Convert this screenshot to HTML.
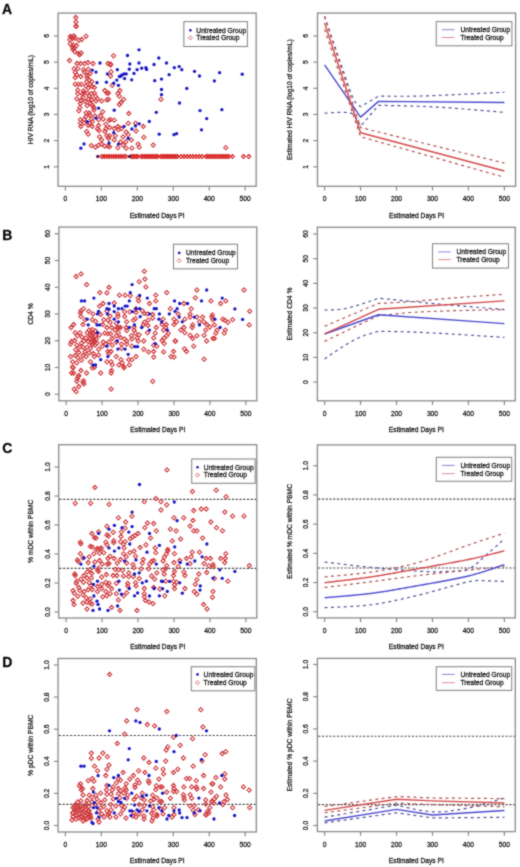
<!DOCTYPE html>
<html><head><meta charset="utf-8"><style>
html,body{margin:0;padding:0;background:#fff;width:520px;height:867px;overflow:hidden;}
svg{display:block;}
svg text{font-family:"Liberation Sans", sans-serif;font-size:6.7px;fill:#1a1a1a;stroke:#1a1a1a;stroke-width:0.26px;}
svg{will-change:transform;}
</style></head><body>
<svg width="520" height="867" viewBox="0 0 520 867">
<defs><filter id="soft" x="0" y="0" width="520" height="867" filterUnits="userSpaceOnUse" color-interpolation-filters="sRGB"><feConvolveMatrix order="3" kernelMatrix="1 2 1 2 12 2 1 2 1" divisor="24" edgeMode="duplicate"/></filter></defs>
<g filter="url(#soft)"><rect x="0" y="0" width="520" height="867" fill="#fff"/>
<rect x="58.10" y="13.10" width="198.10" height="173.20" fill="none" stroke="#8a8a8a" stroke-width="1.3"/>
<line x1="65.40" y1="186.30" x2="65.40" y2="190.50" stroke="#8a8a8a" stroke-width="1.2"/>
<text x="65.40" y="200.90" text-anchor="middle">0</text>
<line x1="101.36" y1="186.30" x2="101.36" y2="190.50" stroke="#8a8a8a" stroke-width="1.2"/>
<text x="101.36" y="200.90" text-anchor="middle">100</text>
<line x1="137.32" y1="186.30" x2="137.32" y2="190.50" stroke="#8a8a8a" stroke-width="1.2"/>
<text x="137.32" y="200.90" text-anchor="middle">200</text>
<line x1="173.28" y1="186.30" x2="173.28" y2="190.50" stroke="#8a8a8a" stroke-width="1.2"/>
<text x="173.28" y="200.90" text-anchor="middle">300</text>
<line x1="209.24" y1="186.30" x2="209.24" y2="190.50" stroke="#8a8a8a" stroke-width="1.2"/>
<text x="209.24" y="200.90" text-anchor="middle">400</text>
<line x1="245.20" y1="186.30" x2="245.20" y2="190.50" stroke="#8a8a8a" stroke-width="1.2"/>
<text x="245.20" y="200.90" text-anchor="middle">500</text>
<text x="157.15" y="217.50" text-anchor="middle">Estimated Days PI</text>
<line x1="58.10" y1="166.80" x2="53.90" y2="166.80" stroke="#8a8a8a" stroke-width="1.2"/>
<text transform="translate(48.90,166.80) rotate(-90)" text-anchor="middle">1</text>
<line x1="58.10" y1="140.64" x2="53.90" y2="140.64" stroke="#8a8a8a" stroke-width="1.2"/>
<text transform="translate(48.90,140.64) rotate(-90)" text-anchor="middle">2</text>
<line x1="58.10" y1="114.48" x2="53.90" y2="114.48" stroke="#8a8a8a" stroke-width="1.2"/>
<text transform="translate(48.90,114.48) rotate(-90)" text-anchor="middle">3</text>
<line x1="58.10" y1="88.32" x2="53.90" y2="88.32" stroke="#8a8a8a" stroke-width="1.2"/>
<text transform="translate(48.90,88.32) rotate(-90)" text-anchor="middle">4</text>
<line x1="58.10" y1="62.16" x2="53.90" y2="62.16" stroke="#8a8a8a" stroke-width="1.2"/>
<text transform="translate(48.90,62.16) rotate(-90)" text-anchor="middle">5</text>
<line x1="58.10" y1="36.00" x2="53.90" y2="36.00" stroke="#8a8a8a" stroke-width="1.2"/>
<text transform="translate(48.90,36.00) rotate(-90)" text-anchor="middle">6</text>
<text transform="translate(32.60,99.70) rotate(-90)" text-anchor="middle">HIV RNA (log10 of copies/mL)</text>
<rect x="317.50" y="13.10" width="198.10" height="173.20" fill="none" stroke="#8a8a8a" stroke-width="1.3"/>
<line x1="324.60" y1="186.30" x2="324.60" y2="190.50" stroke="#8a8a8a" stroke-width="1.2"/>
<text x="324.60" y="200.90" text-anchor="middle">0</text>
<line x1="360.56" y1="186.30" x2="360.56" y2="190.50" stroke="#8a8a8a" stroke-width="1.2"/>
<text x="360.56" y="200.90" text-anchor="middle">100</text>
<line x1="396.52" y1="186.30" x2="396.52" y2="190.50" stroke="#8a8a8a" stroke-width="1.2"/>
<text x="396.52" y="200.90" text-anchor="middle">200</text>
<line x1="432.48" y1="186.30" x2="432.48" y2="190.50" stroke="#8a8a8a" stroke-width="1.2"/>
<text x="432.48" y="200.90" text-anchor="middle">300</text>
<line x1="468.44" y1="186.30" x2="468.44" y2="190.50" stroke="#8a8a8a" stroke-width="1.2"/>
<text x="468.44" y="200.90" text-anchor="middle">400</text>
<line x1="504.40" y1="186.30" x2="504.40" y2="190.50" stroke="#8a8a8a" stroke-width="1.2"/>
<text x="504.40" y="200.90" text-anchor="middle">500</text>
<text x="416.55" y="217.50" text-anchor="middle">Estimated Days PI</text>
<line x1="317.50" y1="166.80" x2="313.30" y2="166.80" stroke="#8a8a8a" stroke-width="1.2"/>
<text transform="translate(308.30,166.80) rotate(-90)" text-anchor="middle">1</text>
<line x1="317.50" y1="140.64" x2="313.30" y2="140.64" stroke="#8a8a8a" stroke-width="1.2"/>
<text transform="translate(308.30,140.64) rotate(-90)" text-anchor="middle">2</text>
<line x1="317.50" y1="114.48" x2="313.30" y2="114.48" stroke="#8a8a8a" stroke-width="1.2"/>
<text transform="translate(308.30,114.48) rotate(-90)" text-anchor="middle">3</text>
<line x1="317.50" y1="88.32" x2="313.30" y2="88.32" stroke="#8a8a8a" stroke-width="1.2"/>
<text transform="translate(308.30,88.32) rotate(-90)" text-anchor="middle">4</text>
<line x1="317.50" y1="62.16" x2="313.30" y2="62.16" stroke="#8a8a8a" stroke-width="1.2"/>
<text transform="translate(308.30,62.16) rotate(-90)" text-anchor="middle">5</text>
<line x1="317.50" y1="36.00" x2="313.30" y2="36.00" stroke="#8a8a8a" stroke-width="1.2"/>
<text transform="translate(308.30,36.00) rotate(-90)" text-anchor="middle">6</text>
<text transform="translate(292.00,99.70) rotate(-90)" text-anchor="middle">Estimated HIV RNA (log10 of copies/mL)</text>
<rect x="58.90" y="227.10" width="197.90" height="173.70" fill="none" stroke="#8a8a8a" stroke-width="1.3"/>
<line x1="66.10" y1="400.80" x2="66.10" y2="405.00" stroke="#8a8a8a" stroke-width="1.2"/>
<text x="66.10" y="416.20" text-anchor="middle">0</text>
<line x1="102.06" y1="400.80" x2="102.06" y2="405.00" stroke="#8a8a8a" stroke-width="1.2"/>
<text x="102.06" y="416.20" text-anchor="middle">100</text>
<line x1="138.02" y1="400.80" x2="138.02" y2="405.00" stroke="#8a8a8a" stroke-width="1.2"/>
<text x="138.02" y="416.20" text-anchor="middle">200</text>
<line x1="173.98" y1="400.80" x2="173.98" y2="405.00" stroke="#8a8a8a" stroke-width="1.2"/>
<text x="173.98" y="416.20" text-anchor="middle">300</text>
<line x1="209.94" y1="400.80" x2="209.94" y2="405.00" stroke="#8a8a8a" stroke-width="1.2"/>
<text x="209.94" y="416.20" text-anchor="middle">400</text>
<line x1="245.90" y1="400.80" x2="245.90" y2="405.00" stroke="#8a8a8a" stroke-width="1.2"/>
<text x="245.90" y="416.20" text-anchor="middle">500</text>
<text x="157.85" y="432.00" text-anchor="middle">Estimated Days PI</text>
<line x1="58.90" y1="394.25" x2="54.70" y2="394.25" stroke="#8a8a8a" stroke-width="1.2"/>
<text transform="translate(49.70,394.25) rotate(-90)" text-anchor="middle">0</text>
<line x1="58.90" y1="367.50" x2="54.70" y2="367.50" stroke="#8a8a8a" stroke-width="1.2"/>
<text transform="translate(49.70,367.50) rotate(-90)" text-anchor="middle">10</text>
<line x1="58.90" y1="340.75" x2="54.70" y2="340.75" stroke="#8a8a8a" stroke-width="1.2"/>
<text transform="translate(49.70,340.75) rotate(-90)" text-anchor="middle">20</text>
<line x1="58.90" y1="314.00" x2="54.70" y2="314.00" stroke="#8a8a8a" stroke-width="1.2"/>
<text transform="translate(49.70,314.00) rotate(-90)" text-anchor="middle">30</text>
<line x1="58.90" y1="287.25" x2="54.70" y2="287.25" stroke="#8a8a8a" stroke-width="1.2"/>
<text transform="translate(49.70,287.25) rotate(-90)" text-anchor="middle">40</text>
<line x1="58.90" y1="260.50" x2="54.70" y2="260.50" stroke="#8a8a8a" stroke-width="1.2"/>
<text transform="translate(49.70,260.50) rotate(-90)" text-anchor="middle">50</text>
<line x1="58.90" y1="233.75" x2="54.70" y2="233.75" stroke="#8a8a8a" stroke-width="1.2"/>
<text transform="translate(49.70,233.75) rotate(-90)" text-anchor="middle">60</text>
<text transform="translate(33.40,313.95) rotate(-90)" text-anchor="middle">CD4 %</text>
<rect x="317.40" y="227.30" width="197.90" height="173.50" fill="none" stroke="#8a8a8a" stroke-width="1.3"/>
<line x1="324.60" y1="400.80" x2="324.60" y2="405.00" stroke="#8a8a8a" stroke-width="1.2"/>
<text x="324.60" y="416.20" text-anchor="middle">0</text>
<line x1="360.56" y1="400.80" x2="360.56" y2="405.00" stroke="#8a8a8a" stroke-width="1.2"/>
<text x="360.56" y="416.20" text-anchor="middle">100</text>
<line x1="396.52" y1="400.80" x2="396.52" y2="405.00" stroke="#8a8a8a" stroke-width="1.2"/>
<text x="396.52" y="416.20" text-anchor="middle">200</text>
<line x1="432.48" y1="400.80" x2="432.48" y2="405.00" stroke="#8a8a8a" stroke-width="1.2"/>
<text x="432.48" y="416.20" text-anchor="middle">300</text>
<line x1="468.44" y1="400.80" x2="468.44" y2="405.00" stroke="#8a8a8a" stroke-width="1.2"/>
<text x="468.44" y="416.20" text-anchor="middle">400</text>
<line x1="504.40" y1="400.80" x2="504.40" y2="405.00" stroke="#8a8a8a" stroke-width="1.2"/>
<text x="504.40" y="416.20" text-anchor="middle">500</text>
<text x="416.35" y="432.00" text-anchor="middle">Estimated Days PI</text>
<line x1="317.40" y1="382.10" x2="313.20" y2="382.10" stroke="#8a8a8a" stroke-width="1.2"/>
<text transform="translate(308.20,382.10) rotate(-90)" text-anchor="middle">0</text>
<line x1="317.40" y1="357.42" x2="313.20" y2="357.42" stroke="#8a8a8a" stroke-width="1.2"/>
<text transform="translate(308.20,357.42) rotate(-90)" text-anchor="middle">10</text>
<line x1="317.40" y1="332.74" x2="313.20" y2="332.74" stroke="#8a8a8a" stroke-width="1.2"/>
<text transform="translate(308.20,332.74) rotate(-90)" text-anchor="middle">20</text>
<line x1="317.40" y1="308.06" x2="313.20" y2="308.06" stroke="#8a8a8a" stroke-width="1.2"/>
<text transform="translate(308.20,308.06) rotate(-90)" text-anchor="middle">30</text>
<line x1="317.40" y1="283.38" x2="313.20" y2="283.38" stroke="#8a8a8a" stroke-width="1.2"/>
<text transform="translate(308.20,283.38) rotate(-90)" text-anchor="middle">40</text>
<line x1="317.40" y1="258.70" x2="313.20" y2="258.70" stroke="#8a8a8a" stroke-width="1.2"/>
<text transform="translate(308.20,258.70) rotate(-90)" text-anchor="middle">50</text>
<line x1="317.40" y1="234.02" x2="313.20" y2="234.02" stroke="#8a8a8a" stroke-width="1.2"/>
<text transform="translate(308.20,234.02) rotate(-90)" text-anchor="middle">60</text>
<text transform="translate(291.90,314.05) rotate(-90)" text-anchor="middle">Estimated CD4 %</text>
<rect x="58.70" y="444.70" width="198.10" height="173.30" fill="none" stroke="#8a8a8a" stroke-width="1.3"/>
<line x1="66.10" y1="618.00" x2="66.10" y2="622.20" stroke="#8a8a8a" stroke-width="1.2"/>
<text x="66.10" y="633.40" text-anchor="middle">0</text>
<line x1="102.06" y1="618.00" x2="102.06" y2="622.20" stroke="#8a8a8a" stroke-width="1.2"/>
<text x="102.06" y="633.40" text-anchor="middle">100</text>
<line x1="138.02" y1="618.00" x2="138.02" y2="622.20" stroke="#8a8a8a" stroke-width="1.2"/>
<text x="138.02" y="633.40" text-anchor="middle">200</text>
<line x1="173.98" y1="618.00" x2="173.98" y2="622.20" stroke="#8a8a8a" stroke-width="1.2"/>
<text x="173.98" y="633.40" text-anchor="middle">300</text>
<line x1="209.94" y1="618.00" x2="209.94" y2="622.20" stroke="#8a8a8a" stroke-width="1.2"/>
<text x="209.94" y="633.40" text-anchor="middle">400</text>
<line x1="245.90" y1="618.00" x2="245.90" y2="622.20" stroke="#8a8a8a" stroke-width="1.2"/>
<text x="245.90" y="633.40" text-anchor="middle">500</text>
<text x="157.75" y="649.20" text-anchor="middle">Estimated Days PI</text>
<line x1="58.70" y1="612.00" x2="54.50" y2="612.00" stroke="#8a8a8a" stroke-width="1.2"/>
<text transform="translate(49.50,612.00) rotate(-90)" text-anchor="middle">0.0</text>
<line x1="58.70" y1="583.00" x2="54.50" y2="583.00" stroke="#8a8a8a" stroke-width="1.2"/>
<text transform="translate(49.50,583.00) rotate(-90)" text-anchor="middle">0.2</text>
<line x1="58.70" y1="554.00" x2="54.50" y2="554.00" stroke="#8a8a8a" stroke-width="1.2"/>
<text transform="translate(49.50,554.00) rotate(-90)" text-anchor="middle">0.4</text>
<line x1="58.70" y1="525.00" x2="54.50" y2="525.00" stroke="#8a8a8a" stroke-width="1.2"/>
<text transform="translate(49.50,525.00) rotate(-90)" text-anchor="middle">0.6</text>
<line x1="58.70" y1="496.00" x2="54.50" y2="496.00" stroke="#8a8a8a" stroke-width="1.2"/>
<text transform="translate(49.50,496.00) rotate(-90)" text-anchor="middle">0.8</text>
<line x1="58.70" y1="467.00" x2="54.50" y2="467.00" stroke="#8a8a8a" stroke-width="1.2"/>
<text transform="translate(49.50,467.00) rotate(-90)" text-anchor="middle">1.0</text>
<text transform="translate(33.20,531.35) rotate(-90)" text-anchor="middle">% mDC within PBMC</text>
<rect x="317.40" y="444.90" width="197.90" height="173.00" fill="none" stroke="#8a8a8a" stroke-width="1.3"/>
<line x1="324.60" y1="617.90" x2="324.60" y2="622.10" stroke="#8a8a8a" stroke-width="1.2"/>
<text x="324.60" y="633.30" text-anchor="middle">0</text>
<line x1="360.56" y1="617.90" x2="360.56" y2="622.10" stroke="#8a8a8a" stroke-width="1.2"/>
<text x="360.56" y="633.30" text-anchor="middle">100</text>
<line x1="396.52" y1="617.90" x2="396.52" y2="622.10" stroke="#8a8a8a" stroke-width="1.2"/>
<text x="396.52" y="633.30" text-anchor="middle">200</text>
<line x1="432.48" y1="617.90" x2="432.48" y2="622.10" stroke="#8a8a8a" stroke-width="1.2"/>
<text x="432.48" y="633.30" text-anchor="middle">300</text>
<line x1="468.44" y1="617.90" x2="468.44" y2="622.10" stroke="#8a8a8a" stroke-width="1.2"/>
<text x="468.44" y="633.30" text-anchor="middle">400</text>
<line x1="504.40" y1="617.90" x2="504.40" y2="622.10" stroke="#8a8a8a" stroke-width="1.2"/>
<text x="504.40" y="633.30" text-anchor="middle">500</text>
<text x="416.35" y="649.10" text-anchor="middle">Estimated Days PI</text>
<line x1="317.40" y1="611.75" x2="313.20" y2="611.75" stroke="#8a8a8a" stroke-width="1.2"/>
<text transform="translate(308.20,611.75) rotate(-90)" text-anchor="middle">0.0</text>
<line x1="317.40" y1="582.55" x2="313.20" y2="582.55" stroke="#8a8a8a" stroke-width="1.2"/>
<text transform="translate(308.20,582.55) rotate(-90)" text-anchor="middle">0.2</text>
<line x1="317.40" y1="553.35" x2="313.20" y2="553.35" stroke="#8a8a8a" stroke-width="1.2"/>
<text transform="translate(308.20,553.35) rotate(-90)" text-anchor="middle">0.4</text>
<line x1="317.40" y1="524.15" x2="313.20" y2="524.15" stroke="#8a8a8a" stroke-width="1.2"/>
<text transform="translate(308.20,524.15) rotate(-90)" text-anchor="middle">0.6</text>
<line x1="317.40" y1="494.95" x2="313.20" y2="494.95" stroke="#8a8a8a" stroke-width="1.2"/>
<text transform="translate(308.20,494.95) rotate(-90)" text-anchor="middle">0.8</text>
<line x1="317.40" y1="465.75" x2="313.20" y2="465.75" stroke="#8a8a8a" stroke-width="1.2"/>
<text transform="translate(308.20,465.75) rotate(-90)" text-anchor="middle">1.0</text>
<text transform="translate(291.90,531.40) rotate(-90)" text-anchor="middle">Estimated % mDC within PBMC</text>
<rect x="58.10" y="658.50" width="198.20" height="173.50" fill="none" stroke="#8a8a8a" stroke-width="1.3"/>
<line x1="65.40" y1="832.00" x2="65.40" y2="836.20" stroke="#8a8a8a" stroke-width="1.2"/>
<text x="65.40" y="847.40" text-anchor="middle">0</text>
<line x1="101.36" y1="832.00" x2="101.36" y2="836.20" stroke="#8a8a8a" stroke-width="1.2"/>
<text x="101.36" y="847.40" text-anchor="middle">100</text>
<line x1="137.32" y1="832.00" x2="137.32" y2="836.20" stroke="#8a8a8a" stroke-width="1.2"/>
<text x="137.32" y="847.40" text-anchor="middle">200</text>
<line x1="173.28" y1="832.00" x2="173.28" y2="836.20" stroke="#8a8a8a" stroke-width="1.2"/>
<text x="173.28" y="847.40" text-anchor="middle">300</text>
<line x1="209.24" y1="832.00" x2="209.24" y2="836.20" stroke="#8a8a8a" stroke-width="1.2"/>
<text x="209.24" y="847.40" text-anchor="middle">400</text>
<line x1="245.20" y1="832.00" x2="245.20" y2="836.20" stroke="#8a8a8a" stroke-width="1.2"/>
<text x="245.20" y="847.40" text-anchor="middle">500</text>
<text x="157.20" y="863.20" text-anchor="middle">Estimated Days PI</text>
<line x1="58.10" y1="825.50" x2="53.90" y2="825.50" stroke="#8a8a8a" stroke-width="1.2"/>
<text transform="translate(48.90,825.50) rotate(-90)" text-anchor="middle">0.0</text>
<line x1="58.10" y1="793.40" x2="53.90" y2="793.40" stroke="#8a8a8a" stroke-width="1.2"/>
<text transform="translate(48.90,793.40) rotate(-90)" text-anchor="middle">0.2</text>
<line x1="58.10" y1="761.30" x2="53.90" y2="761.30" stroke="#8a8a8a" stroke-width="1.2"/>
<text transform="translate(48.90,761.30) rotate(-90)" text-anchor="middle">0.4</text>
<line x1="58.10" y1="729.20" x2="53.90" y2="729.20" stroke="#8a8a8a" stroke-width="1.2"/>
<text transform="translate(48.90,729.20) rotate(-90)" text-anchor="middle">0.6</text>
<line x1="58.10" y1="697.10" x2="53.90" y2="697.10" stroke="#8a8a8a" stroke-width="1.2"/>
<text transform="translate(48.90,697.10) rotate(-90)" text-anchor="middle">0.8</text>
<line x1="58.10" y1="665.00" x2="53.90" y2="665.00" stroke="#8a8a8a" stroke-width="1.2"/>
<text transform="translate(48.90,665.00) rotate(-90)" text-anchor="middle">1.0</text>
<text transform="translate(32.60,745.25) rotate(-90)" text-anchor="middle">% pDC within PBMC</text>
<rect x="317.40" y="658.40" width="197.90" height="173.20" fill="none" stroke="#8a8a8a" stroke-width="1.3"/>
<line x1="324.60" y1="831.60" x2="324.60" y2="835.80" stroke="#8a8a8a" stroke-width="1.2"/>
<text x="324.60" y="847.00" text-anchor="middle">0</text>
<line x1="360.56" y1="831.60" x2="360.56" y2="835.80" stroke="#8a8a8a" stroke-width="1.2"/>
<text x="360.56" y="847.00" text-anchor="middle">100</text>
<line x1="396.52" y1="831.60" x2="396.52" y2="835.80" stroke="#8a8a8a" stroke-width="1.2"/>
<text x="396.52" y="847.00" text-anchor="middle">200</text>
<line x1="432.48" y1="831.60" x2="432.48" y2="835.80" stroke="#8a8a8a" stroke-width="1.2"/>
<text x="432.48" y="847.00" text-anchor="middle">300</text>
<line x1="468.44" y1="831.60" x2="468.44" y2="835.80" stroke="#8a8a8a" stroke-width="1.2"/>
<text x="468.44" y="847.00" text-anchor="middle">400</text>
<line x1="504.40" y1="831.60" x2="504.40" y2="835.80" stroke="#8a8a8a" stroke-width="1.2"/>
<text x="504.40" y="847.00" text-anchor="middle">500</text>
<text x="416.35" y="862.80" text-anchor="middle">Estimated Days PI</text>
<line x1="317.40" y1="825.50" x2="313.20" y2="825.50" stroke="#8a8a8a" stroke-width="1.2"/>
<text transform="translate(308.20,825.50) rotate(-90)" text-anchor="middle">0.0</text>
<line x1="317.40" y1="793.30" x2="313.20" y2="793.30" stroke="#8a8a8a" stroke-width="1.2"/>
<text transform="translate(308.20,793.30) rotate(-90)" text-anchor="middle">0.2</text>
<line x1="317.40" y1="761.10" x2="313.20" y2="761.10" stroke="#8a8a8a" stroke-width="1.2"/>
<text transform="translate(308.20,761.10) rotate(-90)" text-anchor="middle">0.4</text>
<line x1="317.40" y1="728.90" x2="313.20" y2="728.90" stroke="#8a8a8a" stroke-width="1.2"/>
<text transform="translate(308.20,728.90) rotate(-90)" text-anchor="middle">0.6</text>
<line x1="317.40" y1="696.70" x2="313.20" y2="696.70" stroke="#8a8a8a" stroke-width="1.2"/>
<text transform="translate(308.20,696.70) rotate(-90)" text-anchor="middle">0.8</text>
<line x1="317.40" y1="664.50" x2="313.20" y2="664.50" stroke="#8a8a8a" stroke-width="1.2"/>
<text transform="translate(308.20,664.50) rotate(-90)" text-anchor="middle">1.0</text>
<text transform="translate(291.90,745.00) rotate(-90)" text-anchor="middle">Estimated % pDC within PBMC</text>
<line x1="59.40" y1="499.30" x2="256.10" y2="499.30" stroke="#4a4a4a" stroke-width="1.15" stroke-dasharray="2.2 1.55"/>
<line x1="59.40" y1="568.30" x2="256.10" y2="568.30" stroke="#4a4a4a" stroke-width="1.15" stroke-dasharray="2.2 1.55"/>
<line x1="318.10" y1="499.10" x2="514.60" y2="499.10" stroke="#4a4a4a" stroke-width="1.15" stroke-dasharray="2.2 1.55"/>
<line x1="318.10" y1="568.00" x2="514.60" y2="568.00" stroke="#4a4a4a" stroke-width="1.15" stroke-dasharray="2.2 1.55"/>
<line x1="58.80" y1="735.50" x2="255.60" y2="735.50" stroke="#4a4a4a" stroke-width="1.15" stroke-dasharray="2.2 1.55"/>
<line x1="58.80" y1="804.30" x2="255.60" y2="804.30" stroke="#4a4a4a" stroke-width="1.15" stroke-dasharray="2.2 1.55"/>
<line x1="318.10" y1="736.20" x2="514.60" y2="736.20" stroke="#4a4a4a" stroke-width="1.15" stroke-dasharray="2.2 1.55"/>
<line x1="318.10" y1="804.60" x2="514.60" y2="804.60" stroke="#4a4a4a" stroke-width="1.15" stroke-dasharray="2.2 1.55"/>
<path d="M324.60 16.38 L325.70 19.59 L327.16 23.85 L328.90 28.93 L330.84 34.61 L332.92 40.66 L335.04 46.86 L337.15 52.99 L339.16 58.82 L340.99 64.13 L342.58 68.70 L343.97 72.71 L345.26 76.50 L346.46 80.06 L347.59 83.40 L348.65 86.52 L349.66 89.42 L350.62 92.09 L351.56 94.55 L352.47 96.78 L353.37 98.78 L354.27 100.50 L355.15 101.90 L356.02 103.02 L356.85 103.90 L357.64 104.59 L358.37 105.13 L359.04 105.55 L359.64 105.92 L360.15 106.27 L360.56 106.63 L378.54 96.17 L380.68 96.17 L383.43 96.19 L386.68 96.21 L390.33 96.23 L394.27 96.25 L398.39 96.26 L402.58 96.26 L406.73 96.25 L410.74 96.22 L414.50 96.17 L418.02 96.10 L421.40 96.01 L424.72 95.91 L428.02 95.80 L431.36 95.68 L434.78 95.54 L438.35 95.39 L442.12 95.23 L446.14 95.05 L450.46 94.86 L455.37 94.64 L460.96 94.38 L467.02 94.09 L473.33 93.78 L479.68 93.47 L485.84 93.16 L491.62 92.88 L496.78 92.62 L501.11 92.41 L504.40 92.24" fill="none" stroke="#50509a" stroke-width="1.2" stroke-dasharray="3 3.4" stroke-linejoin="round"/>
<path d="M324.60 113.17 L325.70 113.11 L327.16 113.02 L328.90 112.90 L330.84 112.78 L332.92 112.65 L335.04 112.53 L337.15 112.44 L339.16 112.37 L340.99 112.35 L342.58 112.39 L343.97 112.44 L345.26 112.47 L346.46 112.50 L347.59 112.55 L348.65 112.65 L349.66 112.81 L350.62 113.05 L351.56 113.40 L352.47 113.87 L353.37 114.48 L354.27 115.32 L355.15 116.40 L356.02 117.67 L356.85 119.06 L357.64 120.50 L358.37 121.93 L359.04 123.28 L359.64 124.50 L360.15 125.51 L360.56 126.25 L378.54 105.32 L380.68 105.37 L383.43 105.41 L386.68 105.47 L390.33 105.53 L394.27 105.60 L398.39 105.68 L402.58 105.77 L406.73 105.87 L410.74 105.98 L414.50 106.11 L418.02 106.24 L421.40 106.37 L424.72 106.50 L428.02 106.64 L431.36 106.80 L434.78 106.97 L438.35 107.17 L442.12 107.39 L446.14 107.65 L450.46 107.94 L455.37 108.30 L460.96 108.73 L467.02 109.22 L473.33 109.74 L479.68 110.28 L485.84 110.80 L491.62 111.30 L496.78 111.74 L501.11 112.11 L504.40 112.39" fill="none" stroke="#50509a" stroke-width="1.2" stroke-dasharray="3 3.4" stroke-linejoin="round"/>
<path d="M324.60 16.38 L360.56 127.56 L504.40 163.14" fill="none" stroke="#b05050" stroke-width="1.2" stroke-dasharray="3 3.4" stroke-linejoin="round"/>
<path d="M324.60 29.46 L360.56 136.72 L504.40 177.26" fill="none" stroke="#b05050" stroke-width="1.2" stroke-dasharray="3 3.4" stroke-linejoin="round"/>
<path d="M324.60 64.78 L360.56 117.10 L378.54 101.40 L504.40 102.45" fill="none" stroke="#4a4ad0" stroke-width="1.4" stroke-linejoin="round"/>
<path d="M324.60 22.92 L360.56 132.79 L504.40 170.99" fill="none" stroke="#d44848" stroke-width="1.4" stroke-linejoin="round"/>
<path d="M324.60 310.03 L325.67 309.99 L327.05 309.96 L328.67 309.93 L330.50 309.89 L332.47 309.83 L334.52 309.76 L336.62 309.65 L338.70 309.50 L340.70 309.30 L342.58 309.05 L344.38 308.73 L346.18 308.37 L347.97 307.96 L349.77 307.51 L351.57 307.03 L353.37 306.52 L355.17 305.99 L356.96 305.45 L358.76 304.90 L360.56 304.36 L362.44 303.77 L364.44 303.12 L366.52 302.42 L368.62 301.70 L370.67 300.98 L372.64 300.28 L374.47 299.63 L376.09 299.05 L377.47 298.56 L378.54 298.19 L380.43 298.38 L382.83 298.62 L385.64 298.90 L388.81 299.22 L392.25 299.56 L395.89 299.92 L399.65 300.30 L403.45 300.67 L407.23 301.04 L410.90 301.40 L414.50 301.74 L418.12 302.09 L421.79 302.45 L425.52 302.81 L429.33 303.17 L433.26 303.54 L437.31 303.92 L441.51 304.30 L445.89 304.70 L450.46 305.10 L455.51 305.53 L461.19 306.01 L467.28 306.52 L473.59 307.04 L479.90 307.55 L486.02 308.05 L491.73 308.51 L496.83 308.92 L501.13 309.27 L504.40 309.54" fill="none" stroke="#50509a" stroke-width="1.2" stroke-dasharray="3 3.4" stroke-linejoin="round"/>
<path d="M324.60 358.90 L325.67 358.17 L327.05 357.22 L328.67 356.09 L330.50 354.83 L332.47 353.47 L334.52 352.07 L336.62 350.65 L338.70 349.28 L340.70 347.98 L342.58 346.81 L344.38 345.71 L346.18 344.62 L347.97 343.55 L349.77 342.50 L351.57 341.47 L353.37 340.48 L355.17 339.52 L356.96 338.61 L358.76 337.74 L360.56 336.94 L362.44 336.17 L364.44 335.44 L366.52 334.75 L368.62 334.09 L370.67 333.48 L372.64 332.92 L374.47 332.41 L376.09 331.96 L377.47 331.58 L378.54 331.26 L380.43 331.30 L382.83 331.34 L385.64 331.39 L388.81 331.44 L392.25 331.51 L395.89 331.58 L399.65 331.66 L403.45 331.76 L407.23 331.87 L410.90 332.00 L414.50 332.14 L418.12 332.29 L421.79 332.45 L425.52 332.63 L429.33 332.82 L433.26 333.02 L437.31 333.23 L441.51 333.46 L445.89 333.71 L450.46 333.97 L455.51 334.28 L461.19 334.63 L467.28 335.01 L473.59 335.42 L479.90 335.83 L486.02 336.22 L491.73 336.60 L496.83 336.94 L501.13 337.22 L504.40 337.43" fill="none" stroke="#50509a" stroke-width="1.2" stroke-dasharray="3 3.4" stroke-linejoin="round"/>
<path d="M324.60 326.32 L327.53 325.06 L331.59 323.31 L336.40 321.23 L341.58 319.00 L346.76 316.78 L351.57 314.72 L356.38 312.69 L361.56 310.50 L366.74 308.32 L371.55 306.30 L375.61 304.60 L378.54 303.37 L380.43 303.28 L382.83 303.16 L385.64 303.03 L388.81 302.89 L392.25 302.72 L395.89 302.54 L399.65 302.34 L403.45 302.13 L407.23 301.89 L410.90 301.64 L414.50 301.37 L418.12 301.07 L421.79 300.75 L425.52 300.41 L429.33 300.05 L433.26 299.69 L437.31 299.32 L441.51 298.94 L445.89 298.56 L450.46 298.19 L455.51 297.80 L461.19 297.37 L467.28 296.92 L473.59 296.45 L479.90 296.00 L486.02 295.56 L491.73 295.15 L496.83 294.78 L501.13 294.48 L504.40 294.24" fill="none" stroke="#b05050" stroke-width="1.2" stroke-dasharray="3 3.4" stroke-linejoin="round"/>
<path d="M324.60 341.38 L327.53 339.95 L331.59 337.97 L336.40 335.62 L341.58 333.11 L346.76 330.60 L351.57 328.30 L356.38 326.03 L361.56 323.60 L366.74 321.19 L371.55 318.96 L375.61 317.07 L378.54 315.71 L380.43 315.51 L382.83 315.25 L385.64 314.94 L388.81 314.59 L392.25 314.21 L395.89 313.83 L399.65 313.46 L403.45 313.10 L407.23 312.78 L410.90 312.50 L414.50 312.27 L418.12 312.05 L421.79 311.86 L425.52 311.68 L429.33 311.52 L433.26 311.36 L437.31 311.21 L441.51 311.07 L445.89 310.92 L450.46 310.77 L455.51 310.63 L461.19 310.48 L467.28 310.33 L473.59 310.19 L479.90 310.05 L486.02 309.92 L491.73 309.80 L496.83 309.70 L501.13 309.61 L504.40 309.54" fill="none" stroke="#b05050" stroke-width="1.2" stroke-dasharray="3 3.4" stroke-linejoin="round"/>
<path d="M324.60 333.97 L378.54 314.72 L504.40 323.61" fill="none" stroke="#4a4ad0" stroke-width="1.4" stroke-linejoin="round"/>
<path d="M324.60 333.97 L378.54 309.29 L504.40 300.90" fill="none" stroke="#d44848" stroke-width="1.4" stroke-linejoin="round"/>
<path d="M324.60 562.11 L325.21 562.18 L325.88 562.26 L326.61 562.34 L327.38 562.43 L328.21 562.53 L329.08 562.63 L330.00 562.74 L330.96 562.85 L331.96 562.97 L333.00 563.09 L334.08 563.22 L335.19 563.35 L336.33 563.48 L337.51 563.62 L338.71 563.76 L339.93 563.90 L341.18 564.05 L342.45 564.20 L343.75 564.35 L345.05 564.50 L346.37 564.65 L347.71 564.81 L349.05 564.96 L350.40 565.12 L351.76 565.27 L353.13 565.43 L354.49 565.58 L355.85 565.73 L357.21 565.88 L358.57 566.03 L359.91 566.18 L361.25 566.32 L362.58 566.47 L363.89 566.61 L365.18 566.74 L366.46 566.88 L367.72 567.00 L368.96 567.13 L370.17 567.25 L371.35 567.37 L372.52 567.48 L373.71 567.59 L374.91 567.71 L376.12 567.82 L377.34 567.93 L378.57 568.05 L379.80 568.16 L381.04 568.27 L382.29 568.38 L383.54 568.50 L384.80 568.61 L386.05 568.72 L387.31 568.83 L388.57 568.94 L389.83 569.04 L391.08 569.15 L392.34 569.26 L393.59 569.36 L394.83 569.46 L396.07 569.57 L397.30 569.67 L398.53 569.76 L399.74 569.86 L400.95 569.96 L402.15 570.05 L403.33 570.14 L404.50 570.23 L405.66 570.32 L406.80 570.40 L407.93 570.48 L409.04 570.56 L410.13 570.64 L411.20 570.72 L412.25 570.79 L413.28 570.86 L414.30 570.92 L415.28 570.99 L416.25 571.05 L417.18 571.11 L418.10 571.16 L418.98 571.21 L419.84 571.26 L420.68 571.31 L421.49 571.36 L422.27 571.40 L423.04 571.44 L423.79 571.48 L424.51 571.52 L425.22 571.55 L425.91 571.59 L426.58 571.62 L427.23 571.65 L427.87 571.67 L428.50 571.70 L429.12 571.72 L429.72 571.74 L430.31 571.76 L430.89 571.77 L431.47 571.79 L432.03 571.80 L432.59 571.81 L433.14 571.82 L433.69 571.82 L434.23 571.83 L434.78 571.83 L435.32 571.83 L435.86 571.83 L436.40 571.82 L436.94 571.81 L437.48 571.81 L438.03 571.79 L438.58 571.78 L439.14 571.77 L439.70 571.75 L440.27 571.73 L440.85 571.71 L441.44 571.68 L442.04 571.66 L442.65 571.63 L443.27 571.60 L443.90 571.57 L444.54 571.54 L445.17 571.52 L445.82 571.49 L446.46 571.47 L447.11 571.45 L447.76 571.43 L448.42 571.41 L449.07 571.38 L449.73 571.36 L450.39 571.34 L451.05 571.32 L451.71 571.29 L452.36 571.26 L453.02 571.23 L453.68 571.20 L454.34 571.16 L455.00 571.12 L455.65 571.08 L456.30 571.03 L456.95 570.98 L457.60 570.93 L458.25 570.86 L458.89 570.80 L459.53 570.72 L460.16 570.65 L460.79 570.56 L461.42 570.47 L462.04 570.37 L462.65 570.26 L463.26 570.14 L463.87 570.02 L464.46 569.89 L465.05 569.74 L465.64 569.59 L466.21 569.43 L466.78 569.26 L467.34 569.08 L467.90 568.88 L468.44 568.68 L468.97 568.46 L469.50 568.24 L470.02 568.00 L470.53 567.75 L471.03 567.49 L471.53 567.21 L472.01 566.93 L472.50 566.64 L472.97 566.34 L473.44 566.03 L473.90 565.72 L474.36 565.39 L474.82 565.06 L475.26 564.72 L475.71 564.38 L476.15 564.03 L476.59 563.67 L477.02 563.31 L477.45 562.94 L477.88 562.57 L478.31 562.19 L478.73 561.81 L479.15 561.43 L479.57 561.04 L479.99 560.65 L480.41 560.26 L480.83 559.87 L481.25 559.48 L481.67 559.08 L482.09 558.69 L482.52 558.29 L482.94 557.90 L483.36 557.51 L483.79 557.11 L484.22 556.72 L484.65 556.33 L485.09 555.95 L485.53 555.57 L485.97 555.19 L486.42 554.81 L486.87 554.43 L487.34 554.04 L487.82 553.63 L488.30 553.22 L488.79 552.80 L489.29 552.37 L489.79 551.93 L490.30 551.48 L490.82 551.03 L491.34 550.57 L491.86 550.11 L492.38 549.65 L492.90 549.18 L493.43 548.71 L493.95 548.24 L494.48 547.77 L495.00 547.30 L495.51 546.84 L496.03 546.37 L496.53 545.91 L497.04 545.46 L497.53 545.01 L498.02 544.56 L498.50 544.12 L498.97 543.69 L499.44 543.27 L499.89 542.86 L500.33 542.46 L500.75 542.07 L501.17 541.69 L501.57 541.32 L501.95 540.97 L502.32 540.63 L502.68 540.31 L503.01 540.00 L503.33 539.72 L503.63 539.44 L503.91 539.19 L504.16 538.96 L504.40 538.75" fill="none" stroke="#50509a" stroke-width="1.2" stroke-dasharray="3 3.4" stroke-linejoin="round"/>
<path d="M324.60 607.66 L325.21 607.63 L325.88 607.59 L326.61 607.55 L327.38 607.52 L328.21 607.48 L329.08 607.45 L330.00 607.41 L330.96 607.37 L331.96 607.33 L333.00 607.29 L334.08 607.25 L335.19 607.21 L336.33 607.16 L337.51 607.12 L338.71 607.07 L339.93 607.02 L341.18 606.97 L342.45 606.91 L343.75 606.86 L345.05 606.80 L346.37 606.73 L347.71 606.67 L349.05 606.60 L350.40 606.52 L351.76 606.45 L353.13 606.37 L354.49 606.28 L355.85 606.19 L357.21 606.10 L358.57 606.00 L359.91 605.90 L361.25 605.79 L362.58 605.68 L363.89 605.56 L365.18 605.44 L366.46 605.31 L367.72 605.18 L368.96 605.04 L370.17 604.89 L371.35 604.74 L372.52 604.58 L373.68 604.42 L374.84 604.25 L376.01 604.08 L377.17 603.90 L378.33 603.71 L379.48 603.52 L380.64 603.33 L381.80 603.13 L382.95 602.92 L384.11 602.72 L385.26 602.50 L386.41 602.28 L387.57 602.06 L388.72 601.84 L389.87 601.61 L391.03 601.38 L392.18 601.14 L393.34 600.90 L394.50 600.65 L395.66 600.41 L396.81 600.16 L397.98 599.90 L399.14 599.65 L400.30 599.39 L401.47 599.13 L402.64 598.86 L403.81 598.60 L404.98 598.33 L406.16 598.06 L407.33 597.78 L408.52 597.51 L409.70 597.23 L410.89 596.95 L412.08 596.67 L413.28 596.39 L414.47 596.11 L415.68 595.82 L416.88 595.54 L418.10 595.25 L419.32 594.96 L420.57 594.65 L421.84 594.34 L423.13 594.01 L424.44 593.68 L425.76 593.33 L427.10 592.98 L428.45 592.62 L429.82 592.25 L431.19 591.88 L432.57 591.50 L433.95 591.12 L435.35 590.74 L436.74 590.35 L438.13 589.96 L439.53 589.57 L440.92 589.18 L442.31 588.78 L443.69 588.39 L445.07 588.01 L446.43 587.62 L447.79 587.24 L449.13 586.86 L450.46 586.49 L451.77 586.12 L453.07 585.76 L454.35 585.41 L455.60 585.06 L456.84 584.72 L458.05 584.40 L459.23 584.08 L460.38 583.78 L461.51 583.48 L462.61 583.20 L463.67 582.93 L464.70 582.68 L465.69 582.44 L466.65 582.22 L467.56 582.01 L468.44 581.82 L469.27 581.65 L470.07 581.49 L470.83 581.34 L471.55 581.21 L472.24 581.09 L472.89 580.98 L473.51 580.88 L474.11 580.79 L474.67 580.72 L475.21 580.65 L475.72 580.59 L476.21 580.55 L476.68 580.51 L477.13 580.47 L477.55 580.45 L477.96 580.43 L478.36 580.42 L478.73 580.42 L479.10 580.42 L479.45 580.42 L479.80 580.43 L480.13 580.45 L480.46 580.46 L480.78 580.48 L481.10 580.51 L481.42 580.53 L481.73 580.56 L482.05 580.58 L482.36 580.61 L482.68 580.64 L483.01 580.67 L483.34 580.69 L483.68 580.72 L484.03 580.74 L484.39 580.76 L484.77 580.77 L485.16 580.79 L485.56 580.79 L485.98 580.80 L486.42 580.80 L486.87 580.80 L487.34 580.80 L487.82 580.80 L488.30 580.80 L488.79 580.81 L489.29 580.82 L489.79 580.83 L490.30 580.84 L490.82 580.86 L491.34 580.87 L491.86 580.89 L492.38 580.91 L492.90 580.93 L493.43 580.95 L493.95 580.98 L494.48 581.00 L495.00 581.02 L495.51 581.05 L496.03 581.07 L496.53 581.10 L497.04 581.13 L497.53 581.15 L498.02 581.18 L498.50 581.20 L498.97 581.23 L499.44 581.26 L499.89 581.28 L500.33 581.31 L500.75 581.33 L501.17 581.36 L501.57 581.38 L501.95 581.40 L502.32 581.42 L502.68 581.44 L503.01 581.46 L503.33 581.48 L503.63 581.49 L503.91 581.51 L504.16 581.52 L504.40 581.53" fill="none" stroke="#50509a" stroke-width="1.2" stroke-dasharray="3 3.4" stroke-linejoin="round"/>
<path d="M324.60 576.86 L325.21 576.79 L325.88 576.73 L326.61 576.66 L327.38 576.59 L328.21 576.52 L329.08 576.44 L330.00 576.36 L330.96 576.28 L331.96 576.19 L333.00 576.10 L334.08 576.01 L335.19 575.91 L336.33 575.81 L337.51 575.71 L338.71 575.61 L339.93 575.50 L341.18 575.39 L342.45 575.28 L343.75 575.16 L345.05 575.04 L346.37 574.92 L347.71 574.79 L349.05 574.66 L350.40 574.53 L351.76 574.40 L353.13 574.26 L354.49 574.12 L355.85 573.98 L357.21 573.83 L358.57 573.68 L359.91 573.53 L361.25 573.38 L362.58 573.22 L363.89 573.06 L365.18 572.90 L366.46 572.73 L367.72 572.56 L368.96 572.39 L370.17 572.22 L371.35 572.04 L372.52 571.86 L373.68 571.68 L374.84 571.50 L376.01 571.31 L377.17 571.13 L378.33 570.94 L379.48 570.76 L380.64 570.57 L381.80 570.38 L382.95 570.18 L384.11 569.99 L385.26 569.79 L386.41 569.59 L387.57 569.38 L388.72 569.17 L389.87 568.96 L391.03 568.75 L392.18 568.53 L393.34 568.31 L394.50 568.09 L395.66 567.86 L396.81 567.63 L397.98 567.39 L399.14 567.15 L400.30 566.90 L401.47 566.65 L402.64 566.39 L403.81 566.13 L404.98 565.87 L406.16 565.59 L407.33 565.32 L408.52 565.03 L409.70 564.75 L410.89 564.45 L412.08 564.15 L413.28 563.84 L414.47 563.53 L415.68 563.21 L416.88 562.88 L418.10 562.55 L419.32 562.20 L420.55 561.85 L421.79 561.48 L423.05 561.10 L424.32 560.70 L425.59 560.30 L426.87 559.89 L428.16 559.47 L429.46 559.04 L430.77 558.60 L432.08 558.16 L433.39 557.71 L434.70 557.25 L436.02 556.79 L437.34 556.32 L438.67 555.85 L439.99 555.38 L441.31 554.90 L442.63 554.42 L443.94 553.94 L445.26 553.46 L446.56 552.98 L447.87 552.50 L449.17 552.02 L450.46 551.54 L451.74 551.07 L453.01 550.60 L454.28 550.13 L455.54 549.67 L456.78 549.21 L458.01 548.75 L459.23 548.31 L460.44 547.87 L461.63 547.43 L462.81 547.01 L463.97 546.59 L465.12 546.18 L466.24 545.79 L467.35 545.40 L468.44 545.03 L469.52 544.66 L470.61 544.29 L471.69 543.92 L472.78 543.55 L473.87 543.18 L474.96 542.82 L476.04 542.45 L477.13 542.09 L478.21 541.72 L479.28 541.36 L480.35 541.01 L481.42 540.65 L482.47 540.30 L483.52 539.95 L484.56 539.61 L485.59 539.27 L486.60 538.93 L487.60 538.60 L488.59 538.27 L489.57 537.95 L490.52 537.63 L491.47 537.32 L492.39 537.01 L493.30 536.72 L494.18 536.42 L495.05 536.14 L495.89 535.86 L496.71 535.59 L497.50 535.33 L498.28 535.08 L499.02 534.83 L499.74 534.60 L500.43 534.37 L501.09 534.15 L501.72 533.94 L502.33 533.74 L502.89 533.56 L503.43 533.38 L503.93 533.21 L504.40 533.06" fill="none" stroke="#b05050" stroke-width="1.2" stroke-dasharray="3 3.4" stroke-linejoin="round"/>
<path d="M324.60 587.51 L325.21 587.44 L325.88 587.35 L326.61 587.26 L327.38 587.17 L328.21 587.07 L329.08 586.96 L330.00 586.84 L330.96 586.72 L331.96 586.60 L333.00 586.47 L334.08 586.34 L335.19 586.20 L336.33 586.06 L337.51 585.91 L338.71 585.76 L339.93 585.61 L341.18 585.46 L342.45 585.30 L343.75 585.14 L345.05 584.98 L346.37 584.81 L347.71 584.65 L349.05 584.48 L350.40 584.31 L351.76 584.14 L353.13 583.97 L354.49 583.80 L355.85 583.63 L357.21 583.46 L358.57 583.29 L359.91 583.12 L361.25 582.95 L362.58 582.79 L363.89 582.62 L365.18 582.46 L366.46 582.30 L367.72 582.14 L368.96 581.98 L370.17 581.83 L371.35 581.67 L372.52 581.52 L373.68 581.37 L374.84 581.22 L376.01 581.07 L377.17 580.92 L378.33 580.76 L379.48 580.61 L380.64 580.45 L381.80 580.30 L382.95 580.14 L384.11 579.99 L385.26 579.83 L386.41 579.68 L387.57 579.52 L388.72 579.36 L389.87 579.21 L391.03 579.05 L392.18 578.89 L393.34 578.74 L394.50 578.58 L395.66 578.42 L396.81 578.27 L397.98 578.11 L399.14 577.96 L400.30 577.80 L401.47 577.65 L402.64 577.49 L403.81 577.34 L404.98 577.18 L406.16 577.03 L407.33 576.88 L408.52 576.73 L409.70 576.58 L410.89 576.43 L412.08 576.28 L413.28 576.13 L414.47 575.98 L415.68 575.83 L416.88 575.69 L418.10 575.54 L419.32 575.40 L420.55 575.25 L421.79 575.11 L423.05 574.96 L424.32 574.82 L425.59 574.68 L426.87 574.53 L428.16 574.39 L429.46 574.24 L430.77 574.10 L432.08 573.96 L433.39 573.81 L434.70 573.67 L436.02 573.53 L437.34 573.39 L438.67 573.24 L439.99 573.10 L441.31 572.96 L442.63 572.82 L443.94 572.69 L445.26 572.55 L446.56 572.41 L447.87 572.27 L449.17 572.14 L450.46 572.01 L451.74 571.87 L453.01 571.74 L454.28 571.61 L455.54 571.48 L456.78 571.35 L458.01 571.22 L459.23 571.10 L460.44 570.97 L461.63 570.85 L462.81 570.73 L463.97 570.61 L465.12 570.49 L466.24 570.37 L467.35 570.25 L468.44 570.14 L469.52 570.03 L470.61 569.91 L471.69 569.80 L472.78 569.69 L473.87 569.57 L474.96 569.46 L476.04 569.35 L477.13 569.24 L478.21 569.13 L479.28 569.02 L480.35 568.91 L481.42 568.80 L482.47 568.69 L483.52 568.59 L484.56 568.48 L485.59 568.38 L486.60 568.28 L487.60 568.17 L488.59 568.08 L489.57 567.98 L490.52 567.88 L491.47 567.79 L492.39 567.69 L493.30 567.60 L494.18 567.51 L495.05 567.43 L495.89 567.34 L496.71 567.26 L497.50 567.18 L498.28 567.10 L499.02 567.03 L499.74 566.96 L500.43 566.89 L501.09 566.82 L501.72 566.76 L502.33 566.70 L502.89 566.64 L503.43 566.59 L503.93 566.54 L504.40 566.49" fill="none" stroke="#b05050" stroke-width="1.2" stroke-dasharray="3 3.4" stroke-linejoin="round"/>
<path d="M324.60 597.73 L325.21 597.68 L325.88 597.62 L326.61 597.55 L327.38 597.49 L328.21 597.42 L329.08 597.35 L330.00 597.27 L330.96 597.19 L331.96 597.11 L333.00 597.03 L334.08 596.94 L335.19 596.85 L336.33 596.75 L337.51 596.66 L338.71 596.56 L339.93 596.46 L341.18 596.35 L342.45 596.25 L343.75 596.14 L345.05 596.03 L346.37 595.91 L347.71 595.80 L349.05 595.68 L350.40 595.56 L351.76 595.43 L353.13 595.31 L354.49 595.18 L355.85 595.05 L357.21 594.92 L358.57 594.79 L359.91 594.65 L361.25 594.51 L362.58 594.38 L363.89 594.23 L365.18 594.09 L366.46 593.95 L367.72 593.80 L368.96 593.65 L370.17 593.50 L371.35 593.35 L372.52 593.20 L373.68 593.05 L374.84 592.89 L376.01 592.72 L377.17 592.56 L378.33 592.39 L379.48 592.22 L380.64 592.05 L381.80 591.88 L382.95 591.70 L384.11 591.52 L385.26 591.34 L386.41 591.16 L387.57 590.97 L388.72 590.78 L389.87 590.59 L391.03 590.40 L392.18 590.21 L393.34 590.01 L394.50 589.81 L395.66 589.61 L396.81 589.41 L397.98 589.21 L399.14 589.01 L400.30 588.80 L401.47 588.60 L402.64 588.39 L403.81 588.18 L404.98 587.97 L406.16 587.76 L407.33 587.55 L408.52 587.34 L409.70 587.13 L410.89 586.91 L412.08 586.70 L413.28 586.48 L414.47 586.27 L415.68 586.05 L416.88 585.83 L418.10 585.62 L419.32 585.40 L420.55 585.18 L421.79 584.96 L423.05 584.74 L424.32 584.51 L425.59 584.29 L426.87 584.06 L428.16 583.84 L429.46 583.61 L430.77 583.38 L432.08 583.15 L433.39 582.92 L434.70 582.69 L436.02 582.45 L437.34 582.22 L438.67 581.98 L439.99 581.75 L441.31 581.51 L442.63 581.27 L443.94 581.03 L445.26 580.78 L446.56 580.54 L447.87 580.30 L449.17 580.05 L450.46 579.81 L451.74 579.56 L453.01 579.31 L454.28 579.06 L455.54 578.81 L456.78 578.56 L458.01 578.30 L459.23 578.05 L460.44 577.79 L461.63 577.54 L462.81 577.28 L463.97 577.02 L465.12 576.76 L466.24 576.50 L467.35 576.24 L468.44 575.98 L469.52 575.71 L470.61 575.44 L471.69 575.15 L472.78 574.86 L473.87 574.56 L474.96 574.26 L476.04 573.95 L477.13 573.63 L478.21 573.31 L479.28 572.99 L480.35 572.66 L481.42 572.33 L482.47 572.00 L483.52 571.67 L484.56 571.34 L485.59 571.00 L486.60 570.67 L487.60 570.34 L488.59 570.01 L489.57 569.68 L490.52 569.36 L491.47 569.04 L492.39 568.72 L493.30 568.41 L494.18 568.11 L495.05 567.81 L495.89 567.51 L496.71 567.23 L497.50 566.95 L498.28 566.68 L499.02 566.42 L499.74 566.17 L500.43 565.93 L501.09 565.70 L501.72 565.48 L502.33 565.28 L502.89 565.09 L503.43 564.91 L503.93 564.74 L504.40 564.59" fill="none" stroke="#4a4ad0" stroke-width="1.4" stroke-linejoin="round"/>
<path d="M324.60 582.70 L325.21 582.62 L325.88 582.54 L326.61 582.45 L327.38 582.36 L328.21 582.26 L329.08 582.16 L330.00 582.05 L330.96 581.94 L331.96 581.82 L333.00 581.70 L334.08 581.58 L335.19 581.45 L336.33 581.31 L337.51 581.18 L338.71 581.04 L339.93 580.89 L341.18 580.75 L342.45 580.60 L343.75 580.44 L345.05 580.29 L346.37 580.13 L347.71 579.97 L349.05 579.81 L350.40 579.64 L351.76 579.47 L353.13 579.31 L354.49 579.14 L355.85 578.96 L357.21 578.79 L358.57 578.62 L359.91 578.44 L361.25 578.27 L362.58 578.09 L363.89 577.91 L365.18 577.74 L366.46 577.56 L367.72 577.38 L368.96 577.21 L370.17 577.03 L371.35 576.86 L372.52 576.68 L373.68 576.50 L374.84 576.32 L376.01 576.14 L377.17 575.95 L378.33 575.77 L379.48 575.58 L380.64 575.39 L381.80 575.19 L382.95 575.00 L384.11 574.80 L385.26 574.61 L386.41 574.41 L387.57 574.21 L388.72 574.01 L389.87 573.80 L391.03 573.60 L392.18 573.39 L393.34 573.19 L394.50 572.98 L395.66 572.77 L396.81 572.56 L397.98 572.35 L399.14 572.14 L400.30 571.92 L401.47 571.71 L402.64 571.50 L403.81 571.28 L404.98 571.07 L406.16 570.85 L407.33 570.63 L408.52 570.42 L409.70 570.20 L410.89 569.98 L412.08 569.77 L413.28 569.55 L414.47 569.33 L415.68 569.11 L416.88 568.90 L418.10 568.68 L419.32 568.46 L420.55 568.24 L421.79 568.02 L423.05 567.80 L424.32 567.58 L425.59 567.35 L426.87 567.12 L428.16 566.90 L429.46 566.67 L430.77 566.44 L432.08 566.21 L433.39 565.98 L434.70 565.75 L436.02 565.51 L437.34 565.28 L438.67 565.05 L439.99 564.81 L441.31 564.58 L442.63 564.34 L443.94 564.11 L445.26 563.87 L446.56 563.64 L447.87 563.40 L449.17 563.17 L450.46 562.93 L451.74 562.70 L453.01 562.46 L454.28 562.23 L455.54 562.00 L456.78 561.76 L458.01 561.53 L459.23 561.30 L460.44 561.07 L461.63 560.84 L462.81 560.61 L463.97 560.38 L465.12 560.16 L466.24 559.93 L467.35 559.71 L468.44 559.48 L469.52 559.26 L470.61 559.03 L471.69 558.79 L472.78 558.56 L473.87 558.32 L474.96 558.08 L476.04 557.83 L477.13 557.58 L478.21 557.34 L479.28 557.09 L480.35 556.83 L481.42 556.58 L482.47 556.33 L483.52 556.08 L484.56 555.83 L485.59 555.58 L486.60 555.33 L487.60 555.09 L488.59 554.84 L489.57 554.60 L490.52 554.36 L491.47 554.13 L492.39 553.89 L493.30 553.67 L494.18 553.44 L495.05 553.22 L495.89 553.01 L496.71 552.80 L497.50 552.60 L498.28 552.40 L499.02 552.21 L499.74 552.03 L500.43 551.86 L501.09 551.69 L501.72 551.53 L502.33 551.38 L502.89 551.24 L503.43 551.10 L503.93 550.98 L504.40 550.87" fill="none" stroke="#d44848" stroke-width="1.4" stroke-linejoin="round"/>
<path d="M324.60 817.13 L396.52 805.21 L398.66 805.65 L401.41 806.28 L404.66 807.04 L408.31 807.88 L412.25 808.76 L416.37 809.61 L420.56 810.40 L424.71 811.06 L428.72 811.55 L432.48 811.82 L436.08 811.88 L439.67 811.81 L443.27 811.62 L446.86 811.32 L450.46 810.92 L454.06 810.44 L457.65 809.89 L461.25 809.28 L464.84 808.63 L468.44 807.95 L472.20 807.16 L476.21 806.19 L480.36 805.09 L484.55 803.92 L488.67 802.72 L492.61 801.54 L496.26 800.42 L499.51 799.42 L502.26 798.59 L504.40 797.97" fill="none" stroke="#50509a" stroke-width="1.2" stroke-dasharray="3 3.4" stroke-linejoin="round"/>
<path d="M324.60 822.92 L396.52 812.78 L432.48 817.93 L504.40 817.29" fill="none" stroke="#50509a" stroke-width="1.2" stroke-dasharray="3 3.4" stroke-linejoin="round"/>
<path d="M324.60 806.50 L396.52 796.52 L432.48 797.97 L504.40 798.61" fill="none" stroke="#b05050" stroke-width="1.2" stroke-dasharray="3 3.4" stroke-linejoin="round"/>
<path d="M324.60 812.78 L396.52 803.12 L432.48 804.57 L504.40 806.82" fill="none" stroke="#b05050" stroke-width="1.2" stroke-dasharray="3 3.4" stroke-linejoin="round"/>
<path d="M324.60 820.99 L396.52 809.40 L432.48 815.03 L504.40 810.53" fill="none" stroke="#4a4ad0" stroke-width="1.4" stroke-linejoin="round"/>
<path d="M324.60 810.37 L396.52 799.26 L432.48 800.87 L504.40 802.96" fill="none" stroke="#d44848" stroke-width="1.4" stroke-linejoin="round"/>
<path d="M75.8 15.4L77.9 17.5L75.8 19.6L73.7 17.5Z" fill="none" stroke="#d03c40" stroke-width="1.1"/>
<path d="M76.0 19.9L78.1 22.0L76.0 24.1L73.9 22.0Z" fill="none" stroke="#d03c40" stroke-width="1.1"/>
<path d="M76.0 23.9L78.1 26.0L76.0 28.1L73.9 26.0Z" fill="none" stroke="#d03c40" stroke-width="1.1"/>
<path d="M76.2 24.3L78.3 26.4L76.2 28.5L74.1 26.4Z" fill="none" stroke="#d03c40" stroke-width="1.1"/>
<path d="M86.0 34.1L88.1 36.2L86.0 38.4L83.9 36.2Z" fill="none" stroke="#d03c40" stroke-width="1.1"/>
<path d="M81.8 37.4L83.8 39.5L81.8 41.6L79.7 39.5Z" fill="none" stroke="#d03c40" stroke-width="1.1"/>
<path d="M78.8 38.1L80.8 40.2L78.8 42.4L76.7 40.2Z" fill="none" stroke="#d03c40" stroke-width="1.1"/>
<path d="M70.2 34.4L72.3 36.5L70.2 38.6L68.2 36.5Z" fill="none" stroke="#d03c40" stroke-width="1.1"/>
<path d="M74.0 33.9L76.1 36.0L74.0 38.1L71.9 36.0Z" fill="none" stroke="#d03c40" stroke-width="1.1"/>
<path d="M72.5 36.4L74.6 38.5L72.5 40.6L70.4 38.5Z" fill="none" stroke="#d03c40" stroke-width="1.1"/>
<path d="M75.0 35.9L77.1 38.0L75.0 40.1L72.9 38.0Z" fill="none" stroke="#d03c40" stroke-width="1.1"/>
<path d="M69.8 37.6L71.8 39.8L69.8 41.9L67.7 39.8Z" fill="none" stroke="#d03c40" stroke-width="1.1"/>
<path d="M72.0 34.9L74.1 37.0L72.0 39.1L69.9 37.0Z" fill="none" stroke="#d03c40" stroke-width="1.1"/>
<path d="M70.2 41.6L72.3 43.8L70.2 45.9L68.2 43.8Z" fill="none" stroke="#d03c40" stroke-width="1.1"/>
<path d="M73.2 42.9L75.3 45.0L73.2 47.1L71.2 45.0Z" fill="none" stroke="#d03c40" stroke-width="1.1"/>
<path d="M76.5 43.4L78.6 45.5L76.5 47.6L74.4 45.5Z" fill="none" stroke="#d03c40" stroke-width="1.1"/>
<path d="M72.5 44.9L74.6 47.0L72.5 49.1L70.4 47.0Z" fill="none" stroke="#d03c40" stroke-width="1.1"/>
<path d="M74.5 45.9L76.6 48.0L74.5 50.1L72.4 48.0Z" fill="none" stroke="#d03c40" stroke-width="1.1"/>
<path d="M73.0 47.4L75.1 49.5L73.0 51.6L70.9 49.5Z" fill="none" stroke="#d03c40" stroke-width="1.1"/>
<path d="M74.8 49.6L76.8 51.8L74.8 53.9L72.7 51.8Z" fill="none" stroke="#d03c40" stroke-width="1.1"/>
<path d="M78.5 51.4L80.6 53.5L78.5 55.6L76.4 53.5Z" fill="none" stroke="#d03c40" stroke-width="1.1"/>
<path d="M81.2 50.9L83.3 53.0L81.2 55.1L79.2 53.0Z" fill="none" stroke="#d03c40" stroke-width="1.1"/>
<path d="M79.5 52.6L81.6 54.8L79.5 56.9L77.4 54.8Z" fill="none" stroke="#d03c40" stroke-width="1.1"/>
<path d="M69.5 58.4L71.6 60.5L69.5 62.6L67.4 60.5Z" fill="none" stroke="#d03c40" stroke-width="1.1"/>
<path d="M77.0 61.4L79.1 63.5L77.0 65.6L74.9 63.5Z" fill="none" stroke="#d03c40" stroke-width="1.1"/>
<path d="M80.5 61.4L82.6 63.5L80.5 65.6L78.4 63.5Z" fill="none" stroke="#d03c40" stroke-width="1.1"/>
<path d="M84.5 61.4L86.6 63.5L84.5 65.6L82.4 63.5Z" fill="none" stroke="#d03c40" stroke-width="1.1"/>
<path d="M88.0 60.4L90.1 62.5L88.0 64.6L85.9 62.5Z" fill="none" stroke="#d03c40" stroke-width="1.1"/>
<path d="M93.0 61.4L95.1 63.5L93.0 65.6L90.9 63.5Z" fill="none" stroke="#d03c40" stroke-width="1.1"/>
<path d="M108.0 61.4L110.1 63.5L108.0 65.6L105.9 63.5Z" fill="none" stroke="#d03c40" stroke-width="1.1"/>
<path d="M113.5 53.7L115.6 55.8L113.5 57.9L111.4 55.8Z" fill="none" stroke="#d03c40" stroke-width="1.1"/>
<path d="M110.5 61.9L112.6 64.0L110.5 66.1L108.4 64.0Z" fill="none" stroke="#d03c40" stroke-width="1.1"/>
<path d="M74.2 66.6L76.3 68.7L74.2 70.8L72.1 68.7Z" fill="none" stroke="#d03c40" stroke-width="1.1"/>
<path d="M77.8 66.6L79.9 68.7L77.8 70.8L75.7 68.7Z" fill="none" stroke="#d03c40" stroke-width="1.1"/>
<path d="M83.5 67.6L85.6 69.7L83.5 71.8L81.4 69.7Z" fill="none" stroke="#d03c40" stroke-width="1.1"/>
<path d="M88.2 67.1L90.3 69.2L88.2 71.3L86.1 69.2Z" fill="none" stroke="#d03c40" stroke-width="1.1"/>
<path d="M75.2 70.2L77.3 72.3L75.2 74.4L73.1 72.3Z" fill="none" stroke="#d03c40" stroke-width="1.1"/>
<path d="M76.8 72.9L78.9 75.0L76.8 77.1L74.7 75.0Z" fill="none" stroke="#d03c40" stroke-width="1.1"/>
<path d="M80.9 74.4L83.0 76.5L80.9 78.6L78.8 76.5Z" fill="none" stroke="#d03c40" stroke-width="1.1"/>
<path d="M87.2 73.4L89.3 75.5L87.2 77.6L85.1 75.5Z" fill="none" stroke="#d03c40" stroke-width="1.1"/>
<path d="M90.3 71.3L92.4 73.4L90.3 75.5L88.2 73.4Z" fill="none" stroke="#d03c40" stroke-width="1.1"/>
<path d="M75.2 75.4L77.3 77.5L75.2 79.6L73.1 77.5Z" fill="none" stroke="#d03c40" stroke-width="1.1"/>
<path d="M87.2 75.9L89.3 78.0L87.2 80.1L85.1 78.0Z" fill="none" stroke="#d03c40" stroke-width="1.1"/>
<path d="M89.2 78.0L91.3 80.1L89.2 82.2L87.1 80.1Z" fill="none" stroke="#d03c40" stroke-width="1.1"/>
<path d="M91.8 79.6L93.9 81.7L91.8 83.8L89.7 81.7Z" fill="none" stroke="#d03c40" stroke-width="1.1"/>
<path d="M86.6 79.6L88.7 81.7L86.6 83.8L84.5 81.7Z" fill="none" stroke="#d03c40" stroke-width="1.1"/>
<path d="M75.2 82.2L77.3 84.3L75.2 86.4L73.1 84.3Z" fill="none" stroke="#d03c40" stroke-width="1.1"/>
<path d="M78.3 82.2L80.4 84.3L78.3 86.4L76.2 84.3Z" fill="none" stroke="#d03c40" stroke-width="1.1"/>
<path d="M81.4 82.2L83.5 84.3L81.4 86.4L79.3 84.3Z" fill="none" stroke="#d03c40" stroke-width="1.1"/>
<path d="M90.3 82.2L92.4 84.3L90.3 86.4L88.2 84.3Z" fill="none" stroke="#d03c40" stroke-width="1.1"/>
<path d="M91.8 84.3L93.9 86.4L91.8 88.5L89.7 86.4Z" fill="none" stroke="#d03c40" stroke-width="1.1"/>
<path d="M94.4 85.3L96.5 87.4L94.4 89.5L92.3 87.4Z" fill="none" stroke="#d03c40" stroke-width="1.1"/>
<path d="M88.2 85.8L90.3 87.9L88.2 90.0L86.1 87.9Z" fill="none" stroke="#d03c40" stroke-width="1.1"/>
<path d="M77.8 87.9L79.9 90.0L77.8 92.1L75.7 90.0Z" fill="none" stroke="#d03c40" stroke-width="1.1"/>
<path d="M83.5 88.9L85.6 91.0L83.5 93.1L81.4 91.0Z" fill="none" stroke="#d03c40" stroke-width="1.1"/>
<path d="M84.0 91.0L86.1 93.1L84.0 95.2L81.9 93.1Z" fill="none" stroke="#d03c40" stroke-width="1.1"/>
<path d="M82.5 92.1L84.6 94.2L82.5 96.3L80.4 94.2Z" fill="none" stroke="#d03c40" stroke-width="1.1"/>
<path d="M87.2 91.0L89.3 93.1L87.2 95.2L85.1 93.1Z" fill="none" stroke="#d03c40" stroke-width="1.1"/>
<path d="M91.3 91.5L93.4 93.6L91.3 95.7L89.2 93.6Z" fill="none" stroke="#d03c40" stroke-width="1.1"/>
<path d="M94.4 91.0L96.5 93.1L94.4 95.2L92.3 93.1Z" fill="none" stroke="#d03c40" stroke-width="1.1"/>
<path d="M104.8 88.4L106.9 90.5L104.8 92.6L102.7 90.5Z" fill="none" stroke="#d03c40" stroke-width="1.1"/>
<path d="M106.9 91.0L109.0 93.1L106.9 95.2L104.8 93.1Z" fill="none" stroke="#d03c40" stroke-width="1.1"/>
<path d="M77.8 91.5L79.9 93.6L77.8 95.7L75.7 93.6Z" fill="none" stroke="#d03c40" stroke-width="1.1"/>
<path d="M76.8 96.7L78.9 98.8L76.8 100.9L74.7 98.8Z" fill="none" stroke="#d03c40" stroke-width="1.1"/>
<path d="M80.9 98.3L83.0 100.4L80.9 102.5L78.8 100.4Z" fill="none" stroke="#d03c40" stroke-width="1.1"/>
<path d="M85.1 99.3L87.2 101.4L85.1 103.5L83.0 101.4Z" fill="none" stroke="#d03c40" stroke-width="1.1"/>
<path d="M89.2 94.1L91.3 96.2L89.2 98.3L87.1 96.2Z" fill="none" stroke="#d03c40" stroke-width="1.1"/>
<path d="M95.5 94.1L97.6 96.2L95.5 98.3L93.4 96.2Z" fill="none" stroke="#d03c40" stroke-width="1.1"/>
<path d="M97.5 96.7L99.6 98.8L97.5 100.9L95.4 98.8Z" fill="none" stroke="#d03c40" stroke-width="1.1"/>
<path d="M91.8 97.3L93.9 99.4L91.8 101.5L89.7 99.4Z" fill="none" stroke="#d03c40" stroke-width="1.1"/>
<path d="M96.0 98.8L98.1 100.9L96.0 103.0L93.9 100.9Z" fill="none" stroke="#d03c40" stroke-width="1.1"/>
<path d="M101.7 98.8L103.8 100.9L101.7 103.0L99.6 100.9Z" fill="none" stroke="#d03c40" stroke-width="1.1"/>
<path d="M106.9 97.8L109.0 99.9L106.9 102.0L104.8 99.9Z" fill="none" stroke="#d03c40" stroke-width="1.1"/>
<path d="M90.3 101.4L92.4 103.5L90.3 105.6L88.2 103.5Z" fill="none" stroke="#d03c40" stroke-width="1.1"/>
<path d="M92.3 103.0L94.4 105.1L92.3 107.2L90.2 105.1Z" fill="none" stroke="#d03c40" stroke-width="1.1"/>
<path d="M93.4 105.0L95.5 107.1L93.4 109.2L91.3 107.1Z" fill="none" stroke="#d03c40" stroke-width="1.1"/>
<path d="M93.8 105.4L95.9 107.5L93.8 109.6L91.7 107.5Z" fill="none" stroke="#d03c40" stroke-width="1.1"/>
<path d="M80.4 101.4L82.5 103.5L80.4 105.6L78.3 103.5Z" fill="none" stroke="#d03c40" stroke-width="1.1"/>
<path d="M79.9 105.6L82.0 107.7L79.9 109.8L77.8 107.7Z" fill="none" stroke="#d03c40" stroke-width="1.1"/>
<path d="M87.2 103.5L89.3 105.6L87.2 107.7L85.1 105.6Z" fill="none" stroke="#d03c40" stroke-width="1.1"/>
<path d="M78.8 108.7L80.9 110.8L78.8 112.9L76.7 110.8Z" fill="none" stroke="#d03c40" stroke-width="1.1"/>
<path d="M86.1 110.7L88.2 112.8L86.1 114.9L84.0 112.8Z" fill="none" stroke="#d03c40" stroke-width="1.1"/>
<path d="M89.2 110.7L91.3 112.8L89.2 114.9L87.1 112.8Z" fill="none" stroke="#d03c40" stroke-width="1.1"/>
<path d="M102.7 109.7L104.8 111.8L102.7 113.9L100.6 111.8Z" fill="none" stroke="#d03c40" stroke-width="1.1"/>
<path d="M84.5 69.9L86.6 72.0L84.5 74.1L82.4 72.0Z" fill="none" stroke="#d03c40" stroke-width="1.1"/>
<path d="M86.0 83.9L88.1 86.0L86.0 88.1L83.9 86.0Z" fill="none" stroke="#d03c40" stroke-width="1.1"/>
<path d="M83.0 94.9L85.1 97.0L83.0 99.1L80.9 97.0Z" fill="none" stroke="#d03c40" stroke-width="1.1"/>
<path d="M88.5 96.9L90.6 99.0L88.5 101.1L86.4 99.0Z" fill="none" stroke="#d03c40" stroke-width="1.1"/>
<path d="M94.0 107.9L96.1 110.0L94.0 112.1L91.9 110.0Z" fill="none" stroke="#d03c40" stroke-width="1.1"/>
<path d="M90.0 112.9L92.1 115.0L90.0 117.1L87.9 115.0Z" fill="none" stroke="#d03c40" stroke-width="1.1"/>
<path d="M110.6 63.0L112.7 65.1L110.6 67.2L108.5 65.1Z" fill="none" stroke="#d03c40" stroke-width="1.1"/>
<path d="M111.1 69.7L113.2 71.8L111.1 73.9L109.0 71.8Z" fill="none" stroke="#d03c40" stroke-width="1.1"/>
<path d="M110.6 73.9L112.7 76.0L110.6 78.1L108.5 76.0Z" fill="none" stroke="#d03c40" stroke-width="1.1"/>
<path d="M112.2 83.2L114.3 85.3L112.2 87.4L110.1 85.3Z" fill="none" stroke="#d03c40" stroke-width="1.1"/>
<path d="M119.9 88.4L122.0 90.5L119.9 92.6L117.8 90.5Z" fill="none" stroke="#d03c40" stroke-width="1.1"/>
<path d="M117.9 91.5L120.0 93.6L117.9 95.7L115.8 93.6Z" fill="none" stroke="#d03c40" stroke-width="1.1"/>
<path d="M119.4 94.1L121.5 96.2L119.4 98.3L117.3 96.2Z" fill="none" stroke="#d03c40" stroke-width="1.1"/>
<path d="M123.6 97.2L125.7 99.3L123.6 101.4L121.5 99.3Z" fill="none" stroke="#d03c40" stroke-width="1.1"/>
<path d="M121.0 100.4L123.1 102.5L121.0 104.6L118.9 102.5Z" fill="none" stroke="#d03c40" stroke-width="1.1"/>
<path d="M119.4 102.4L121.5 104.5L119.4 106.6L117.3 104.5Z" fill="none" stroke="#d03c40" stroke-width="1.1"/>
<path d="M128.8 111.3L130.9 113.4L128.8 115.5L126.7 113.4Z" fill="none" stroke="#d03c40" stroke-width="1.1"/>
<path d="M161.0 97.2L163.1 99.3L161.0 101.4L158.9 99.3Z" fill="none" stroke="#d03c40" stroke-width="1.1"/>
<path d="M108.5 91.0L110.6 93.1L108.5 95.2L106.4 93.1Z" fill="none" stroke="#d03c40" stroke-width="1.1"/>
<path d="M108.5 97.2L110.6 99.3L108.5 101.4L106.4 99.3Z" fill="none" stroke="#d03c40" stroke-width="1.1"/>
<path d="M80.4 117.6L82.5 119.7L80.4 121.8L78.3 119.7Z" fill="none" stroke="#d03c40" stroke-width="1.1"/>
<path d="M84.0 117.6L86.1 119.7L84.0 121.8L81.9 119.7Z" fill="none" stroke="#d03c40" stroke-width="1.1"/>
<path d="M80.4 121.2L82.5 123.3L80.4 125.4L78.3 123.3Z" fill="none" stroke="#d03c40" stroke-width="1.1"/>
<path d="M80.9 124.3L83.0 126.4L80.9 128.5L78.8 126.4Z" fill="none" stroke="#d03c40" stroke-width="1.1"/>
<path d="M84.0 120.7L86.1 122.8L84.0 124.9L81.9 122.8Z" fill="none" stroke="#d03c40" stroke-width="1.1"/>
<path d="M88.2 123.3L90.3 125.4L88.2 127.5L86.1 125.4Z" fill="none" stroke="#d03c40" stroke-width="1.1"/>
<path d="M91.3 117.1L93.4 119.2L91.3 121.3L89.2 119.2Z" fill="none" stroke="#d03c40" stroke-width="1.1"/>
<path d="M92.3 119.6L94.4 121.7L92.3 123.8L90.2 121.7Z" fill="none" stroke="#d03c40" stroke-width="1.1"/>
<path d="M92.3 124.3L94.4 126.4L92.3 128.5L90.2 126.4Z" fill="none" stroke="#d03c40" stroke-width="1.1"/>
<path d="M89.2 121.2L91.3 123.3L89.2 125.4L87.1 123.3Z" fill="none" stroke="#d03c40" stroke-width="1.1"/>
<path d="M98.6 117.6L100.7 119.7L98.6 121.8L96.5 119.7Z" fill="none" stroke="#d03c40" stroke-width="1.1"/>
<path d="M98.6 123.3L100.7 125.4L98.6 127.5L96.5 125.4Z" fill="none" stroke="#d03c40" stroke-width="1.1"/>
<path d="M97.5 126.9L99.6 129.0L97.5 131.1L95.4 129.0Z" fill="none" stroke="#d03c40" stroke-width="1.1"/>
<path d="M99.1 128.5L101.2 130.6L99.1 132.7L97.0 130.6Z" fill="none" stroke="#d03c40" stroke-width="1.1"/>
<path d="M103.2 117.1L105.3 119.2L103.2 121.3L101.1 119.2Z" fill="none" stroke="#d03c40" stroke-width="1.1"/>
<path d="M105.8 122.2L107.9 124.3L105.8 126.4L103.7 124.3Z" fill="none" stroke="#d03c40" stroke-width="1.1"/>
<path d="M105.8 126.9L107.9 129.0L105.8 131.1L103.7 129.0Z" fill="none" stroke="#d03c40" stroke-width="1.1"/>
<path d="M104.8 129.5L106.9 131.6L104.8 133.7L102.7 131.6Z" fill="none" stroke="#d03c40" stroke-width="1.1"/>
<path d="M109.0 118.1L111.1 120.2L109.0 122.3L106.9 120.2Z" fill="none" stroke="#d03c40" stroke-width="1.1"/>
<path d="M86.6 129.5L88.7 131.6L86.6 133.7L84.5 131.6Z" fill="none" stroke="#d03c40" stroke-width="1.1"/>
<path d="M88.2 132.1L90.3 134.2L88.2 136.3L86.1 134.2Z" fill="none" stroke="#d03c40" stroke-width="1.1"/>
<path d="M99.6 134.7L101.7 136.8L99.6 138.9L97.5 136.8Z" fill="none" stroke="#d03c40" stroke-width="1.1"/>
<path d="M101.7 137.8L103.8 139.9L101.7 142.0L99.6 139.9Z" fill="none" stroke="#d03c40" stroke-width="1.1"/>
<path d="M106.9 133.7L109.0 135.8L106.9 137.9L104.8 135.8Z" fill="none" stroke="#d03c40" stroke-width="1.1"/>
<path d="M108.4 135.7L110.5 137.8L108.4 139.9L106.3 137.8Z" fill="none" stroke="#d03c40" stroke-width="1.1"/>
<path d="M108.6 136.1L110.7 138.2L108.6 140.3L106.5 138.2Z" fill="none" stroke="#d03c40" stroke-width="1.1"/>
<path d="M91.3 143.5L93.4 145.6L91.3 147.7L89.2 145.6Z" fill="none" stroke="#d03c40" stroke-width="1.1"/>
<path d="M95.5 145.1L97.6 147.2L95.5 149.3L93.4 147.2Z" fill="none" stroke="#d03c40" stroke-width="1.1"/>
<path d="M98.6 143.0L100.7 145.1L98.6 147.2L96.5 145.1Z" fill="none" stroke="#d03c40" stroke-width="1.1"/>
<path d="M101.7 142.0L103.8 144.1L101.7 146.2L99.6 144.1Z" fill="none" stroke="#d03c40" stroke-width="1.1"/>
<path d="M104.8 144.1L106.9 146.2L104.8 148.3L102.7 146.2Z" fill="none" stroke="#d03c40" stroke-width="1.1"/>
<path d="M107.9 144.1L110.0 146.2L107.9 148.3L105.8 146.2Z" fill="none" stroke="#d03c40" stroke-width="1.1"/>
<path d="M86.0 114.4L88.1 116.5L86.0 118.6L83.9 116.5Z" fill="none" stroke="#d03c40" stroke-width="1.1"/>
<path d="M95.0 113.9L97.1 116.0L95.0 118.1L92.9 116.0Z" fill="none" stroke="#d03c40" stroke-width="1.1"/>
<path d="M100.5 113.4L102.6 115.5L100.5 117.6L98.4 115.5Z" fill="none" stroke="#d03c40" stroke-width="1.1"/>
<path d="M110.6 117.6L112.7 119.7L110.6 121.8L108.5 119.7Z" fill="none" stroke="#d03c40" stroke-width="1.1"/>
<path d="M114.2 118.1L116.3 120.2L114.2 122.3L112.1 120.2Z" fill="none" stroke="#d03c40" stroke-width="1.1"/>
<path d="M109.6 125.4L111.7 127.5L109.6 129.6L107.5 127.5Z" fill="none" stroke="#d03c40" stroke-width="1.1"/>
<path d="M114.2 126.4L116.3 128.5L114.2 130.6L112.1 128.5Z" fill="none" stroke="#d03c40" stroke-width="1.1"/>
<path d="M117.9 124.3L120.0 126.4L117.9 128.5L115.8 126.4Z" fill="none" stroke="#d03c40" stroke-width="1.1"/>
<path d="M118.4 127.4L120.5 129.5L118.4 131.6L116.3 129.5Z" fill="none" stroke="#d03c40" stroke-width="1.1"/>
<path d="M121.5 126.4L123.6 128.5L121.5 130.6L119.4 128.5Z" fill="none" stroke="#d03c40" stroke-width="1.1"/>
<path d="M128.2 121.2L130.3 123.3L128.2 125.4L126.1 123.3Z" fill="none" stroke="#d03c40" stroke-width="1.1"/>
<path d="M135.5 121.2L137.6 123.3L135.5 125.4L133.4 123.3Z" fill="none" stroke="#d03c40" stroke-width="1.1"/>
<path d="M143.3 124.3L145.4 126.4L143.3 128.5L141.2 126.4Z" fill="none" stroke="#d03c40" stroke-width="1.1"/>
<path d="M126.2 130.0L128.3 132.1L126.2 134.2L124.1 132.1Z" fill="none" stroke="#d03c40" stroke-width="1.1"/>
<path d="M128.2 132.6L130.3 134.7L128.2 136.8L126.1 134.7Z" fill="none" stroke="#d03c40" stroke-width="1.1"/>
<path d="M136.0 129.0L138.1 131.1L136.0 133.2L133.9 131.1Z" fill="none" stroke="#d03c40" stroke-width="1.1"/>
<path d="M109.6 133.7L111.7 135.8L109.6 137.9L107.5 135.8Z" fill="none" stroke="#d03c40" stroke-width="1.1"/>
<path d="M115.3 133.7L117.4 135.8L115.3 137.9L113.2 135.8Z" fill="none" stroke="#d03c40" stroke-width="1.1"/>
<path d="M114.2 137.8L116.3 139.9L114.2 142.0L112.1 139.9Z" fill="none" stroke="#d03c40" stroke-width="1.1"/>
<path d="M123.1 134.7L125.2 136.8L123.1 138.9L121.0 136.8Z" fill="none" stroke="#d03c40" stroke-width="1.1"/>
<path d="M120.5 139.9L122.6 142.0L120.5 144.1L118.4 142.0Z" fill="none" stroke="#d03c40" stroke-width="1.1"/>
<path d="M125.7 139.9L127.8 142.0L125.7 144.1L123.6 142.0Z" fill="none" stroke="#d03c40" stroke-width="1.1"/>
<path d="M131.4 137.8L133.5 139.9L131.4 142.0L129.3 139.9Z" fill="none" stroke="#d03c40" stroke-width="1.1"/>
<path d="M143.8 135.2L145.9 137.3L143.8 139.4L141.7 137.3Z" fill="none" stroke="#d03c40" stroke-width="1.1"/>
<path d="M138.1 142.0L140.2 144.1L138.1 146.2L136.0 144.1Z" fill="none" stroke="#d03c40" stroke-width="1.1"/>
<path d="M139.2 145.1L141.3 147.2L139.2 149.3L137.1 147.2Z" fill="none" stroke="#d03c40" stroke-width="1.1"/>
<path d="M123.1 143.0L125.2 145.1L123.1 147.2L121.0 145.1Z" fill="none" stroke="#d03c40" stroke-width="1.1"/>
<path d="M126.2 146.1L128.3 148.2L126.2 150.3L124.1 148.2Z" fill="none" stroke="#d03c40" stroke-width="1.1"/>
<path d="M131.9 146.1L134.0 148.2L131.9 150.3L129.8 148.2Z" fill="none" stroke="#d03c40" stroke-width="1.1"/>
<path d="M117.9 145.6L120.0 147.7L117.9 149.8L115.8 147.7Z" fill="none" stroke="#d03c40" stroke-width="1.1"/>
<path d="M109.6 144.6L111.7 146.7L109.6 148.8L107.5 146.7Z" fill="none" stroke="#d03c40" stroke-width="1.1"/>
<path d="M153.2 143.0L155.3 145.1L153.2 147.2L151.1 145.1Z" fill="none" stroke="#d03c40" stroke-width="1.1"/>
<path d="M225.8 145.6L227.9 147.7L225.8 149.8L223.7 147.7Z" fill="none" stroke="#d03c40" stroke-width="1.1"/>
<path d="M101.8 154.4L103.8 156.4L101.8 158.4L99.8 156.4Z" fill="none" stroke="#d82828" stroke-width="1.05"/>
<path d="M104.2 154.4L106.2 156.4L104.2 158.4L102.2 156.4Z" fill="none" stroke="#d82828" stroke-width="1.05"/>
<path d="M106.6 154.4L108.6 156.4L106.6 158.4L104.6 156.4Z" fill="none" stroke="#d82828" stroke-width="1.05"/>
<path d="M109.0 154.4L111.0 156.4L109.0 158.4L107.0 156.4Z" fill="none" stroke="#d82828" stroke-width="1.05"/>
<path d="M111.4 154.4L113.4 156.4L111.4 158.4L109.4 156.4Z" fill="none" stroke="#d82828" stroke-width="1.05"/>
<path d="M113.8 154.4L115.8 156.4L113.8 158.4L111.8 156.4Z" fill="none" stroke="#d82828" stroke-width="1.05"/>
<path d="M116.2 154.4L118.2 156.4L116.2 158.4L114.2 156.4Z" fill="none" stroke="#d82828" stroke-width="1.05"/>
<path d="M118.6 154.4L120.6 156.4L118.6 158.4L116.6 156.4Z" fill="none" stroke="#d82828" stroke-width="1.05"/>
<path d="M121.0 154.4L123.0 156.4L121.0 158.4L119.0 156.4Z" fill="none" stroke="#d82828" stroke-width="1.05"/>
<path d="M123.4 154.4L125.4 156.4L123.4 158.4L121.4 156.4Z" fill="none" stroke="#d82828" stroke-width="1.05"/>
<path d="M125.8 154.4L127.8 156.4L125.8 158.4L123.8 156.4Z" fill="none" stroke="#d82828" stroke-width="1.05"/>
<path d="M131.2 154.4L133.2 156.4L131.2 158.4L129.2 156.4Z" fill="none" stroke="#d82828" stroke-width="1.05"/>
<path d="M132.8 154.4L134.8 156.4L132.8 158.4L130.8 156.4Z" fill="none" stroke="#d82828" stroke-width="1.05"/>
<path d="M134.5 154.4L136.5 156.4L134.5 158.4L132.5 156.4Z" fill="none" stroke="#d82828" stroke-width="1.05"/>
<path d="M136.2 154.4L138.2 156.4L136.2 158.4L134.2 156.4Z" fill="none" stroke="#d82828" stroke-width="1.05"/>
<path d="M137.8 154.4L139.8 156.4L137.8 158.4L135.8 156.4Z" fill="none" stroke="#d82828" stroke-width="1.05"/>
<path d="M141.2 154.4L143.2 156.4L141.2 158.4L139.2 156.4Z" fill="none" stroke="#d82828" stroke-width="1.05"/>
<path d="M142.8 154.4L144.8 156.4L142.8 158.4L140.8 156.4Z" fill="none" stroke="#d82828" stroke-width="1.05"/>
<path d="M144.5 154.4L146.5 156.4L144.5 158.4L142.5 156.4Z" fill="none" stroke="#d82828" stroke-width="1.05"/>
<path d="M146.2 154.4L148.2 156.4L146.2 158.4L144.2 156.4Z" fill="none" stroke="#d82828" stroke-width="1.05"/>
<path d="M147.8 154.4L149.8 156.4L147.8 158.4L145.8 156.4Z" fill="none" stroke="#d82828" stroke-width="1.05"/>
<path d="M149.5 154.4L151.5 156.4L149.5 158.4L147.5 156.4Z" fill="none" stroke="#d82828" stroke-width="1.05"/>
<path d="M151.1 154.4L153.1 156.4L151.1 158.4L149.1 156.4Z" fill="none" stroke="#d82828" stroke-width="1.05"/>
<path d="M152.8 154.4L154.8 156.4L152.8 158.4L150.8 156.4Z" fill="none" stroke="#d82828" stroke-width="1.05"/>
<path d="M154.4 154.4L156.4 156.4L154.4 158.4L152.4 156.4Z" fill="none" stroke="#d82828" stroke-width="1.05"/>
<path d="M156.1 154.4L158.1 156.4L156.1 158.4L154.1 156.4Z" fill="none" stroke="#d82828" stroke-width="1.05"/>
<path d="M157.7 154.4L159.7 156.4L157.7 158.4L155.7 156.4Z" fill="none" stroke="#d82828" stroke-width="1.05"/>
<path d="M160.8 154.4L162.8 156.4L160.8 158.4L158.8 156.4Z" fill="none" stroke="#d82828" stroke-width="1.05"/>
<path d="M162.5 154.4L164.5 156.4L162.5 158.4L160.5 156.4Z" fill="none" stroke="#d82828" stroke-width="1.05"/>
<path d="M164.1 154.4L166.1 156.4L164.1 158.4L162.1 156.4Z" fill="none" stroke="#d82828" stroke-width="1.05"/>
<path d="M165.8 154.4L167.8 156.4L165.8 158.4L163.8 156.4Z" fill="none" stroke="#d82828" stroke-width="1.05"/>
<path d="M167.4 154.4L169.4 156.4L167.4 158.4L165.4 156.4Z" fill="none" stroke="#d82828" stroke-width="1.05"/>
<path d="M169.1 154.4L171.1 156.4L169.1 158.4L167.1 156.4Z" fill="none" stroke="#d82828" stroke-width="1.05"/>
<path d="M170.7 154.4L172.7 156.4L170.7 158.4L168.7 156.4Z" fill="none" stroke="#d82828" stroke-width="1.05"/>
<path d="M172.4 154.4L174.4 156.4L172.4 158.4L170.4 156.4Z" fill="none" stroke="#d82828" stroke-width="1.05"/>
<path d="M174.0 154.4L176.0 156.4L174.0 158.4L172.0 156.4Z" fill="none" stroke="#d82828" stroke-width="1.05"/>
<path d="M175.7 154.4L177.7 156.4L175.7 158.4L173.7 156.4Z" fill="none" stroke="#d82828" stroke-width="1.05"/>
<path d="M177.3 154.4L179.3 156.4L177.3 158.4L175.3 156.4Z" fill="none" stroke="#d82828" stroke-width="1.05"/>
<path d="M181.0 154.4L183.0 156.4L181.0 158.4L179.0 156.4Z" fill="none" stroke="#d82828" stroke-width="1.05"/>
<path d="M184.0 154.4L186.0 156.4L184.0 158.4L182.0 156.4Z" fill="none" stroke="#d82828" stroke-width="1.05"/>
<path d="M187.0 154.4L189.0 156.4L187.0 158.4L185.0 156.4Z" fill="none" stroke="#d82828" stroke-width="1.05"/>
<path d="M190.0 154.4L192.0 156.4L190.0 158.4L188.0 156.4Z" fill="none" stroke="#d82828" stroke-width="1.05"/>
<path d="M193.0 154.4L195.0 156.4L193.0 158.4L191.0 156.4Z" fill="none" stroke="#d82828" stroke-width="1.05"/>
<path d="M196.0 154.4L198.0 156.4L196.0 158.4L194.0 156.4Z" fill="none" stroke="#d82828" stroke-width="1.05"/>
<path d="M199.0 154.4L201.0 156.4L199.0 158.4L197.0 156.4Z" fill="none" stroke="#d82828" stroke-width="1.05"/>
<path d="M202.0 154.4L204.0 156.4L202.0 158.4L200.0 156.4Z" fill="none" stroke="#d82828" stroke-width="1.05"/>
<path d="M206.0 154.4L208.0 156.4L206.0 158.4L204.0 156.4Z" fill="none" stroke="#d82828" stroke-width="1.05"/>
<path d="M207.9 154.4L209.9 156.4L207.9 158.4L205.9 156.4Z" fill="none" stroke="#d82828" stroke-width="1.05"/>
<path d="M209.8 154.4L211.8 156.4L209.8 158.4L207.8 156.4Z" fill="none" stroke="#d82828" stroke-width="1.05"/>
<path d="M211.7 154.4L213.7 156.4L211.7 158.4L209.7 156.4Z" fill="none" stroke="#d82828" stroke-width="1.05"/>
<path d="M213.6 154.4L215.6 156.4L213.6 158.4L211.6 156.4Z" fill="none" stroke="#d82828" stroke-width="1.05"/>
<path d="M215.5 154.4L217.5 156.4L215.5 158.4L213.5 156.4Z" fill="none" stroke="#d82828" stroke-width="1.05"/>
<path d="M217.4 154.4L219.4 156.4L217.4 158.4L215.4 156.4Z" fill="none" stroke="#d82828" stroke-width="1.05"/>
<path d="M219.3 154.4L221.3 156.4L219.3 158.4L217.3 156.4Z" fill="none" stroke="#d82828" stroke-width="1.05"/>
<path d="M221.2 154.4L223.2 156.4L221.2 158.4L219.2 156.4Z" fill="none" stroke="#d82828" stroke-width="1.05"/>
<path d="M223.1 154.4L225.1 156.4L223.1 158.4L221.1 156.4Z" fill="none" stroke="#d82828" stroke-width="1.05"/>
<path d="M225.0 154.4L227.0 156.4L225.0 158.4L223.0 156.4Z" fill="none" stroke="#d82828" stroke-width="1.05"/>
<path d="M226.9 154.4L228.9 156.4L226.9 158.4L224.9 156.4Z" fill="none" stroke="#d82828" stroke-width="1.05"/>
<path d="M228.8 154.4L230.8 156.4L228.8 158.4L226.8 156.4Z" fill="none" stroke="#d82828" stroke-width="1.05"/>
<path d="M232.4 154.4L234.4 156.4L232.4 158.4L230.4 156.4Z" fill="none" stroke="#d82828" stroke-width="1.05"/>
<path d="M243.5 154.4L245.5 156.4L243.5 158.4L241.5 156.4Z" fill="none" stroke="#d82828" stroke-width="1.05"/>
<path d="M248.8 154.4L250.8 156.4L248.8 158.4L246.8 156.4Z" fill="none" stroke="#d82828" stroke-width="1.05"/>
<circle cx="100.0" cy="63.0" r="1.65" fill="#1515c4"/>
<circle cx="139.0" cy="49.8" r="1.65" fill="#1515c4"/>
<circle cx="127.5" cy="55.5" r="1.65" fill="#1515c4"/>
<circle cx="158.8" cy="58.0" r="1.65" fill="#1515c4"/>
<circle cx="129.8" cy="64.0" r="1.65" fill="#1515c4"/>
<circle cx="139.0" cy="63.0" r="1.65" fill="#1515c4"/>
<circle cx="154.0" cy="64.5" r="1.65" fill="#1515c4"/>
<circle cx="166.5" cy="63.0" r="1.65" fill="#1515c4"/>
<circle cx="92.3" cy="70.1" r="1.65" fill="#1515c4"/>
<circle cx="96.0" cy="72.1" r="1.65" fill="#1515c4"/>
<circle cx="107.4" cy="73.9" r="1.65" fill="#1515c4"/>
<circle cx="97.0" cy="82.7" r="1.65" fill="#1515c4"/>
<circle cx="106.4" cy="82.2" r="1.65" fill="#1515c4"/>
<circle cx="98.6" cy="108.2" r="1.65" fill="#1515c4"/>
<circle cx="117.3" cy="69.7" r="1.65" fill="#1515c4"/>
<circle cx="129.3" cy="69.2" r="1.65" fill="#1515c4"/>
<circle cx="137.1" cy="69.7" r="1.65" fill="#1515c4"/>
<circle cx="141.7" cy="68.2" r="1.65" fill="#1515c4"/>
<circle cx="145.9" cy="67.7" r="1.65" fill="#1515c4"/>
<circle cx="146.6" cy="69.4" r="1.65" fill="#1515c4"/>
<circle cx="126.2" cy="73.9" r="1.65" fill="#1515c4"/>
<circle cx="124.1" cy="73.9" r="1.65" fill="#1515c4"/>
<circle cx="122.0" cy="74.9" r="1.65" fill="#1515c4"/>
<circle cx="119.4" cy="76.5" r="1.65" fill="#1515c4"/>
<circle cx="121.0" cy="76.0" r="1.65" fill="#1515c4"/>
<circle cx="134.0" cy="73.4" r="1.65" fill="#1515c4"/>
<circle cx="124.6" cy="78.6" r="1.65" fill="#1515c4"/>
<circle cx="131.7" cy="79.8" r="1.65" fill="#1515c4"/>
<circle cx="116.8" cy="80.1" r="1.65" fill="#1515c4"/>
<circle cx="113.7" cy="83.2" r="1.65" fill="#1515c4"/>
<circle cx="118.4" cy="85.3" r="1.65" fill="#1515c4"/>
<circle cx="154.7" cy="80.7" r="1.65" fill="#1515c4"/>
<circle cx="161.5" cy="79.1" r="1.65" fill="#1515c4"/>
<circle cx="161.5" cy="89.5" r="1.65" fill="#1515c4"/>
<circle cx="161.5" cy="94.7" r="1.65" fill="#1515c4"/>
<circle cx="114.2" cy="110.2" r="1.65" fill="#1515c4"/>
<circle cx="156.3" cy="112.3" r="1.65" fill="#1515c4"/>
<circle cx="174.3" cy="67.7" r="1.65" fill="#1515c4"/>
<circle cx="179.2" cy="66.6" r="1.65" fill="#1515c4"/>
<circle cx="181.8" cy="69.7" r="1.65" fill="#1515c4"/>
<circle cx="169.1" cy="74.7" r="1.65" fill="#1515c4"/>
<circle cx="194.5" cy="71.3" r="1.65" fill="#1515c4"/>
<circle cx="199.5" cy="76.0" r="1.65" fill="#1515c4"/>
<circle cx="186.8" cy="88.4" r="1.65" fill="#1515c4"/>
<circle cx="179.5" cy="103.0" r="1.65" fill="#1515c4"/>
<circle cx="200.0" cy="110.6" r="1.65" fill="#1515c4"/>
<circle cx="219.6" cy="72.7" r="1.65" fill="#1515c4"/>
<circle cx="214.4" cy="80.9" r="1.65" fill="#1515c4"/>
<circle cx="242.2" cy="74.2" r="1.65" fill="#1515c4"/>
<circle cx="221.9" cy="109.7" r="1.65" fill="#1515c4"/>
<circle cx="87.2" cy="121.7" r="1.65" fill="#1515c4"/>
<circle cx="96.0" cy="118.1" r="1.65" fill="#1515c4"/>
<circle cx="84.0" cy="143.9" r="1.65" fill="#1515c4"/>
<circle cx="80.9" cy="148.2" r="1.65" fill="#1515c4"/>
<circle cx="109.0" cy="143.0" r="1.65" fill="#1515c4"/>
<circle cx="124.1" cy="126.4" r="1.65" fill="#1515c4"/>
<circle cx="131.9" cy="129.0" r="1.65" fill="#1515c4"/>
<circle cx="135.5" cy="125.9" r="1.65" fill="#1515c4"/>
<circle cx="139.2" cy="123.8" r="1.65" fill="#1515c4"/>
<circle cx="149.3" cy="121.4" r="1.65" fill="#1515c4"/>
<circle cx="159.2" cy="134.2" r="1.65" fill="#1515c4"/>
<circle cx="113.7" cy="132.7" r="1.65" fill="#1515c4"/>
<circle cx="128.2" cy="138.4" r="1.65" fill="#1515c4"/>
<circle cx="118.4" cy="144.1" r="1.65" fill="#1515c4"/>
<circle cx="206.7" cy="118.6" r="1.65" fill="#1515c4"/>
<circle cx="201.5" cy="129.8" r="1.65" fill="#1515c4"/>
<circle cx="174.0" cy="134.7" r="1.65" fill="#1515c4"/>
<circle cx="176.6" cy="133.7" r="1.65" fill="#1515c4"/>
<circle cx="97.8" cy="156.4" r="1.7" fill="#5a1048"/>
<circle cx="129.5" cy="156.4" r="1.7" fill="#5a1048"/>
<path d="M76.2 274.4L78.3 276.5L76.2 278.6L74.1 276.5Z" fill="none" stroke="#d03c40" stroke-width="1.1"/>
<path d="M81.1 271.8L83.2 273.9L81.1 276.0L79.0 273.9Z" fill="none" stroke="#d03c40" stroke-width="1.1"/>
<path d="M86.6 282.5L88.7 284.6L86.6 286.7L84.5 284.6Z" fill="none" stroke="#d03c40" stroke-width="1.1"/>
<path d="M99.8 290.5L101.9 292.6L99.8 294.7L97.7 292.6Z" fill="none" stroke="#d03c40" stroke-width="1.1"/>
<path d="M106.9 290.8L109.0 292.9L106.9 295.0L104.8 292.9Z" fill="none" stroke="#d03c40" stroke-width="1.1"/>
<path d="M109.0 285.3L111.1 287.4L109.0 289.5L106.9 287.4Z" fill="none" stroke="#d03c40" stroke-width="1.1"/>
<path d="M103.2 301.4L105.3 303.5L103.2 305.6L101.1 303.5Z" fill="none" stroke="#d03c40" stroke-width="1.1"/>
<path d="M99.6 304.0L101.7 306.1L99.6 308.2L97.5 306.1Z" fill="none" stroke="#d03c40" stroke-width="1.1"/>
<path d="M83.5 306.6L85.6 308.7L83.5 310.8L81.4 308.7Z" fill="none" stroke="#d03c40" stroke-width="1.1"/>
<path d="M80.9 308.7L83.0 310.8L80.9 312.9L78.8 310.8Z" fill="none" stroke="#d03c40" stroke-width="1.1"/>
<path d="M80.4 310.8L82.5 312.9L80.4 315.0L78.3 312.9Z" fill="none" stroke="#d03c40" stroke-width="1.1"/>
<path d="M88.7 309.2L90.8 311.3L88.7 313.4L86.6 311.3Z" fill="none" stroke="#d03c40" stroke-width="1.1"/>
<path d="M92.9 311.8L95.0 313.9L92.9 316.0L90.8 313.9Z" fill="none" stroke="#d03c40" stroke-width="1.1"/>
<path d="M100.7 312.3L102.8 314.4L100.7 316.5L98.6 314.4Z" fill="none" stroke="#d03c40" stroke-width="1.1"/>
<path d="M106.9 309.2L109.0 311.3L106.9 313.4L104.8 311.3Z" fill="none" stroke="#d03c40" stroke-width="1.1"/>
<path d="M80.9 314.5L83.0 316.6L80.9 318.7L78.8 316.6Z" fill="none" stroke="#d03c40" stroke-width="1.1"/>
<path d="M85.1 317.6L87.2 319.7L85.1 321.8L83.0 319.7Z" fill="none" stroke="#d03c40" stroke-width="1.1"/>
<path d="M83.0 322.3L85.1 324.4L83.0 326.5L80.9 324.4Z" fill="none" stroke="#d03c40" stroke-width="1.1"/>
<path d="M73.7 322.3L75.8 324.4L73.7 326.5L71.6 324.4Z" fill="none" stroke="#d03c40" stroke-width="1.1"/>
<path d="M71.1 325.4L73.2 327.5L71.1 329.6L69.0 327.5Z" fill="none" stroke="#d03c40" stroke-width="1.1"/>
<path d="M92.3 317.6L94.4 319.7L92.3 321.8L90.2 319.7Z" fill="none" stroke="#d03c40" stroke-width="1.1"/>
<path d="M95.5 319.2L97.6 321.3L95.5 323.4L93.4 321.3Z" fill="none" stroke="#d03c40" stroke-width="1.1"/>
<path d="M103.8 317.6L105.9 319.7L103.8 321.8L101.7 319.7Z" fill="none" stroke="#d03c40" stroke-width="1.1"/>
<path d="M107.9 318.1L110.0 320.2L107.9 322.3L105.8 320.2Z" fill="none" stroke="#d03c40" stroke-width="1.1"/>
<path d="M106.9 325.4L109.0 327.5L106.9 329.6L104.8 327.5Z" fill="none" stroke="#d03c40" stroke-width="1.1"/>
<path d="M102.7 322.3L104.8 324.4L102.7 326.5L100.6 324.4Z" fill="none" stroke="#d03c40" stroke-width="1.1"/>
<path d="M89.2 328.0L91.3 330.1L89.2 332.2L87.1 330.1Z" fill="none" stroke="#d03c40" stroke-width="1.1"/>
<path d="M92.3 327.5L94.4 329.6L92.3 331.7L90.2 329.6Z" fill="none" stroke="#d03c40" stroke-width="1.1"/>
<path d="M87.2 330.6L89.3 332.7L87.2 334.8L85.1 332.7Z" fill="none" stroke="#d03c40" stroke-width="1.1"/>
<path d="M91.3 330.6L93.4 332.7L91.3 334.8L89.2 332.7Z" fill="none" stroke="#d03c40" stroke-width="1.1"/>
<path d="M75.2 330.6L77.3 332.7L75.2 334.8L73.1 332.7Z" fill="none" stroke="#d03c40" stroke-width="1.1"/>
<path d="M79.9 330.6L82.0 332.7L79.9 334.8L77.8 332.7Z" fill="none" stroke="#d03c40" stroke-width="1.1"/>
<path d="M77.3 333.7L79.4 335.8L77.3 337.9L75.2 335.8Z" fill="none" stroke="#d03c40" stroke-width="1.1"/>
<path d="M90.8 334.2L92.9 336.3L90.8 338.4L88.7 336.3Z" fill="none" stroke="#d03c40" stroke-width="1.1"/>
<path d="M95.5 334.2L97.6 336.3L95.5 338.4L93.4 336.3Z" fill="none" stroke="#d03c40" stroke-width="1.1"/>
<path d="M99.6 332.7L101.7 334.8L99.6 336.9L97.5 334.8Z" fill="none" stroke="#d03c40" stroke-width="1.1"/>
<path d="M104.8 331.1L106.9 333.2L104.8 335.3L102.7 333.2Z" fill="none" stroke="#d03c40" stroke-width="1.1"/>
<path d="M107.9 331.6L110.0 333.7L107.9 335.8L105.8 333.7Z" fill="none" stroke="#d03c40" stroke-width="1.1"/>
<path d="M90.3 336.8L92.4 338.9L90.3 341.0L88.2 338.9Z" fill="none" stroke="#d03c40" stroke-width="1.1"/>
<path d="M93.4 337.3L95.5 339.4L93.4 341.5L91.3 339.4Z" fill="none" stroke="#d03c40" stroke-width="1.1"/>
<path d="M94.9 339.4L97.0 341.5L94.9 343.6L92.8 341.5Z" fill="none" stroke="#d03c40" stroke-width="1.1"/>
<path d="M97.0 341.0L99.1 343.1L97.0 345.2L94.9 343.1Z" fill="none" stroke="#d03c40" stroke-width="1.1"/>
<path d="M91.3 340.5L93.4 342.6L91.3 344.7L89.2 342.6Z" fill="none" stroke="#d03c40" stroke-width="1.1"/>
<path d="M88.2 339.4L90.3 341.5L88.2 343.6L86.1 341.5Z" fill="none" stroke="#d03c40" stroke-width="1.1"/>
<path d="M71.6 339.4L73.7 341.5L71.6 343.6L69.5 341.5Z" fill="none" stroke="#d03c40" stroke-width="1.1"/>
<path d="M74.7 338.4L76.8 340.5L74.7 342.6L72.6 340.5Z" fill="none" stroke="#d03c40" stroke-width="1.1"/>
<path d="M70.5 342.0L72.6 344.1L70.5 346.2L68.4 344.1Z" fill="none" stroke="#d03c40" stroke-width="1.1"/>
<path d="M81.4 341.0L83.5 343.1L81.4 345.2L79.3 343.1Z" fill="none" stroke="#d03c40" stroke-width="1.1"/>
<path d="M84.0 338.9L86.1 341.0L84.0 343.1L81.9 341.0Z" fill="none" stroke="#d03c40" stroke-width="1.1"/>
<path d="M76.8 343.1L78.9 345.2L76.8 347.3L74.7 345.2Z" fill="none" stroke="#d03c40" stroke-width="1.1"/>
<path d="M79.9 345.1L82.0 347.2L79.9 349.3L77.8 347.2Z" fill="none" stroke="#d03c40" stroke-width="1.1"/>
<path d="M83.0 345.1L85.1 347.2L83.0 349.3L80.9 347.2Z" fill="none" stroke="#d03c40" stroke-width="1.1"/>
<path d="M87.2 345.1L89.3 347.2L87.2 349.3L85.1 347.2Z" fill="none" stroke="#d03c40" stroke-width="1.1"/>
<path d="M90.3 346.2L92.4 348.3L90.3 350.4L88.2 348.3Z" fill="none" stroke="#d03c40" stroke-width="1.1"/>
<path d="M75.7 347.7L77.8 349.8L75.7 351.9L73.6 349.8Z" fill="none" stroke="#d03c40" stroke-width="1.1"/>
<path d="M78.8 350.3L80.9 352.4L78.8 354.5L76.7 352.4Z" fill="none" stroke="#d03c40" stroke-width="1.1"/>
<path d="M85.1 349.3L87.2 351.4L85.1 353.5L83.0 351.4Z" fill="none" stroke="#d03c40" stroke-width="1.1"/>
<path d="M89.2 350.8L91.3 352.9L89.2 355.0L87.1 352.9Z" fill="none" stroke="#d03c40" stroke-width="1.1"/>
<path d="M93.4 351.4L95.5 353.5L93.4 355.6L91.3 353.5Z" fill="none" stroke="#d03c40" stroke-width="1.1"/>
<path d="M98.6 347.2L100.7 349.3L98.6 351.4L96.5 349.3Z" fill="none" stroke="#d03c40" stroke-width="1.1"/>
<path d="M102.2 344.1L104.3 346.2L102.2 348.3L100.1 346.2Z" fill="none" stroke="#d03c40" stroke-width="1.1"/>
<path d="M105.8 342.0L107.9 344.1L105.8 346.2L103.7 344.1Z" fill="none" stroke="#d03c40" stroke-width="1.1"/>
<path d="M103.2 339.9L105.3 342.0L103.2 344.1L101.1 342.0Z" fill="none" stroke="#d03c40" stroke-width="1.1"/>
<path d="M107.9 349.3L110.0 351.4L107.9 353.5L105.8 351.4Z" fill="none" stroke="#d03c40" stroke-width="1.1"/>
<path d="M70.5 354.5L72.6 356.6L70.5 358.7L68.4 356.6Z" fill="none" stroke="#d03c40" stroke-width="1.1"/>
<path d="M75.2 353.4L77.3 355.5L75.2 357.6L73.1 355.5Z" fill="none" stroke="#d03c40" stroke-width="1.1"/>
<path d="M77.8 355.5L79.9 357.6L77.8 359.7L75.7 357.6Z" fill="none" stroke="#d03c40" stroke-width="1.1"/>
<path d="M83.0 353.4L85.1 355.5L83.0 357.6L80.9 355.5Z" fill="none" stroke="#d03c40" stroke-width="1.1"/>
<path d="M86.1 354.5L88.2 356.6L86.1 358.7L84.0 356.6Z" fill="none" stroke="#d03c40" stroke-width="1.1"/>
<path d="M94.4 354.5L96.5 356.6L94.4 358.7L92.3 356.6Z" fill="none" stroke="#d03c40" stroke-width="1.1"/>
<path d="M98.6 352.9L100.7 355.0L98.6 357.1L96.5 355.0Z" fill="none" stroke="#d03c40" stroke-width="1.1"/>
<path d="M72.6 359.7L74.7 361.8L72.6 363.9L70.5 361.8Z" fill="none" stroke="#d03c40" stroke-width="1.1"/>
<path d="M76.8 360.7L78.9 362.8L76.8 364.9L74.7 362.8Z" fill="none" stroke="#d03c40" stroke-width="1.1"/>
<path d="M81.4 358.1L83.5 360.2L81.4 362.3L79.3 360.2Z" fill="none" stroke="#d03c40" stroke-width="1.1"/>
<path d="M90.3 359.7L92.4 361.8L90.3 363.9L88.2 361.8Z" fill="none" stroke="#d03c40" stroke-width="1.1"/>
<path d="M106.9 359.7L109.0 361.8L106.9 363.9L104.8 361.8Z" fill="none" stroke="#d03c40" stroke-width="1.1"/>
<path d="M72.6 364.9L74.7 367.0L72.6 369.1L70.5 367.0Z" fill="none" stroke="#d03c40" stroke-width="1.1"/>
<path d="M93.0 335.9L95.1 338.0L93.0 340.1L90.9 338.0Z" fill="none" stroke="#d03c40" stroke-width="1.1"/>
<path d="M95.0 342.9L97.1 345.0L95.0 347.1L92.9 345.0Z" fill="none" stroke="#d03c40" stroke-width="1.1"/>
<path d="M86.0 335.9L88.1 338.0L86.0 340.1L83.9 338.0Z" fill="none" stroke="#d03c40" stroke-width="1.1"/>
<path d="M82.0 334.9L84.1 337.0L82.0 339.1L79.9 337.0Z" fill="none" stroke="#d03c40" stroke-width="1.1"/>
<path d="M93.0 330.9L95.1 333.0L93.0 335.1L90.9 333.0Z" fill="none" stroke="#d03c40" stroke-width="1.1"/>
<path d="M95.5 328.9L97.6 331.0L95.5 333.1L93.4 331.0Z" fill="none" stroke="#d03c40" stroke-width="1.1"/>
<path d="M90.0 332.9L92.1 335.0L90.0 337.1L87.9 335.0Z" fill="none" stroke="#d03c40" stroke-width="1.1"/>
<path d="M94.0 340.4L96.1 342.5L94.0 344.6L91.9 342.5Z" fill="none" stroke="#d03c40" stroke-width="1.1"/>
<path d="M92.0 342.4L94.1 344.5L92.0 346.6L89.9 344.5Z" fill="none" stroke="#d03c40" stroke-width="1.1"/>
<path d="M96.5 336.4L98.6 338.5L96.5 340.6L94.4 338.5Z" fill="none" stroke="#d03c40" stroke-width="1.1"/>
<path d="M73.1 365.7L75.2 367.8L73.1 369.9L71.0 367.8Z" fill="none" stroke="#d03c40" stroke-width="1.1"/>
<path d="M80.9 368.3L83.0 370.4L80.9 372.5L78.8 370.4Z" fill="none" stroke="#d03c40" stroke-width="1.1"/>
<path d="M86.6 370.9L88.7 373.0L86.6 375.1L84.5 373.0Z" fill="none" stroke="#d03c40" stroke-width="1.1"/>
<path d="M71.6 370.9L73.7 373.0L71.6 375.1L69.5 373.0Z" fill="none" stroke="#d03c40" stroke-width="1.1"/>
<path d="M73.7 370.9L75.8 373.0L73.7 375.1L71.6 373.0Z" fill="none" stroke="#d03c40" stroke-width="1.1"/>
<path d="M78.8 373.5L80.9 375.6L78.8 377.7L76.7 375.6Z" fill="none" stroke="#d03c40" stroke-width="1.1"/>
<path d="M78.3 374.5L80.4 376.6L78.3 378.7L76.2 376.6Z" fill="none" stroke="#d03c40" stroke-width="1.1"/>
<path d="M77.3 376.6L79.4 378.7L77.3 380.8L75.2 378.7Z" fill="none" stroke="#d03c40" stroke-width="1.1"/>
<path d="M76.8 379.2L78.9 381.3L76.8 383.4L74.7 381.3Z" fill="none" stroke="#d03c40" stroke-width="1.1"/>
<path d="M83.5 378.7L85.6 380.8L83.5 382.9L81.4 380.8Z" fill="none" stroke="#d03c40" stroke-width="1.1"/>
<path d="M83.0 380.2L85.1 382.3L83.0 384.4L80.9 382.3Z" fill="none" stroke="#d03c40" stroke-width="1.1"/>
<path d="M84.0 381.8L86.1 383.9L84.0 386.0L81.9 383.9Z" fill="none" stroke="#d03c40" stroke-width="1.1"/>
<path d="M78.8 384.4L80.9 386.5L78.8 388.6L76.7 386.5Z" fill="none" stroke="#d03c40" stroke-width="1.1"/>
<path d="M74.2 387.0L76.3 389.1L74.2 391.2L72.1 389.1Z" fill="none" stroke="#d03c40" stroke-width="1.1"/>
<path d="M76.2 389.6L78.3 391.7L76.2 393.8L74.1 391.7Z" fill="none" stroke="#d03c40" stroke-width="1.1"/>
<path d="M100.7 370.9L102.8 373.0L100.7 375.1L98.6 373.0Z" fill="none" stroke="#d03c40" stroke-width="1.1"/>
<path d="M92.3 365.7L94.4 367.8L92.3 369.9L90.2 367.8Z" fill="none" stroke="#d03c40" stroke-width="1.1"/>
<path d="M94.4 365.2L96.5 367.3L94.4 369.4L92.3 367.3Z" fill="none" stroke="#d03c40" stroke-width="1.1"/>
<path d="M144.3 269.2L146.4 271.3L144.3 273.4L142.2 271.3Z" fill="none" stroke="#d03c40" stroke-width="1.1"/>
<path d="M139.2 279.6L141.3 281.7L139.2 283.8L137.1 281.7Z" fill="none" stroke="#d03c40" stroke-width="1.1"/>
<path d="M144.9 277.0L147.0 279.1L144.9 281.2L142.8 279.1Z" fill="none" stroke="#d03c40" stroke-width="1.1"/>
<path d="M145.9 284.8L148.0 286.9L145.9 289.0L143.8 286.9Z" fill="none" stroke="#d03c40" stroke-width="1.1"/>
<path d="M119.4 293.1L121.5 295.2L119.4 297.3L117.3 295.2Z" fill="none" stroke="#d03c40" stroke-width="1.1"/>
<path d="M125.1 293.1L127.2 295.2L125.1 297.3L123.0 295.2Z" fill="none" stroke="#d03c40" stroke-width="1.1"/>
<path d="M130.3 293.6L132.4 295.7L130.3 297.8L128.2 295.7Z" fill="none" stroke="#d03c40" stroke-width="1.1"/>
<path d="M138.1 295.7L140.2 297.8L138.1 299.9L136.0 297.8Z" fill="none" stroke="#d03c40" stroke-width="1.1"/>
<path d="M138.6 298.8L140.7 300.9L138.6 303.0L136.5 300.9Z" fill="none" stroke="#d03c40" stroke-width="1.1"/>
<path d="M155.8 293.1L157.9 295.2L155.8 297.3L153.7 295.2Z" fill="none" stroke="#d03c40" stroke-width="1.1"/>
<path d="M155.8 298.8L157.9 300.9L155.8 303.0L153.7 300.9Z" fill="none" stroke="#d03c40" stroke-width="1.1"/>
<path d="M149.5 301.4L151.6 303.5L149.5 305.6L147.4 303.5Z" fill="none" stroke="#d03c40" stroke-width="1.1"/>
<path d="M114.2 300.9L116.3 303.0L114.2 305.1L112.1 303.0Z" fill="none" stroke="#d03c40" stroke-width="1.1"/>
<path d="M129.8 309.7L131.9 311.8L129.8 313.9L127.7 311.8Z" fill="none" stroke="#d03c40" stroke-width="1.1"/>
<path d="M136.0 306.6L138.1 308.7L136.0 310.8L133.9 308.7Z" fill="none" stroke="#d03c40" stroke-width="1.1"/>
<path d="M136.0 310.3L138.1 312.4L136.0 314.5L133.9 312.4Z" fill="none" stroke="#d03c40" stroke-width="1.1"/>
<path d="M142.3 308.7L144.4 310.8L142.3 312.9L140.2 310.8Z" fill="none" stroke="#d03c40" stroke-width="1.1"/>
<path d="M144.3 311.3L146.4 313.4L144.3 315.5L142.2 313.4Z" fill="none" stroke="#d03c40" stroke-width="1.1"/>
<path d="M124.6 309.7L126.7 311.8L124.6 313.9L122.5 311.8Z" fill="none" stroke="#d03c40" stroke-width="1.1"/>
<path d="M117.9 311.8L120.0 313.9L117.9 316.0L115.8 313.9Z" fill="none" stroke="#d03c40" stroke-width="1.1"/>
<path d="M147.5 311.8L149.6 313.9L147.5 316.0L145.4 313.9Z" fill="none" stroke="#d03c40" stroke-width="1.1"/>
<path d="M152.7 312.3L154.8 314.4L152.7 316.5L150.6 314.4Z" fill="none" stroke="#d03c40" stroke-width="1.1"/>
<path d="M110.1 314.0L112.2 316.1L110.1 318.2L108.0 316.1Z" fill="none" stroke="#d03c40" stroke-width="1.1"/>
<path d="M117.9 314.5L120.0 316.6L117.9 318.7L115.8 316.6Z" fill="none" stroke="#d03c40" stroke-width="1.1"/>
<path d="M124.6 314.5L126.7 316.6L124.6 318.7L122.5 316.6Z" fill="none" stroke="#d03c40" stroke-width="1.1"/>
<path d="M133.4 318.1L135.5 320.2L133.4 322.3L131.3 320.2Z" fill="none" stroke="#d03c40" stroke-width="1.1"/>
<path d="M135.5 316.6L137.6 318.7L135.5 320.8L133.4 318.7Z" fill="none" stroke="#d03c40" stroke-width="1.1"/>
<path d="M144.3 320.2L146.4 322.3L144.3 324.4L142.2 322.3Z" fill="none" stroke="#d03c40" stroke-width="1.1"/>
<path d="M148.0 318.1L150.1 320.2L148.0 322.3L145.9 320.2Z" fill="none" stroke="#d03c40" stroke-width="1.1"/>
<path d="M152.7 316.1L154.8 318.2L152.7 320.3L150.6 318.2Z" fill="none" stroke="#d03c40" stroke-width="1.1"/>
<path d="M110.1 320.2L112.2 322.3L110.1 324.4L108.0 322.3Z" fill="none" stroke="#d03c40" stroke-width="1.1"/>
<path d="M116.3 321.2L118.4 323.3L116.3 325.4L114.2 323.3Z" fill="none" stroke="#d03c40" stroke-width="1.1"/>
<path d="M126.7 319.7L128.8 321.8L126.7 323.9L124.6 321.8Z" fill="none" stroke="#d03c40" stroke-width="1.1"/>
<path d="M111.6 325.4L113.7 327.5L111.6 329.6L109.5 327.5Z" fill="none" stroke="#d03c40" stroke-width="1.1"/>
<path d="M117.3 325.4L119.4 327.5L117.3 329.6L115.2 327.5Z" fill="none" stroke="#d03c40" stroke-width="1.1"/>
<path d="M120.5 325.4L122.6 327.5L120.5 329.6L118.4 327.5Z" fill="none" stroke="#d03c40" stroke-width="1.1"/>
<path d="M126.2 325.4L128.3 327.5L126.2 329.6L124.1 327.5Z" fill="none" stroke="#d03c40" stroke-width="1.1"/>
<path d="M134.0 324.9L136.1 327.0L134.0 329.1L131.9 327.0Z" fill="none" stroke="#d03c40" stroke-width="1.1"/>
<path d="M143.3 322.8L145.4 324.9L143.3 327.0L141.2 324.9Z" fill="none" stroke="#d03c40" stroke-width="1.1"/>
<path d="M148.0 323.3L150.1 325.4L148.0 327.5L145.9 325.4Z" fill="none" stroke="#d03c40" stroke-width="1.1"/>
<path d="M156.3 325.4L158.4 327.5L156.3 329.6L154.2 327.5Z" fill="none" stroke="#d03c40" stroke-width="1.1"/>
<path d="M147.5 330.6L149.6 332.7L147.5 334.8L145.4 332.7Z" fill="none" stroke="#d03c40" stroke-width="1.1"/>
<path d="M155.2 331.1L157.3 333.2L155.2 335.3L153.1 333.2Z" fill="none" stroke="#d03c40" stroke-width="1.1"/>
<path d="M118.4 330.6L120.5 332.7L118.4 334.8L116.3 332.7Z" fill="none" stroke="#d03c40" stroke-width="1.1"/>
<path d="M110.6 331.6L112.7 333.7L110.6 335.8L108.5 333.7Z" fill="none" stroke="#d03c40" stroke-width="1.1"/>
<path d="M126.7 328.5L128.8 330.6L126.7 332.7L124.6 330.6Z" fill="none" stroke="#d03c40" stroke-width="1.1"/>
<path d="M134.0 328.0L136.1 330.1L134.0 332.2L131.9 330.1Z" fill="none" stroke="#d03c40" stroke-width="1.1"/>
<path d="M135.5 331.1L137.6 333.2L135.5 335.3L133.4 333.2Z" fill="none" stroke="#d03c40" stroke-width="1.1"/>
<path d="M139.2 332.7L141.3 334.8L139.2 336.9L137.1 334.8Z" fill="none" stroke="#d03c40" stroke-width="1.1"/>
<path d="M131.4 333.7L133.5 335.8L131.4 337.9L129.3 335.8Z" fill="none" stroke="#d03c40" stroke-width="1.1"/>
<path d="M116.3 333.7L118.4 335.8L116.3 337.9L114.2 335.8Z" fill="none" stroke="#d03c40" stroke-width="1.1"/>
<path d="M112.2 336.3L114.3 338.4L112.2 340.5L110.1 338.4Z" fill="none" stroke="#d03c40" stroke-width="1.1"/>
<path d="M120.5 335.3L122.6 337.4L120.5 339.5L118.4 337.4Z" fill="none" stroke="#d03c40" stroke-width="1.1"/>
<path d="M124.6 336.8L126.7 338.9L124.6 341.0L122.5 338.9Z" fill="none" stroke="#d03c40" stroke-width="1.1"/>
<path d="M131.9 336.8L134.0 338.9L131.9 341.0L129.8 338.9Z" fill="none" stroke="#d03c40" stroke-width="1.1"/>
<path d="M137.1 335.8L139.2 337.9L137.1 340.0L135.0 337.9Z" fill="none" stroke="#d03c40" stroke-width="1.1"/>
<path d="M153.7 335.8L155.8 337.9L153.7 340.0L151.6 337.9Z" fill="none" stroke="#d03c40" stroke-width="1.1"/>
<path d="M143.8 338.9L145.9 341.0L143.8 343.1L141.7 341.0Z" fill="none" stroke="#d03c40" stroke-width="1.1"/>
<path d="M138.1 338.9L140.2 341.0L138.1 343.1L136.0 341.0Z" fill="none" stroke="#d03c40" stroke-width="1.1"/>
<path d="M126.7 338.9L128.8 341.0L126.7 343.1L124.6 341.0Z" fill="none" stroke="#d03c40" stroke-width="1.1"/>
<path d="M116.3 339.9L118.4 342.0L116.3 344.1L114.2 342.0Z" fill="none" stroke="#d03c40" stroke-width="1.1"/>
<path d="M109.0 339.9L111.1 342.0L109.0 344.1L106.9 342.0Z" fill="none" stroke="#d03c40" stroke-width="1.1"/>
<path d="M121.5 342.0L123.6 344.1L121.5 346.2L119.4 344.1Z" fill="none" stroke="#d03c40" stroke-width="1.1"/>
<path d="M112.2 343.1L114.3 345.2L112.2 347.3L110.1 345.2Z" fill="none" stroke="#d03c40" stroke-width="1.1"/>
<path d="M126.7 342.0L128.8 344.1L126.7 346.2L124.6 344.1Z" fill="none" stroke="#d03c40" stroke-width="1.1"/>
<path d="M131.9 344.1L134.0 346.2L131.9 348.3L129.8 346.2Z" fill="none" stroke="#d03c40" stroke-width="1.1"/>
<path d="M156.8 344.1L158.9 346.2L156.8 348.3L154.7 346.2Z" fill="none" stroke="#d03c40" stroke-width="1.1"/>
<path d="M153.7 343.1L155.8 345.2L153.7 347.3L151.6 345.2Z" fill="none" stroke="#d03c40" stroke-width="1.1"/>
<path d="M143.8 347.2L145.9 349.3L143.8 351.4L141.7 349.3Z" fill="none" stroke="#d03c40" stroke-width="1.1"/>
<path d="M148.5 349.8L150.6 351.9L148.5 354.0L146.4 351.9Z" fill="none" stroke="#d03c40" stroke-width="1.1"/>
<path d="M153.7 349.3L155.8 351.4L153.7 353.5L151.6 351.4Z" fill="none" stroke="#d03c40" stroke-width="1.1"/>
<path d="M121.5 346.2L123.6 348.3L121.5 350.4L119.4 348.3Z" fill="none" stroke="#d03c40" stroke-width="1.1"/>
<path d="M111.1 349.3L113.2 351.4L111.1 353.5L109.0 351.4Z" fill="none" stroke="#d03c40" stroke-width="1.1"/>
<path d="M109.0 351.4L111.1 353.5L109.0 355.6L106.9 353.5Z" fill="none" stroke="#d03c40" stroke-width="1.1"/>
<path d="M116.3 354.5L118.4 356.6L116.3 358.7L114.2 356.6Z" fill="none" stroke="#d03c40" stroke-width="1.1"/>
<path d="M128.8 357.6L130.9 359.7L128.8 361.8L126.7 359.7Z" fill="none" stroke="#d03c40" stroke-width="1.1"/>
<path d="M131.9 357.6L134.0 359.7L131.9 361.8L129.8 359.7Z" fill="none" stroke="#d03c40" stroke-width="1.1"/>
<path d="M136.0 354.5L138.1 356.6L136.0 358.7L133.9 356.6Z" fill="none" stroke="#d03c40" stroke-width="1.1"/>
<path d="M153.7 355.0L155.8 357.1L153.7 359.2L151.6 357.1Z" fill="none" stroke="#d03c40" stroke-width="1.1"/>
<path d="M121.0 357.6L123.1 359.7L121.0 361.8L118.9 359.7Z" fill="none" stroke="#d03c40" stroke-width="1.1"/>
<path d="M111.1 359.7L113.2 361.8L111.1 363.9L109.0 361.8Z" fill="none" stroke="#d03c40" stroke-width="1.1"/>
<path d="M118.9 362.8L121.0 364.9L118.9 367.0L116.8 364.9Z" fill="none" stroke="#d03c40" stroke-width="1.1"/>
<path d="M122.0 360.7L124.1 362.8L122.0 364.9L119.9 362.8Z" fill="none" stroke="#d03c40" stroke-width="1.1"/>
<path d="M129.3 362.8L131.4 364.9L129.3 367.0L127.2 364.9Z" fill="none" stroke="#d03c40" stroke-width="1.1"/>
<path d="M123.6 364.3L125.7 366.4L123.6 368.5L121.5 366.4Z" fill="none" stroke="#d03c40" stroke-width="1.1"/>
<path d="M118.8 325.7L120.9 327.8L118.8 329.9L116.7 327.8Z" fill="none" stroke="#d03c40" stroke-width="1.1"/>
<path d="M115.0 327.9L117.1 330.0L115.0 332.1L112.9 330.0Z" fill="none" stroke="#d03c40" stroke-width="1.1"/>
<path d="M112.2 362.6L114.3 364.7L112.2 366.8L110.1 364.7Z" fill="none" stroke="#d03c40" stroke-width="1.1"/>
<path d="M124.1 365.7L126.2 367.8L124.1 369.9L122.0 367.8Z" fill="none" stroke="#d03c40" stroke-width="1.1"/>
<path d="M111.6 368.3L113.7 370.4L111.6 372.5L109.5 370.4Z" fill="none" stroke="#d03c40" stroke-width="1.1"/>
<path d="M111.1 370.9L113.2 373.0L111.1 375.1L109.0 373.0Z" fill="none" stroke="#d03c40" stroke-width="1.1"/>
<path d="M152.7 379.2L154.8 381.3L152.7 383.4L150.6 381.3Z" fill="none" stroke="#d03c40" stroke-width="1.1"/>
<path d="M111.1 387.0L113.2 389.1L111.1 391.2L109.0 389.1Z" fill="none" stroke="#d03c40" stroke-width="1.1"/>
<path d="M166.7 290.5L168.8 292.6L166.7 294.7L164.6 292.6Z" fill="none" stroke="#d03c40" stroke-width="1.1"/>
<path d="M196.9 287.9L199.0 290.0L196.9 292.1L194.8 290.0Z" fill="none" stroke="#d03c40" stroke-width="1.1"/>
<path d="M195.3 295.7L197.4 297.8L195.3 299.9L193.2 297.8Z" fill="none" stroke="#d03c40" stroke-width="1.1"/>
<path d="M210.9 298.8L213.0 300.9L210.9 303.0L208.8 300.9Z" fill="none" stroke="#d03c40" stroke-width="1.1"/>
<path d="M183.9 301.4L186.0 303.5L183.9 305.6L181.8 303.5Z" fill="none" stroke="#d03c40" stroke-width="1.1"/>
<path d="M170.4 306.6L172.5 308.7L170.4 310.8L168.3 308.7Z" fill="none" stroke="#d03c40" stroke-width="1.1"/>
<path d="M191.2 306.6L193.3 308.7L191.2 310.8L189.1 308.7Z" fill="none" stroke="#d03c40" stroke-width="1.1"/>
<path d="M178.2 311.8L180.3 313.9L178.2 316.0L176.1 313.9Z" fill="none" stroke="#d03c40" stroke-width="1.1"/>
<path d="M190.1 311.8L192.2 313.9L190.1 316.0L188.0 313.9Z" fill="none" stroke="#d03c40" stroke-width="1.1"/>
<path d="M163.1 317.1L165.2 319.2L163.1 321.3L161.0 319.2Z" fill="none" stroke="#d03c40" stroke-width="1.1"/>
<path d="M174.0 317.1L176.1 319.2L174.0 321.3L171.9 319.2Z" fill="none" stroke="#d03c40" stroke-width="1.1"/>
<path d="M176.6 319.7L178.7 321.8L176.6 323.9L174.5 321.8Z" fill="none" stroke="#d03c40" stroke-width="1.1"/>
<path d="M174.0 322.3L176.1 324.4L174.0 326.5L171.9 324.4Z" fill="none" stroke="#d03c40" stroke-width="1.1"/>
<path d="M184.9 317.1L187.0 319.2L184.9 321.3L182.8 319.2Z" fill="none" stroke="#d03c40" stroke-width="1.1"/>
<path d="M162.1 322.3L164.2 324.4L162.1 326.5L160.0 324.4Z" fill="none" stroke="#d03c40" stroke-width="1.1"/>
<path d="M166.2 322.3L168.3 324.4L166.2 326.5L164.1 324.4Z" fill="none" stroke="#d03c40" stroke-width="1.1"/>
<path d="M165.7 325.4L167.8 327.5L165.7 329.6L163.6 327.5Z" fill="none" stroke="#d03c40" stroke-width="1.1"/>
<path d="M163.6 328.0L165.7 330.1L163.6 332.2L161.5 330.1Z" fill="none" stroke="#d03c40" stroke-width="1.1"/>
<path d="M168.3 331.1L170.4 333.2L168.3 335.3L166.2 333.2Z" fill="none" stroke="#d03c40" stroke-width="1.1"/>
<path d="M166.7 333.7L168.8 335.8L166.7 337.9L164.6 335.8Z" fill="none" stroke="#d03c40" stroke-width="1.1"/>
<path d="M164.2 335.8L166.3 337.9L164.2 340.0L162.1 337.9Z" fill="none" stroke="#d03c40" stroke-width="1.1"/>
<path d="M162.1 338.4L164.2 340.5L162.1 342.6L160.0 340.5Z" fill="none" stroke="#d03c40" stroke-width="1.1"/>
<path d="M164.2 341.5L166.3 343.6L164.2 345.7L162.1 343.6Z" fill="none" stroke="#d03c40" stroke-width="1.1"/>
<path d="M175.1 338.9L177.2 341.0L175.1 343.1L173.0 341.0Z" fill="none" stroke="#d03c40" stroke-width="1.1"/>
<path d="M175.6 339.1L177.7 341.2L175.6 343.3L173.5 341.2Z" fill="none" stroke="#d03c40" stroke-width="1.1"/>
<path d="M180.8 328.0L182.9 330.1L180.8 332.2L178.7 330.1Z" fill="none" stroke="#d03c40" stroke-width="1.1"/>
<path d="M183.9 325.4L186.0 327.5L183.9 329.6L181.8 327.5Z" fill="none" stroke="#d03c40" stroke-width="1.1"/>
<path d="M184.9 330.6L187.0 332.7L184.9 334.8L182.8 332.7Z" fill="none" stroke="#d03c40" stroke-width="1.1"/>
<path d="M192.7 322.8L194.8 324.9L192.7 327.0L190.6 324.9Z" fill="none" stroke="#d03c40" stroke-width="1.1"/>
<path d="M192.2 325.4L194.3 327.5L192.2 329.6L190.1 327.5Z" fill="none" stroke="#d03c40" stroke-width="1.1"/>
<path d="M190.1 333.2L192.2 335.3L190.1 337.4L188.0 335.3Z" fill="none" stroke="#d03c40" stroke-width="1.1"/>
<path d="M192.7 336.3L194.8 338.4L192.7 340.5L190.6 338.4Z" fill="none" stroke="#d03c40" stroke-width="1.1"/>
<path d="M196.9 333.7L199.0 335.8L196.9 337.9L194.8 335.8Z" fill="none" stroke="#d03c40" stroke-width="1.1"/>
<path d="M190.1 315.0L192.2 317.1L190.1 319.2L188.0 317.1Z" fill="none" stroke="#d03c40" stroke-width="1.1"/>
<path d="M196.9 315.0L199.0 317.1L196.9 319.2L194.8 317.1Z" fill="none" stroke="#d03c40" stroke-width="1.1"/>
<path d="M202.6 315.0L204.7 317.1L202.6 319.2L200.5 317.1Z" fill="none" stroke="#d03c40" stroke-width="1.1"/>
<path d="M199.5 319.7L201.6 321.8L199.5 323.9L197.4 321.8Z" fill="none" stroke="#d03c40" stroke-width="1.1"/>
<path d="M203.6 319.7L205.7 321.8L203.6 323.9L201.5 321.8Z" fill="none" stroke="#d03c40" stroke-width="1.1"/>
<path d="M206.7 322.3L208.8 324.4L206.7 326.5L204.6 324.4Z" fill="none" stroke="#d03c40" stroke-width="1.1"/>
<path d="M209.8 324.9L211.9 327.0L209.8 329.1L207.7 327.0Z" fill="none" stroke="#d03c40" stroke-width="1.1"/>
<path d="M205.7 328.0L207.8 330.1L205.7 332.2L203.6 330.1Z" fill="none" stroke="#d03c40" stroke-width="1.1"/>
<path d="M204.1 333.2L206.2 335.3L204.1 337.4L202.0 335.3Z" fill="none" stroke="#d03c40" stroke-width="1.1"/>
<path d="M206.7 338.9L208.8 341.0L206.7 343.1L204.6 341.0Z" fill="none" stroke="#d03c40" stroke-width="1.1"/>
<path d="M213.0 336.3L215.1 338.4L213.0 340.5L210.9 338.4Z" fill="none" stroke="#d03c40" stroke-width="1.1"/>
<path d="M211.9 315.0L214.0 317.1L211.9 319.2L209.8 317.1Z" fill="none" stroke="#d03c40" stroke-width="1.1"/>
<path d="M193.7 344.1L195.8 346.2L193.7 348.3L191.6 346.2Z" fill="none" stroke="#d03c40" stroke-width="1.1"/>
<path d="M184.4 346.7L186.5 348.8L184.4 350.9L182.3 348.8Z" fill="none" stroke="#d03c40" stroke-width="1.1"/>
<path d="M186.5 349.3L188.6 351.4L186.5 353.5L184.4 351.4Z" fill="none" stroke="#d03c40" stroke-width="1.1"/>
<path d="M163.6 349.8L165.7 351.9L163.6 354.0L161.5 351.9Z" fill="none" stroke="#d03c40" stroke-width="1.1"/>
<path d="M173.5 349.3L175.6 351.4L173.5 353.5L171.4 351.4Z" fill="none" stroke="#d03c40" stroke-width="1.1"/>
<path d="M170.9 354.5L173.0 356.6L170.9 358.7L168.8 356.6Z" fill="none" stroke="#d03c40" stroke-width="1.1"/>
<path d="M174.0 355.0L176.1 357.1L174.0 359.2L171.9 357.1Z" fill="none" stroke="#d03c40" stroke-width="1.1"/>
<path d="M204.1 357.1L206.2 359.2L204.1 361.3L202.0 359.2Z" fill="none" stroke="#d03c40" stroke-width="1.1"/>
<path d="M244.0 287.9L246.1 290.0L244.0 292.1L241.9 290.0Z" fill="none" stroke="#d03c40" stroke-width="1.1"/>
<path d="M220.6 301.4L222.7 303.5L220.6 305.6L218.5 303.5Z" fill="none" stroke="#d03c40" stroke-width="1.1"/>
<path d="M225.8 298.8L227.9 300.9L225.8 303.0L223.7 300.9Z" fill="none" stroke="#d03c40" stroke-width="1.1"/>
<path d="M249.7 309.2L251.8 311.3L249.7 313.4L247.6 311.3Z" fill="none" stroke="#d03c40" stroke-width="1.1"/>
<path d="M212.3 312.9L214.4 315.0L212.3 317.1L210.2 315.0Z" fill="none" stroke="#d03c40" stroke-width="1.1"/>
<path d="M212.8 317.6L214.9 319.7L212.8 321.8L210.7 319.7Z" fill="none" stroke="#d03c40" stroke-width="1.1"/>
<path d="M222.7 317.1L224.8 319.2L222.7 321.3L220.6 319.2Z" fill="none" stroke="#d03c40" stroke-width="1.1"/>
<path d="M224.8 318.1L226.9 320.2L224.8 322.3L222.7 320.2Z" fill="none" stroke="#d03c40" stroke-width="1.1"/>
<path d="M227.9 320.2L230.0 322.3L227.9 324.4L225.8 322.3Z" fill="none" stroke="#d03c40" stroke-width="1.1"/>
<path d="M232.6 317.6L234.7 319.7L232.6 321.8L230.5 319.7Z" fill="none" stroke="#d03c40" stroke-width="1.1"/>
<path d="M249.2 322.8L251.3 324.9L249.2 327.0L247.1 324.9Z" fill="none" stroke="#d03c40" stroke-width="1.1"/>
<path d="M214.4 322.8L216.5 324.9L214.4 327.0L212.3 324.9Z" fill="none" stroke="#d03c40" stroke-width="1.1"/>
<path d="M217.0 328.0L219.1 330.1L217.0 332.2L214.9 330.1Z" fill="none" stroke="#d03c40" stroke-width="1.1"/>
<path d="M215.9 331.1L218.0 333.2L215.9 335.3L213.8 333.2Z" fill="none" stroke="#d03c40" stroke-width="1.1"/>
<path d="M225.3 328.0L227.4 330.1L225.3 332.2L223.2 330.1Z" fill="none" stroke="#d03c40" stroke-width="1.1"/>
<path d="M224.2 331.1L226.3 333.2L224.2 335.3L222.1 333.2Z" fill="none" stroke="#d03c40" stroke-width="1.1"/>
<path d="M214.4 336.3L216.5 338.4L214.4 340.5L212.3 338.4Z" fill="none" stroke="#d03c40" stroke-width="1.1"/>
<circle cx="81.4" cy="300.9" r="1.65" fill="#1515c4"/>
<circle cx="84.6" cy="300.9" r="1.65" fill="#1515c4"/>
<circle cx="93.9" cy="298.1" r="1.65" fill="#1515c4"/>
<circle cx="109.0" cy="303.5" r="1.65" fill="#1515c4"/>
<circle cx="106.9" cy="308.7" r="1.65" fill="#1515c4"/>
<circle cx="109.0" cy="309.2" r="1.65" fill="#1515c4"/>
<circle cx="98.6" cy="311.3" r="1.65" fill="#1515c4"/>
<circle cx="97.5" cy="313.9" r="1.65" fill="#1515c4"/>
<circle cx="107.4" cy="313.9" r="1.65" fill="#1515c4"/>
<circle cx="87.2" cy="319.2" r="1.65" fill="#1515c4"/>
<circle cx="88.2" cy="324.9" r="1.65" fill="#1515c4"/>
<circle cx="97.0" cy="324.9" r="1.65" fill="#1515c4"/>
<circle cx="99.6" cy="324.9" r="1.65" fill="#1515c4"/>
<circle cx="97.5" cy="332.7" r="1.65" fill="#1515c4"/>
<circle cx="106.9" cy="346.2" r="1.65" fill="#1515c4"/>
<circle cx="107.9" cy="356.6" r="1.65" fill="#1515c4"/>
<circle cx="100.7" cy="359.7" r="1.65" fill="#1515c4"/>
<circle cx="92.9" cy="364.9" r="1.65" fill="#1515c4"/>
<circle cx="95.5" cy="364.9" r="1.65" fill="#1515c4"/>
<circle cx="132.1" cy="284.6" r="1.65" fill="#1515c4"/>
<circle cx="130.3" cy="292.6" r="1.65" fill="#1515c4"/>
<circle cx="139.7" cy="295.4" r="1.65" fill="#1515c4"/>
<circle cx="147.3" cy="298.1" r="1.65" fill="#1515c4"/>
<circle cx="129.3" cy="300.9" r="1.65" fill="#1515c4"/>
<circle cx="114.2" cy="306.1" r="1.65" fill="#1515c4"/>
<circle cx="118.4" cy="308.7" r="1.65" fill="#1515c4"/>
<circle cx="122.0" cy="308.7" r="1.65" fill="#1515c4"/>
<circle cx="125.1" cy="306.1" r="1.65" fill="#1515c4"/>
<circle cx="127.2" cy="306.1" r="1.65" fill="#1515c4"/>
<circle cx="136.0" cy="308.7" r="1.65" fill="#1515c4"/>
<circle cx="139.7" cy="308.7" r="1.65" fill="#1515c4"/>
<circle cx="154.2" cy="308.7" r="1.65" fill="#1515c4"/>
<circle cx="156.3" cy="308.7" r="1.65" fill="#1515c4"/>
<circle cx="114.2" cy="311.6" r="1.65" fill="#1515c4"/>
<circle cx="132.4" cy="311.6" r="1.65" fill="#1515c4"/>
<circle cx="149.5" cy="313.9" r="1.65" fill="#1515c4"/>
<circle cx="159.4" cy="313.9" r="1.65" fill="#1515c4"/>
<circle cx="114.2" cy="319.2" r="1.65" fill="#1515c4"/>
<circle cx="118.4" cy="321.8" r="1.65" fill="#1515c4"/>
<circle cx="140.2" cy="316.6" r="1.65" fill="#1515c4"/>
<circle cx="158.9" cy="319.2" r="1.65" fill="#1515c4"/>
<circle cx="134.5" cy="324.9" r="1.65" fill="#1515c4"/>
<circle cx="129.3" cy="327.5" r="1.65" fill="#1515c4"/>
<circle cx="141.7" cy="327.5" r="1.65" fill="#1515c4"/>
<circle cx="149.5" cy="330.1" r="1.65" fill="#1515c4"/>
<circle cx="117.3" cy="341.0" r="1.65" fill="#1515c4"/>
<circle cx="155.2" cy="343.6" r="1.65" fill="#1515c4"/>
<circle cx="135.0" cy="346.7" r="1.65" fill="#1515c4"/>
<circle cx="137.6" cy="346.7" r="1.65" fill="#1515c4"/>
<circle cx="117.9" cy="349.1" r="1.65" fill="#1515c4"/>
<circle cx="125.1" cy="349.1" r="1.65" fill="#1515c4"/>
<circle cx="128.2" cy="354.3" r="1.65" fill="#1515c4"/>
<circle cx="206.7" cy="290.0" r="1.65" fill="#1515c4"/>
<circle cx="174.5" cy="300.9" r="1.65" fill="#1515c4"/>
<circle cx="179.7" cy="303.5" r="1.65" fill="#1515c4"/>
<circle cx="187.5" cy="303.5" r="1.65" fill="#1515c4"/>
<circle cx="201.5" cy="300.9" r="1.65" fill="#1515c4"/>
<circle cx="177.1" cy="308.7" r="1.65" fill="#1515c4"/>
<circle cx="175.1" cy="311.3" r="1.65" fill="#1515c4"/>
<circle cx="169.3" cy="313.9" r="1.65" fill="#1515c4"/>
<circle cx="179.2" cy="317.1" r="1.65" fill="#1515c4"/>
<circle cx="182.3" cy="321.8" r="1.65" fill="#1515c4"/>
<circle cx="194.3" cy="317.1" r="1.65" fill="#1515c4"/>
<circle cx="199.5" cy="324.9" r="1.65" fill="#1515c4"/>
<circle cx="161.6" cy="321.8" r="1.65" fill="#1515c4"/>
<circle cx="167.3" cy="330.1" r="1.65" fill="#1515c4"/>
<circle cx="222.2" cy="298.1" r="1.65" fill="#1515c4"/>
<circle cx="234.9" cy="308.9" r="1.65" fill="#1515c4"/>
<circle cx="214.9" cy="319.2" r="1.65" fill="#1515c4"/>
<circle cx="220.1" cy="327.5" r="1.65" fill="#1515c4"/>
<circle cx="242.6" cy="319.4" r="1.65" fill="#1515c4"/>
<path d="M94.9 485.3L97.0 487.4L94.9 489.5L92.8 487.4Z" fill="none" stroke="#d03c40" stroke-width="1.1"/>
<path d="M167.0 467.8L169.1 469.9L167.0 472.0L164.9 469.9Z" fill="none" stroke="#d03c40" stroke-width="1.1"/>
<path d="M192.4 489.5L194.5 491.6L192.4 493.7L190.3 491.6Z" fill="none" stroke="#d03c40" stroke-width="1.1"/>
<path d="M216.2 488.1L218.3 490.2L216.2 492.3L214.1 490.2Z" fill="none" stroke="#d03c40" stroke-width="1.1"/>
<path d="M226.0 494.7L228.1 496.8L226.0 498.9L223.9 496.8Z" fill="none" stroke="#d03c40" stroke-width="1.1"/>
<path d="M75.2 501.2L77.3 503.3L75.2 505.4L73.1 503.3Z" fill="none" stroke="#d03c40" stroke-width="1.1"/>
<path d="M90.6 501.2L92.7 503.3L90.6 505.4L88.5 503.3Z" fill="none" stroke="#d03c40" stroke-width="1.1"/>
<path d="M109.0 502.2L111.1 504.3L109.0 506.4L106.9 504.3Z" fill="none" stroke="#d03c40" stroke-width="1.1"/>
<path d="M106.9 524.2L109.0 526.3L106.9 528.4L104.8 526.3Z" fill="none" stroke="#d03c40" stroke-width="1.1"/>
<path d="M91.8 531.3L93.9 533.4L91.8 535.5L89.7 533.4Z" fill="none" stroke="#d03c40" stroke-width="1.1"/>
<path d="M98.6 529.7L100.7 531.8L98.6 533.9L96.5 531.8Z" fill="none" stroke="#d03c40" stroke-width="1.1"/>
<path d="M94.4 535.4L96.5 537.5L94.4 539.6L92.3 537.5Z" fill="none" stroke="#d03c40" stroke-width="1.1"/>
<path d="M96.0 536.0L98.1 538.1L96.0 540.2L93.9 538.1Z" fill="none" stroke="#d03c40" stroke-width="1.1"/>
<path d="M106.9 532.8L109.0 534.9L106.9 537.0L104.8 534.9Z" fill="none" stroke="#d03c40" stroke-width="1.1"/>
<path d="M108.4 533.9L110.5 536.0L108.4 538.1L106.3 536.0Z" fill="none" stroke="#d03c40" stroke-width="1.1"/>
<path d="M80.4 540.1L82.5 542.2L80.4 544.3L78.3 542.2Z" fill="none" stroke="#d03c40" stroke-width="1.1"/>
<path d="M80.9 541.7L83.0 543.8L80.9 545.9L78.8 543.8Z" fill="none" stroke="#d03c40" stroke-width="1.1"/>
<path d="M90.3 544.3L92.4 546.4L90.3 548.5L88.2 546.4Z" fill="none" stroke="#d03c40" stroke-width="1.1"/>
<path d="M92.3 544.8L94.4 546.9L92.3 549.0L90.2 546.9Z" fill="none" stroke="#d03c40" stroke-width="1.1"/>
<path d="M97.5 546.3L99.6 548.4L97.5 550.5L95.4 548.4Z" fill="none" stroke="#d03c40" stroke-width="1.1"/>
<path d="M101.2 545.8L103.3 547.9L101.2 550.0L99.1 547.9Z" fill="none" stroke="#d03c40" stroke-width="1.1"/>
<path d="M105.8 540.1L107.9 542.2L105.8 544.3L103.7 542.2Z" fill="none" stroke="#d03c40" stroke-width="1.1"/>
<path d="M106.9 542.7L109.0 544.8L106.9 546.9L104.8 544.8Z" fill="none" stroke="#d03c40" stroke-width="1.1"/>
<path d="M144.3 499.6L146.4 501.7L144.3 503.8L142.2 501.7Z" fill="none" stroke="#d03c40" stroke-width="1.1"/>
<path d="M155.8 496.5L157.9 498.6L155.8 500.7L153.7 498.6Z" fill="none" stroke="#d03c40" stroke-width="1.1"/>
<path d="M161.0 499.6L163.1 501.7L161.0 503.8L158.9 501.7Z" fill="none" stroke="#d03c40" stroke-width="1.1"/>
<path d="M161.0 507.9L163.1 510.0L161.0 512.1L158.9 510.0Z" fill="none" stroke="#d03c40" stroke-width="1.1"/>
<path d="M131.9 514.1L134.0 516.2L131.9 518.3L129.8 516.2Z" fill="none" stroke="#d03c40" stroke-width="1.1"/>
<path d="M118.4 515.7L120.5 517.8L118.4 519.9L116.3 517.8Z" fill="none" stroke="#d03c40" stroke-width="1.1"/>
<path d="M125.7 519.9L127.8 522.0L125.7 524.1L123.6 522.0Z" fill="none" stroke="#d03c40" stroke-width="1.1"/>
<path d="M125.1 526.1L127.2 528.2L125.1 530.3L123.0 528.2Z" fill="none" stroke="#d03c40" stroke-width="1.1"/>
<path d="M147.5 520.9L149.6 523.0L147.5 525.1L145.4 523.0Z" fill="none" stroke="#d03c40" stroke-width="1.1"/>
<path d="M153.7 521.4L155.8 523.5L153.7 525.6L151.6 523.5Z" fill="none" stroke="#d03c40" stroke-width="1.1"/>
<path d="M144.9 525.6L147.0 527.7L144.9 529.8L142.8 527.7Z" fill="none" stroke="#d03c40" stroke-width="1.1"/>
<path d="M156.3 528.7L158.4 530.8L156.3 532.9L154.2 530.8Z" fill="none" stroke="#d03c40" stroke-width="1.1"/>
<path d="M113.2 530.2L115.3 532.3L113.2 534.4L111.1 532.3Z" fill="none" stroke="#d03c40" stroke-width="1.1"/>
<path d="M121.5 529.7L123.6 531.8L121.5 533.9L119.4 531.8Z" fill="none" stroke="#d03c40" stroke-width="1.1"/>
<path d="M121.0 534.4L123.1 536.5L121.0 538.6L118.9 536.5Z" fill="none" stroke="#d03c40" stroke-width="1.1"/>
<path d="M138.1 531.3L140.2 533.4L138.1 535.5L136.0 533.4Z" fill="none" stroke="#d03c40" stroke-width="1.1"/>
<path d="M135.0 533.4L137.1 535.5L135.0 537.6L132.9 535.5Z" fill="none" stroke="#d03c40" stroke-width="1.1"/>
<path d="M132.4 534.9L134.5 537.0L132.4 539.1L130.3 537.0Z" fill="none" stroke="#d03c40" stroke-width="1.1"/>
<path d="M130.3 536.5L132.4 538.6L130.3 540.7L128.2 538.6Z" fill="none" stroke="#d03c40" stroke-width="1.1"/>
<path d="M150.6 536.0L152.7 538.1L150.6 540.2L148.5 538.1Z" fill="none" stroke="#d03c40" stroke-width="1.1"/>
<path d="M113.7 538.6L115.8 540.7L113.7 542.8L111.6 540.7Z" fill="none" stroke="#d03c40" stroke-width="1.1"/>
<path d="M113.7 540.6L115.8 542.7L113.7 544.8L111.6 542.7Z" fill="none" stroke="#d03c40" stroke-width="1.1"/>
<path d="M120.5 539.6L122.6 541.7L120.5 543.8L118.4 541.7Z" fill="none" stroke="#d03c40" stroke-width="1.1"/>
<path d="M125.1 539.6L127.2 541.7L125.1 543.8L123.0 541.7Z" fill="none" stroke="#d03c40" stroke-width="1.1"/>
<path d="M123.6 542.2L125.7 544.3L123.6 546.4L121.5 544.3Z" fill="none" stroke="#d03c40" stroke-width="1.1"/>
<path d="M145.9 542.7L148.0 544.8L145.9 546.9L143.8 544.8Z" fill="none" stroke="#d03c40" stroke-width="1.1"/>
<path d="M140.2 545.3L142.3 547.4L140.2 549.5L138.1 547.4Z" fill="none" stroke="#d03c40" stroke-width="1.1"/>
<path d="M124.1 545.8L126.2 547.9L124.1 550.0L122.0 547.9Z" fill="none" stroke="#d03c40" stroke-width="1.1"/>
<path d="M155.2 545.8L157.3 547.9L155.2 550.0L153.1 547.9Z" fill="none" stroke="#d03c40" stroke-width="1.1"/>
<path d="M166.7 502.7L168.8 504.8L166.7 506.9L164.6 504.8Z" fill="none" stroke="#d03c40" stroke-width="1.1"/>
<path d="M193.7 508.4L195.8 510.5L193.7 512.6L191.6 510.5Z" fill="none" stroke="#d03c40" stroke-width="1.1"/>
<path d="M201.3 506.9L203.4 509.0L201.3 511.1L199.2 509.0Z" fill="none" stroke="#d03c40" stroke-width="1.1"/>
<path d="M206.2 506.9L208.3 509.0L206.2 511.1L204.1 509.0Z" fill="none" stroke="#d03c40" stroke-width="1.1"/>
<path d="M174.0 515.7L176.1 517.8L174.0 519.9L171.9 517.8Z" fill="none" stroke="#d03c40" stroke-width="1.1"/>
<path d="M183.7 515.7L185.8 517.8L183.7 519.9L181.6 517.8Z" fill="none" stroke="#d03c40" stroke-width="1.1"/>
<path d="M193.0 518.3L195.1 520.4L193.0 522.5L190.9 520.4Z" fill="none" stroke="#d03c40" stroke-width="1.1"/>
<path d="M210.9 519.9L213.0 522.0L210.9 524.1L208.8 522.0Z" fill="none" stroke="#d03c40" stroke-width="1.1"/>
<path d="M190.1 524.0L192.2 526.1L190.1 528.2L188.0 526.1Z" fill="none" stroke="#d03c40" stroke-width="1.1"/>
<path d="M170.4 527.1L172.5 529.2L170.4 531.3L168.3 529.2Z" fill="none" stroke="#d03c40" stroke-width="1.1"/>
<path d="M176.1 528.7L178.2 530.8L176.1 532.9L174.0 530.8Z" fill="none" stroke="#d03c40" stroke-width="1.1"/>
<path d="M193.7 528.7L195.8 530.8L193.7 532.9L191.6 530.8Z" fill="none" stroke="#d03c40" stroke-width="1.1"/>
<path d="M196.9 528.7L199.0 530.8L196.9 532.9L194.8 530.8Z" fill="none" stroke="#d03c40" stroke-width="1.1"/>
<path d="M202.6 536.0L204.7 538.1L202.6 540.2L200.5 538.1Z" fill="none" stroke="#d03c40" stroke-width="1.1"/>
<path d="M180.6 537.0L182.7 539.1L180.6 541.2L178.5 539.1Z" fill="none" stroke="#d03c40" stroke-width="1.1"/>
<path d="M172.3 538.8L174.4 540.9L172.3 543.0L170.2 540.9Z" fill="none" stroke="#d03c40" stroke-width="1.1"/>
<path d="M167.8 547.4L169.9 549.5L167.8 551.6L165.7 549.5Z" fill="none" stroke="#d03c40" stroke-width="1.1"/>
<path d="M224.8 510.0L226.9 512.1L224.8 514.2L222.7 512.1Z" fill="none" stroke="#d03c40" stroke-width="1.1"/>
<path d="M232.6 514.1L234.7 516.2L232.6 518.3L230.5 516.2Z" fill="none" stroke="#d03c40" stroke-width="1.1"/>
<path d="M244.0 514.1L246.1 516.2L244.0 518.3L241.9 516.2Z" fill="none" stroke="#d03c40" stroke-width="1.1"/>
<path d="M216.5 525.6L218.6 527.7L216.5 529.8L214.4 527.7Z" fill="none" stroke="#d03c40" stroke-width="1.1"/>
<path d="M222.5 528.7L224.6 530.8L222.5 532.9L220.4 530.8Z" fill="none" stroke="#d03c40" stroke-width="1.1"/>
<path d="M80.4 551.6L82.5 553.7L80.4 555.8L78.3 553.7Z" fill="none" stroke="#d03c40" stroke-width="1.1"/>
<path d="M89.2 554.7L91.3 556.8L89.2 558.9L87.1 556.8Z" fill="none" stroke="#d03c40" stroke-width="1.1"/>
<path d="M93.9 551.6L96.0 553.7L93.9 555.8L91.8 553.7Z" fill="none" stroke="#d03c40" stroke-width="1.1"/>
<path d="M99.6 551.1L101.7 553.2L99.6 555.3L97.5 553.2Z" fill="none" stroke="#d03c40" stroke-width="1.1"/>
<path d="M103.8 550.6L105.9 552.7L103.8 554.8L101.7 552.7Z" fill="none" stroke="#d03c40" stroke-width="1.1"/>
<path d="M96.5 547.5L98.6 549.6L96.5 551.7L94.4 549.6Z" fill="none" stroke="#d03c40" stroke-width="1.1"/>
<path d="M100.7 546.9L102.8 549.0L100.7 551.1L98.6 549.0Z" fill="none" stroke="#d03c40" stroke-width="1.1"/>
<path d="M77.3 557.8L79.4 559.9L77.3 562.0L75.2 559.9Z" fill="none" stroke="#d03c40" stroke-width="1.1"/>
<path d="M78.3 559.4L80.4 561.5L78.3 563.6L76.2 561.5Z" fill="none" stroke="#d03c40" stroke-width="1.1"/>
<path d="M83.0 555.8L85.1 557.9L83.0 560.0L80.9 557.9Z" fill="none" stroke="#d03c40" stroke-width="1.1"/>
<path d="M88.2 560.4L90.3 562.5L88.2 564.6L86.1 562.5Z" fill="none" stroke="#d03c40" stroke-width="1.1"/>
<path d="M94.9 559.9L97.0 562.0L94.9 564.1L92.8 562.0Z" fill="none" stroke="#d03c40" stroke-width="1.1"/>
<path d="M99.6 558.4L101.7 560.5L99.6 562.6L97.5 560.5Z" fill="none" stroke="#d03c40" stroke-width="1.1"/>
<path d="M102.2 562.0L104.3 564.1L102.2 566.2L100.1 564.1Z" fill="none" stroke="#d03c40" stroke-width="1.1"/>
<path d="M107.4 562.0L109.5 564.1L107.4 566.2L105.3 564.1Z" fill="none" stroke="#d03c40" stroke-width="1.1"/>
<path d="M107.9 556.3L110.0 558.4L107.9 560.5L105.8 558.4Z" fill="none" stroke="#d03c40" stroke-width="1.1"/>
<path d="M98.6 566.1L100.7 568.2L98.6 570.3L96.5 568.2Z" fill="none" stroke="#d03c40" stroke-width="1.1"/>
<path d="M98.6 569.3L100.7 571.4L98.6 573.5L96.5 571.4Z" fill="none" stroke="#d03c40" stroke-width="1.1"/>
<path d="M97.5 568.2L99.6 570.3L97.5 572.4L95.4 570.3Z" fill="none" stroke="#d03c40" stroke-width="1.1"/>
<path d="M90.3 567.2L92.4 569.3L90.3 571.4L88.2 569.3Z" fill="none" stroke="#d03c40" stroke-width="1.1"/>
<path d="M87.2 569.8L89.3 571.9L87.2 574.0L85.1 571.9Z" fill="none" stroke="#d03c40" stroke-width="1.1"/>
<path d="M91.8 571.3L93.9 573.4L91.8 575.5L89.7 573.4Z" fill="none" stroke="#d03c40" stroke-width="1.1"/>
<path d="M74.7 571.9L76.8 574.0L74.7 576.1L72.6 574.0Z" fill="none" stroke="#d03c40" stroke-width="1.1"/>
<path d="M75.2 573.4L77.3 575.5L75.2 577.6L73.1 575.5Z" fill="none" stroke="#d03c40" stroke-width="1.1"/>
<path d="M84.0 573.4L86.1 575.5L84.0 577.6L81.9 575.5Z" fill="none" stroke="#d03c40" stroke-width="1.1"/>
<path d="M80.9 577.1L83.0 579.2L80.9 581.3L78.8 579.2Z" fill="none" stroke="#d03c40" stroke-width="1.1"/>
<path d="M87.2 576.0L89.3 578.1L87.2 580.2L85.1 578.1Z" fill="none" stroke="#d03c40" stroke-width="1.1"/>
<path d="M91.3 576.0L93.4 578.1L91.3 580.2L89.2 578.1Z" fill="none" stroke="#d03c40" stroke-width="1.1"/>
<path d="M101.7 575.0L103.8 577.1L101.7 579.2L99.6 577.1Z" fill="none" stroke="#d03c40" stroke-width="1.1"/>
<path d="M106.4 572.4L108.5 574.5L106.4 576.6L104.3 574.5Z" fill="none" stroke="#d03c40" stroke-width="1.1"/>
<path d="M76.8 579.1L78.9 581.2L76.8 583.3L74.7 581.2Z" fill="none" stroke="#d03c40" stroke-width="1.1"/>
<path d="M76.2 581.2L78.3 583.3L76.2 585.4L74.1 583.3Z" fill="none" stroke="#d03c40" stroke-width="1.1"/>
<path d="M83.5 580.2L85.6 582.3L83.5 584.4L81.4 582.3Z" fill="none" stroke="#d03c40" stroke-width="1.1"/>
<path d="M89.2 580.7L91.3 582.8L89.2 584.9L87.1 582.8Z" fill="none" stroke="#d03c40" stroke-width="1.1"/>
<path d="M91.3 583.3L93.4 585.4L91.3 587.5L89.2 585.4Z" fill="none" stroke="#d03c40" stroke-width="1.1"/>
<path d="M97.5 584.3L99.6 586.4L97.5 588.5L95.4 586.4Z" fill="none" stroke="#d03c40" stroke-width="1.1"/>
<path d="M101.7 582.2L103.8 584.3L101.7 586.4L99.6 584.3Z" fill="none" stroke="#d03c40" stroke-width="1.1"/>
<path d="M105.8 580.2L107.9 582.3L105.8 584.4L103.7 582.3Z" fill="none" stroke="#d03c40" stroke-width="1.1"/>
<path d="M107.9 583.3L110.0 585.4L107.9 587.5L105.8 585.4Z" fill="none" stroke="#d03c40" stroke-width="1.1"/>
<path d="M73.1 588.5L75.2 590.6L73.1 592.7L71.0 590.6Z" fill="none" stroke="#d03c40" stroke-width="1.1"/>
<path d="M74.2 591.1L76.3 593.2L74.2 595.3L72.1 593.2Z" fill="none" stroke="#d03c40" stroke-width="1.1"/>
<path d="M78.8 585.4L80.9 587.5L78.8 589.6L76.7 587.5Z" fill="none" stroke="#d03c40" stroke-width="1.1"/>
<path d="M79.9 588.5L82.0 590.6L79.9 592.7L77.8 590.6Z" fill="none" stroke="#d03c40" stroke-width="1.1"/>
<path d="M84.0 589.5L86.1 591.6L84.0 593.7L81.9 591.6Z" fill="none" stroke="#d03c40" stroke-width="1.1"/>
<path d="M88.2 587.4L90.3 589.5L88.2 591.6L86.1 589.5Z" fill="none" stroke="#d03c40" stroke-width="1.1"/>
<path d="M92.3 587.4L94.4 589.5L92.3 591.6L90.2 589.5Z" fill="none" stroke="#d03c40" stroke-width="1.1"/>
<path d="M97.5 589.5L99.6 591.6L97.5 593.7L95.4 591.6Z" fill="none" stroke="#d03c40" stroke-width="1.1"/>
<path d="M101.7 586.4L103.8 588.5L101.7 590.6L99.6 588.5Z" fill="none" stroke="#d03c40" stroke-width="1.1"/>
<path d="M105.8 589.5L107.9 591.6L105.8 593.7L103.7 591.6Z" fill="none" stroke="#d03c40" stroke-width="1.1"/>
<path d="M77.8 594.2L79.9 596.3L77.8 598.4L75.7 596.3Z" fill="none" stroke="#d03c40" stroke-width="1.1"/>
<path d="M83.0 592.6L85.1 594.7L83.0 596.8L80.9 594.7Z" fill="none" stroke="#d03c40" stroke-width="1.1"/>
<path d="M86.1 595.7L88.2 597.8L86.1 599.9L84.0 597.8Z" fill="none" stroke="#d03c40" stroke-width="1.1"/>
<path d="M90.3 596.8L92.4 598.9L90.3 601.0L88.2 598.9Z" fill="none" stroke="#d03c40" stroke-width="1.1"/>
<path d="M102.7 594.7L104.8 596.8L102.7 598.9L100.6 596.8Z" fill="none" stroke="#d03c40" stroke-width="1.1"/>
<path d="M106.9 593.7L109.0 595.8L106.9 597.9L104.8 595.8Z" fill="none" stroke="#d03c40" stroke-width="1.1"/>
<path d="M73.1 598.3L75.2 600.4L73.1 602.5L71.0 600.4Z" fill="none" stroke="#d03c40" stroke-width="1.1"/>
<path d="M123.6 551.6L125.7 553.7L123.6 555.8L121.5 553.7Z" fill="none" stroke="#d03c40" stroke-width="1.1"/>
<path d="M129.8 550.6L131.9 552.7L129.8 554.8L127.7 552.7Z" fill="none" stroke="#d03c40" stroke-width="1.1"/>
<path d="M134.0 549.0L136.1 551.1L134.0 553.2L131.9 551.1Z" fill="none" stroke="#d03c40" stroke-width="1.1"/>
<path d="M155.8 550.6L157.9 552.7L155.8 554.8L153.7 552.7Z" fill="none" stroke="#d03c40" stroke-width="1.1"/>
<path d="M110.1 554.2L112.2 556.3L110.1 558.4L108.0 556.3Z" fill="none" stroke="#d03c40" stroke-width="1.1"/>
<path d="M114.2 556.3L116.3 558.4L114.2 560.5L112.1 558.4Z" fill="none" stroke="#d03c40" stroke-width="1.1"/>
<path d="M120.5 557.3L122.6 559.4L120.5 561.5L118.4 559.4Z" fill="none" stroke="#d03c40" stroke-width="1.1"/>
<path d="M126.2 554.7L128.3 556.8L126.2 558.9L124.1 556.8Z" fill="none" stroke="#d03c40" stroke-width="1.1"/>
<path d="M135.5 554.2L137.6 556.3L135.5 558.4L133.4 556.3Z" fill="none" stroke="#d03c40" stroke-width="1.1"/>
<path d="M143.3 557.3L145.4 559.4L143.3 561.5L141.2 559.4Z" fill="none" stroke="#d03c40" stroke-width="1.1"/>
<path d="M151.6 559.4L153.7 561.5L151.6 563.6L149.5 561.5Z" fill="none" stroke="#d03c40" stroke-width="1.1"/>
<path d="M153.7 558.4L155.8 560.5L153.7 562.6L151.6 560.5Z" fill="none" stroke="#d03c40" stroke-width="1.1"/>
<path d="M109.0 561.5L111.1 563.6L109.0 565.7L106.9 563.6Z" fill="none" stroke="#d03c40" stroke-width="1.1"/>
<path d="M117.3 561.0L119.4 563.1L117.3 565.2L115.2 563.1Z" fill="none" stroke="#d03c40" stroke-width="1.1"/>
<path d="M126.7 561.0L128.8 563.1L126.7 565.2L124.6 563.1Z" fill="none" stroke="#d03c40" stroke-width="1.1"/>
<path d="M132.9 562.5L135.0 564.6L132.9 566.7L130.8 564.6Z" fill="none" stroke="#d03c40" stroke-width="1.1"/>
<path d="M142.3 561.0L144.4 563.1L142.3 565.2L140.2 563.1Z" fill="none" stroke="#d03c40" stroke-width="1.1"/>
<path d="M149.5 562.0L151.6 564.1L149.5 566.2L147.4 564.1Z" fill="none" stroke="#d03c40" stroke-width="1.1"/>
<path d="M115.3 567.2L117.4 569.3L115.3 571.4L113.2 569.3Z" fill="none" stroke="#d03c40" stroke-width="1.1"/>
<path d="M118.4 567.7L120.5 569.8L118.4 571.9L116.3 569.8Z" fill="none" stroke="#d03c40" stroke-width="1.1"/>
<path d="M122.5 568.2L124.6 570.3L122.5 572.4L120.4 570.3Z" fill="none" stroke="#d03c40" stroke-width="1.1"/>
<path d="M128.8 570.8L130.9 572.9L128.8 575.0L126.7 572.9Z" fill="none" stroke="#d03c40" stroke-width="1.1"/>
<path d="M134.0 565.6L136.1 567.7L134.0 569.8L131.9 567.7Z" fill="none" stroke="#d03c40" stroke-width="1.1"/>
<path d="M141.2 566.7L143.3 568.8L141.2 570.9L139.1 568.8Z" fill="none" stroke="#d03c40" stroke-width="1.1"/>
<path d="M148.5 566.7L150.6 568.8L148.5 570.9L146.4 568.8Z" fill="none" stroke="#d03c40" stroke-width="1.1"/>
<path d="M156.8 570.8L158.9 572.9L156.8 575.0L154.7 572.9Z" fill="none" stroke="#d03c40" stroke-width="1.1"/>
<path d="M113.2 573.4L115.3 575.5L113.2 577.6L111.1 575.5Z" fill="none" stroke="#d03c40" stroke-width="1.1"/>
<path d="M116.8 573.4L118.9 575.5L116.8 577.6L114.7 575.5Z" fill="none" stroke="#d03c40" stroke-width="1.1"/>
<path d="M123.6 573.9L125.7 576.0L123.6 578.1L121.5 576.0Z" fill="none" stroke="#d03c40" stroke-width="1.1"/>
<path d="M128.8 574.5L130.9 576.6L128.8 578.7L126.7 576.6Z" fill="none" stroke="#d03c40" stroke-width="1.1"/>
<path d="M133.4 574.5L135.5 576.6L133.4 578.7L131.3 576.6Z" fill="none" stroke="#d03c40" stroke-width="1.1"/>
<path d="M139.2 576.5L141.3 578.6L139.2 580.7L137.1 578.6Z" fill="none" stroke="#d03c40" stroke-width="1.1"/>
<path d="M151.6 573.9L153.7 576.0L151.6 578.1L149.5 576.0Z" fill="none" stroke="#d03c40" stroke-width="1.1"/>
<path d="M154.7 577.1L156.8 579.2L154.7 581.3L152.6 579.2Z" fill="none" stroke="#d03c40" stroke-width="1.1"/>
<path d="M109.0 581.2L111.1 583.3L109.0 585.4L106.9 583.3Z" fill="none" stroke="#d03c40" stroke-width="1.1"/>
<path d="M116.3 581.2L118.4 583.3L116.3 585.4L114.2 583.3Z" fill="none" stroke="#d03c40" stroke-width="1.1"/>
<path d="M127.7 581.2L129.8 583.3L127.7 585.4L125.6 583.3Z" fill="none" stroke="#d03c40" stroke-width="1.1"/>
<path d="M135.5 580.7L137.6 582.8L135.5 584.9L133.4 582.8Z" fill="none" stroke="#d03c40" stroke-width="1.1"/>
<path d="M136.0 583.8L138.1 585.9L136.0 588.0L133.9 585.9Z" fill="none" stroke="#d03c40" stroke-width="1.1"/>
<path d="M127.7 583.8L129.8 585.9L127.7 588.0L125.6 585.9Z" fill="none" stroke="#d03c40" stroke-width="1.1"/>
<path d="M111.6 586.4L113.7 588.5L111.6 590.6L109.5 588.5Z" fill="none" stroke="#d03c40" stroke-width="1.1"/>
<path d="M144.3 586.4L146.4 588.5L144.3 590.6L142.2 588.5Z" fill="none" stroke="#d03c40" stroke-width="1.1"/>
<path d="M153.7 585.4L155.8 587.5L153.7 589.6L151.6 587.5Z" fill="none" stroke="#d03c40" stroke-width="1.1"/>
<path d="M159.9 586.9L162.0 589.0L159.9 591.1L157.8 589.0Z" fill="none" stroke="#d03c40" stroke-width="1.1"/>
<path d="M110.1 591.6L112.2 593.7L110.1 595.8L108.0 593.7Z" fill="none" stroke="#d03c40" stroke-width="1.1"/>
<path d="M116.3 591.6L118.4 593.7L116.3 595.8L114.2 593.7Z" fill="none" stroke="#d03c40" stroke-width="1.1"/>
<path d="M123.6 593.7L125.7 595.8L123.6 597.9L121.5 595.8Z" fill="none" stroke="#d03c40" stroke-width="1.1"/>
<path d="M126.7 590.6L128.8 592.7L126.7 594.8L124.6 592.7Z" fill="none" stroke="#d03c40" stroke-width="1.1"/>
<path d="M144.3 591.6L146.4 593.7L144.3 595.8L142.2 593.7Z" fill="none" stroke="#d03c40" stroke-width="1.1"/>
<path d="M144.3 594.7L146.4 596.8L144.3 598.9L142.2 596.8Z" fill="none" stroke="#d03c40" stroke-width="1.1"/>
<path d="M118.4 597.8L120.5 599.9L118.4 602.0L116.3 599.9Z" fill="none" stroke="#d03c40" stroke-width="1.1"/>
<path d="M145.4 598.3L147.5 600.4L145.4 602.5L143.3 600.4Z" fill="none" stroke="#d03c40" stroke-width="1.1"/>
<path d="M167.8 549.0L169.9 551.1L167.8 553.2L165.7 551.1Z" fill="none" stroke="#d03c40" stroke-width="1.1"/>
<path d="M166.2 552.1L168.3 554.2L166.2 556.3L164.1 554.2Z" fill="none" stroke="#d03c40" stroke-width="1.1"/>
<path d="M164.2 555.2L166.3 557.3L164.2 559.4L162.1 557.3Z" fill="none" stroke="#d03c40" stroke-width="1.1"/>
<path d="M163.1 558.9L165.2 561.0L163.1 563.1L161.0 561.0Z" fill="none" stroke="#d03c40" stroke-width="1.1"/>
<path d="M174.5 551.6L176.6 553.7L174.5 555.8L172.4 553.7Z" fill="none" stroke="#d03c40" stroke-width="1.1"/>
<path d="M174.0 560.4L176.1 562.5L174.0 564.6L171.9 562.5Z" fill="none" stroke="#d03c40" stroke-width="1.1"/>
<path d="M179.7 558.4L181.8 560.5L179.7 562.6L177.6 560.5Z" fill="none" stroke="#d03c40" stroke-width="1.1"/>
<path d="M186.5 556.3L188.6 558.4L186.5 560.5L184.4 558.4Z" fill="none" stroke="#d03c40" stroke-width="1.1"/>
<path d="M191.2 554.7L193.3 556.8L191.2 558.9L189.1 556.8Z" fill="none" stroke="#d03c40" stroke-width="1.1"/>
<path d="M192.2 550.1L194.3 552.2L192.2 554.3L190.1 552.2Z" fill="none" stroke="#d03c40" stroke-width="1.1"/>
<path d="M199.5 550.1L201.6 552.2L199.5 554.3L197.4 552.2Z" fill="none" stroke="#d03c40" stroke-width="1.1"/>
<path d="M190.1 561.5L192.2 563.6L190.1 565.7L188.0 563.6Z" fill="none" stroke="#d03c40" stroke-width="1.1"/>
<path d="M206.2 556.3L208.3 558.4L206.2 560.5L204.1 558.4Z" fill="none" stroke="#d03c40" stroke-width="1.1"/>
<path d="M210.4 556.3L212.5 558.4L210.4 560.5L208.3 558.4Z" fill="none" stroke="#d03c40" stroke-width="1.1"/>
<path d="M204.1 561.5L206.2 563.6L204.1 565.7L202.0 563.6Z" fill="none" stroke="#d03c40" stroke-width="1.1"/>
<path d="M208.8 563.6L210.9 565.7L208.8 567.8L206.7 565.7Z" fill="none" stroke="#d03c40" stroke-width="1.1"/>
<path d="M213.0 562.5L215.1 564.6L213.0 566.7L210.9 564.6Z" fill="none" stroke="#d03c40" stroke-width="1.1"/>
<path d="M166.7 563.6L168.8 565.7L166.7 567.8L164.6 565.7Z" fill="none" stroke="#d03c40" stroke-width="1.1"/>
<path d="M165.7 566.7L167.8 568.8L165.7 570.9L163.6 568.8Z" fill="none" stroke="#d03c40" stroke-width="1.1"/>
<path d="M163.1 567.7L165.2 569.8L163.1 571.9L161.0 569.8Z" fill="none" stroke="#d03c40" stroke-width="1.1"/>
<path d="M164.2 571.9L166.3 574.0L164.2 576.1L162.1 574.0Z" fill="none" stroke="#d03c40" stroke-width="1.1"/>
<path d="M178.2 564.6L180.3 566.7L178.2 568.8L176.1 566.7Z" fill="none" stroke="#d03c40" stroke-width="1.1"/>
<path d="M174.5 569.3L176.6 571.4L174.5 573.5L172.4 571.4Z" fill="none" stroke="#d03c40" stroke-width="1.1"/>
<path d="M173.5 573.4L175.6 575.5L173.5 577.6L171.4 575.5Z" fill="none" stroke="#d03c40" stroke-width="1.1"/>
<path d="M183.9 569.8L186.0 571.9L183.9 574.0L181.8 571.9Z" fill="none" stroke="#d03c40" stroke-width="1.1"/>
<path d="M184.9 573.4L187.0 575.5L184.9 577.6L182.8 575.5Z" fill="none" stroke="#d03c40" stroke-width="1.1"/>
<path d="M198.9 571.9L201.0 574.0L198.9 576.1L196.8 574.0Z" fill="none" stroke="#d03c40" stroke-width="1.1"/>
<path d="M206.7 570.3L208.8 572.4L206.7 574.5L204.6 572.4Z" fill="none" stroke="#d03c40" stroke-width="1.1"/>
<path d="M196.9 577.6L199.0 579.7L196.9 581.8L194.8 579.7Z" fill="none" stroke="#d03c40" stroke-width="1.1"/>
<path d="M195.3 582.2L197.4 584.3L195.3 586.4L193.2 584.3Z" fill="none" stroke="#d03c40" stroke-width="1.1"/>
<path d="M165.7 579.1L167.8 581.2L165.7 583.3L163.6 581.2Z" fill="none" stroke="#d03c40" stroke-width="1.1"/>
<path d="M173.5 579.1L175.6 581.2L173.5 583.3L171.4 581.2Z" fill="none" stroke="#d03c40" stroke-width="1.1"/>
<path d="M176.6 580.2L178.7 582.3L176.6 584.4L174.5 582.3Z" fill="none" stroke="#d03c40" stroke-width="1.1"/>
<path d="M174.5 582.8L176.6 584.9L174.5 587.0L172.4 584.9Z" fill="none" stroke="#d03c40" stroke-width="1.1"/>
<path d="M174.5 586.4L176.6 588.5L174.5 590.6L172.4 588.5Z" fill="none" stroke="#d03c40" stroke-width="1.1"/>
<path d="M184.9 586.4L187.0 588.5L184.9 590.6L182.8 588.5Z" fill="none" stroke="#d03c40" stroke-width="1.1"/>
<path d="M194.3 589.5L196.4 591.6L194.3 593.7L192.2 591.6Z" fill="none" stroke="#d03c40" stroke-width="1.1"/>
<path d="M196.9 592.1L199.0 594.2L196.9 596.3L194.8 594.2Z" fill="none" stroke="#d03c40" stroke-width="1.1"/>
<path d="M164.7 593.7L166.8 595.8L164.7 597.9L162.6 595.8Z" fill="none" stroke="#d03c40" stroke-width="1.1"/>
<path d="M212.4 595.2L214.5 597.3L212.4 599.4L210.3 597.3Z" fill="none" stroke="#d03c40" stroke-width="1.1"/>
<path d="M213.0 589.5L215.1 591.6L213.0 593.7L210.9 591.6Z" fill="none" stroke="#d03c40" stroke-width="1.1"/>
<path d="M213.3 564.6L215.4 566.7L213.3 568.8L211.2 566.7Z" fill="none" stroke="#d03c40" stroke-width="1.1"/>
<path d="M225.8 551.6L227.9 553.7L225.8 555.8L223.7 553.7Z" fill="none" stroke="#d03c40" stroke-width="1.1"/>
<path d="M220.6 556.3L222.7 558.4L220.6 560.5L218.5 558.4Z" fill="none" stroke="#d03c40" stroke-width="1.1"/>
<path d="M225.3 556.3L227.4 558.4L225.3 560.5L223.2 558.4Z" fill="none" stroke="#d03c40" stroke-width="1.1"/>
<path d="M224.8 560.4L226.9 562.5L224.8 564.6L222.7 562.5Z" fill="none" stroke="#d03c40" stroke-width="1.1"/>
<path d="M249.3 563.5L251.4 565.6L249.3 567.7L247.2 565.6Z" fill="none" stroke="#d03c40" stroke-width="1.1"/>
<path d="M214.4 576.5L216.5 578.6L214.4 580.7L212.3 578.6Z" fill="none" stroke="#d03c40" stroke-width="1.1"/>
<path d="M227.9 579.1L230.0 581.2L227.9 583.3L225.8 581.2Z" fill="none" stroke="#d03c40" stroke-width="1.1"/>
<path d="M74.0 602.3L76.1 604.4L74.0 606.5L71.9 604.4Z" fill="none" stroke="#d03c40" stroke-width="1.1"/>
<path d="M83.0 600.9L85.1 603.0L83.0 605.1L80.9 603.0Z" fill="none" stroke="#d03c40" stroke-width="1.1"/>
<path d="M87.0 599.9L89.1 602.0L87.0 604.1L84.9 602.0Z" fill="none" stroke="#d03c40" stroke-width="1.1"/>
<path d="M90.0 600.9L92.1 603.0L90.0 605.1L87.9 603.0Z" fill="none" stroke="#d03c40" stroke-width="1.1"/>
<path d="M92.0 601.9L94.1 604.0L92.0 606.1L89.9 604.0Z" fill="none" stroke="#d03c40" stroke-width="1.1"/>
<path d="M87.0 606.9L89.1 609.0L87.0 611.1L84.9 609.0Z" fill="none" stroke="#d03c40" stroke-width="1.1"/>
<path d="M111.6 605.3L113.7 607.4L111.6 609.5L109.5 607.4Z" fill="none" stroke="#d03c40" stroke-width="1.1"/>
<path d="M120.0 608.3L122.1 610.4L120.0 612.5L117.9 610.4Z" fill="none" stroke="#d03c40" stroke-width="1.1"/>
<path d="M137.0 608.3L139.1 610.4L137.0 612.5L134.9 610.4Z" fill="none" stroke="#d03c40" stroke-width="1.1"/>
<path d="M149.0 599.9L151.1 602.0L149.0 604.1L146.9 602.0Z" fill="none" stroke="#d03c40" stroke-width="1.1"/>
<path d="M153.0 601.5L155.1 603.6L153.0 605.7L150.9 603.6Z" fill="none" stroke="#d03c40" stroke-width="1.1"/>
<path d="M203.6 602.3L205.7 604.4L203.6 606.5L201.5 604.4Z" fill="none" stroke="#d03c40" stroke-width="1.1"/>
<path d="M207.0 606.9L209.1 609.0L207.0 611.1L204.9 609.0Z" fill="none" stroke="#d03c40" stroke-width="1.1"/>
<circle cx="139.5" cy="484.5" r="1.65" fill="#1515c4"/>
<circle cx="98.6" cy="533.4" r="1.65" fill="#1515c4"/>
<circle cx="109.0" cy="529.2" r="1.65" fill="#1515c4"/>
<circle cx="109.0" cy="547.9" r="1.65" fill="#1515c4"/>
<circle cx="132.1" cy="512.1" r="1.65" fill="#1515c4"/>
<circle cx="114.4" cy="525.3" r="1.65" fill="#1515c4"/>
<circle cx="122.0" cy="527.7" r="1.65" fill="#1515c4"/>
<circle cx="132.1" cy="526.6" r="1.65" fill="#1515c4"/>
<circle cx="128.8" cy="532.1" r="1.65" fill="#1515c4"/>
<circle cx="149.5" cy="533.4" r="1.65" fill="#1515c4"/>
<circle cx="129.8" cy="544.0" r="1.65" fill="#1515c4"/>
<circle cx="159.4" cy="545.3" r="1.65" fill="#1515c4"/>
<circle cx="118.9" cy="547.9" r="1.65" fill="#1515c4"/>
<circle cx="174.3" cy="502.0" r="1.65" fill="#1515c4"/>
<circle cx="177.1" cy="520.7" r="1.65" fill="#1515c4"/>
<circle cx="206.9" cy="544.0" r="1.65" fill="#1515c4"/>
<circle cx="174.7" cy="546.9" r="1.65" fill="#1515c4"/>
<circle cx="84.0" cy="557.9" r="1.65" fill="#1515c4"/>
<circle cx="80.9" cy="564.1" r="1.65" fill="#1515c4"/>
<circle cx="93.9" cy="566.2" r="1.65" fill="#1515c4"/>
<circle cx="97.5" cy="581.2" r="1.65" fill="#1515c4"/>
<circle cx="93.4" cy="584.3" r="1.65" fill="#1515c4"/>
<circle cx="93.9" cy="596.0" r="1.65" fill="#1515c4"/>
<circle cx="97.0" cy="601.2" r="1.65" fill="#1515c4"/>
<circle cx="114.4" cy="551.1" r="1.65" fill="#1515c4"/>
<circle cx="147.0" cy="552.2" r="1.65" fill="#1515c4"/>
<circle cx="124.6" cy="561.0" r="1.65" fill="#1515c4"/>
<circle cx="136.0" cy="559.9" r="1.65" fill="#1515c4"/>
<circle cx="156.3" cy="564.1" r="1.65" fill="#1515c4"/>
<circle cx="134.5" cy="574.0" r="1.65" fill="#1515c4"/>
<circle cx="139.2" cy="572.9" r="1.65" fill="#1515c4"/>
<circle cx="118.9" cy="581.2" r="1.65" fill="#1515c4"/>
<circle cx="142.3" cy="582.8" r="1.65" fill="#1515c4"/>
<circle cx="146.4" cy="581.2" r="1.65" fill="#1515c4"/>
<circle cx="161.5" cy="581.2" r="1.65" fill="#1515c4"/>
<circle cx="129.3" cy="588.5" r="1.65" fill="#1515c4"/>
<circle cx="119.4" cy="590.1" r="1.65" fill="#1515c4"/>
<circle cx="154.2" cy="588.5" r="1.65" fill="#1515c4"/>
<circle cx="137.6" cy="592.9" r="1.65" fill="#1515c4"/>
<circle cx="134.5" cy="595.8" r="1.65" fill="#1515c4"/>
<circle cx="121.5" cy="594.2" r="1.65" fill="#1515c4"/>
<circle cx="149.5" cy="596.0" r="1.65" fill="#1515c4"/>
<circle cx="159.4" cy="595.8" r="1.65" fill="#1515c4"/>
<circle cx="202.1" cy="556.8" r="1.65" fill="#1515c4"/>
<circle cx="194.8" cy="561.0" r="1.65" fill="#1515c4"/>
<circle cx="180.2" cy="562.5" r="1.65" fill="#1515c4"/>
<circle cx="187.2" cy="564.1" r="1.65" fill="#1515c4"/>
<circle cx="162.6" cy="581.4" r="1.65" fill="#1515c4"/>
<circle cx="169.6" cy="581.4" r="1.65" fill="#1515c4"/>
<circle cx="179.7" cy="582.8" r="1.65" fill="#1515c4"/>
<circle cx="200.3" cy="585.9" r="1.65" fill="#1515c4"/>
<circle cx="200.0" cy="590.1" r="1.65" fill="#1515c4"/>
<circle cx="162.6" cy="588.7" r="1.65" fill="#1515c4"/>
<circle cx="167.3" cy="591.4" r="1.65" fill="#1515c4"/>
<circle cx="182.3" cy="593.2" r="1.65" fill="#1515c4"/>
<circle cx="213.0" cy="578.1" r="1.65" fill="#1515c4"/>
<circle cx="219.8" cy="569.8" r="1.65" fill="#1515c4"/>
<circle cx="234.9" cy="571.4" r="1.65" fill="#1515c4"/>
<circle cx="222.2" cy="578.3" r="1.65" fill="#1515c4"/>
<circle cx="98.0" cy="604.4" r="1.65" fill="#1515c4"/>
<circle cx="93.0" cy="610.4" r="1.65" fill="#1515c4"/>
<circle cx="99.6" cy="609.0" r="1.65" fill="#1515c4"/>
<circle cx="108.0" cy="610.4" r="1.65" fill="#1515c4"/>
<circle cx="117.6" cy="606.0" r="1.65" fill="#1515c4"/>
<path d="M109.6 672.3L111.7 674.4L109.6 676.5L107.5 674.4Z" fill="none" stroke="#d03c40" stroke-width="1.1"/>
<path d="M137.0 707.5L139.1 709.6L137.0 711.7L134.9 709.6Z" fill="none" stroke="#d03c40" stroke-width="1.1"/>
<path d="M166.8 709.5L168.9 711.6L166.8 713.7L164.7 711.6Z" fill="none" stroke="#d03c40" stroke-width="1.1"/>
<path d="M200.8 707.6L202.9 709.7L200.8 711.8L198.7 709.7Z" fill="none" stroke="#d03c40" stroke-width="1.1"/>
<path d="M147.3 722.4L149.4 724.5L147.3 726.6L145.2 724.5Z" fill="none" stroke="#d03c40" stroke-width="1.1"/>
<path d="M154.7 723.8L156.8 725.9L154.7 728.0L152.6 725.9Z" fill="none" stroke="#d03c40" stroke-width="1.1"/>
<path d="M202.9 724.9L205.0 727.0L202.9 729.1L200.8 727.0Z" fill="none" stroke="#d03c40" stroke-width="1.1"/>
<path d="M173.6 735.1L175.7 737.2L173.6 739.3L171.5 737.2Z" fill="none" stroke="#d03c40" stroke-width="1.1"/>
<path d="M192.5 736.6L194.6 738.7L192.5 740.8L190.4 738.7Z" fill="none" stroke="#d03c40" stroke-width="1.1"/>
<path d="M91.3 751.0L93.4 753.1L91.3 755.2L89.2 753.1Z" fill="none" stroke="#d03c40" stroke-width="1.1"/>
<path d="M91.3 756.2L93.4 758.3L91.3 760.4L89.2 758.3Z" fill="none" stroke="#d03c40" stroke-width="1.1"/>
<path d="M99.1 755.9L101.2 758.0L99.1 760.1L97.0 758.0Z" fill="none" stroke="#d03c40" stroke-width="1.1"/>
<path d="M102.9 751.0L105.0 753.1L102.9 755.2L100.8 753.1Z" fill="none" stroke="#d03c40" stroke-width="1.1"/>
<path d="M107.4 754.6L109.5 756.7L107.4 758.8L105.3 756.7Z" fill="none" stroke="#d03c40" stroke-width="1.1"/>
<path d="M126.7 718.8L128.8 720.9L126.7 723.0L124.6 720.9Z" fill="none" stroke="#d03c40" stroke-width="1.1"/>
<path d="M124.6 732.0L126.7 734.1L124.6 736.2L122.5 734.1Z" fill="none" stroke="#d03c40" stroke-width="1.1"/>
<path d="M117.3 741.3L119.4 743.4L117.3 745.5L115.2 743.4Z" fill="none" stroke="#d03c40" stroke-width="1.1"/>
<path d="M143.8 755.9L145.9 758.0L143.8 760.1L141.7 758.0Z" fill="none" stroke="#d03c40" stroke-width="1.1"/>
<path d="M149.0 760.3L151.1 762.4L149.0 764.5L146.9 762.4Z" fill="none" stroke="#d03c40" stroke-width="1.1"/>
<path d="M180.2 743.2L182.3 745.3L180.2 747.4L178.1 745.3Z" fill="none" stroke="#d03c40" stroke-width="1.1"/>
<path d="M167.8 744.8L169.9 746.9L167.8 749.0L165.7 746.9Z" fill="none" stroke="#d03c40" stroke-width="1.1"/>
<path d="M166.2 747.9L168.3 750.0L166.2 752.1L164.1 750.0Z" fill="none" stroke="#d03c40" stroke-width="1.1"/>
<path d="M205.2 752.6L207.3 754.7L205.2 756.8L203.1 754.7Z" fill="none" stroke="#d03c40" stroke-width="1.1"/>
<path d="M183.4 755.9L185.5 758.0L183.4 760.1L181.3 758.0Z" fill="none" stroke="#d03c40" stroke-width="1.1"/>
<path d="M165.7 759.0L167.8 761.1L165.7 763.2L163.6 761.1Z" fill="none" stroke="#d03c40" stroke-width="1.1"/>
<path d="M202.1 758.8L204.2 760.9L202.1 763.0L200.0 760.9Z" fill="none" stroke="#d03c40" stroke-width="1.1"/>
<path d="M222.2 751.4L224.3 753.5L222.2 755.6L220.1 753.5Z" fill="none" stroke="#d03c40" stroke-width="1.1"/>
<path d="M225.8 749.6L227.9 751.7L225.8 753.8L223.7 751.7Z" fill="none" stroke="#d03c40" stroke-width="1.1"/>
<path d="M94.6 764.1L96.7 766.2L94.6 768.3L92.5 766.2Z" fill="none" stroke="#d03c40" stroke-width="1.1"/>
<path d="M97.5 768.7L99.6 770.8L97.5 772.9L95.4 770.8Z" fill="none" stroke="#d03c40" stroke-width="1.1"/>
<path d="M106.9 767.2L109.0 769.3L106.9 771.4L104.8 769.3Z" fill="none" stroke="#d03c40" stroke-width="1.1"/>
<path d="M109.0 763.0L111.1 765.1L109.0 767.2L106.9 765.1Z" fill="none" stroke="#d03c40" stroke-width="1.1"/>
<path d="M105.8 773.4L107.9 775.5L105.8 777.6L103.7 775.5Z" fill="none" stroke="#d03c40" stroke-width="1.1"/>
<path d="M88.2 778.6L90.3 780.7L88.2 782.8L86.1 780.7Z" fill="none" stroke="#d03c40" stroke-width="1.1"/>
<path d="M92.3 776.5L94.4 778.6L92.3 780.7L90.2 778.6Z" fill="none" stroke="#d03c40" stroke-width="1.1"/>
<path d="M93.9 779.1L96.0 781.2L93.9 783.3L91.8 781.2Z" fill="none" stroke="#d03c40" stroke-width="1.1"/>
<path d="M80.4 781.7L82.5 783.8L80.4 785.9L78.3 783.8Z" fill="none" stroke="#d03c40" stroke-width="1.1"/>
<path d="M79.4 783.8L81.5 785.9L79.4 788.0L77.3 785.9Z" fill="none" stroke="#d03c40" stroke-width="1.1"/>
<path d="M82.5 786.4L84.6 788.5L82.5 790.6L80.4 788.5Z" fill="none" stroke="#d03c40" stroke-width="1.1"/>
<path d="M81.4 787.9L83.5 790.0L81.4 792.1L79.3 790.0Z" fill="none" stroke="#d03c40" stroke-width="1.1"/>
<path d="M106.9 783.3L109.0 785.4L106.9 787.5L104.8 785.4Z" fill="none" stroke="#d03c40" stroke-width="1.1"/>
<path d="M92.9 786.4L95.0 788.5L92.9 790.6L90.8 788.5Z" fill="none" stroke="#d03c40" stroke-width="1.1"/>
<path d="M106.4 787.9L108.5 790.0L106.4 792.1L104.3 790.0Z" fill="none" stroke="#d03c40" stroke-width="1.1"/>
<path d="M83.0 792.9L85.1 795.0L83.0 797.1L80.9 795.0Z" fill="none" stroke="#d03c40" stroke-width="1.1"/>
<path d="M89.2 793.1L91.3 795.2L89.2 797.3L87.1 795.2Z" fill="none" stroke="#d03c40" stroke-width="1.1"/>
<path d="M91.8 795.2L93.9 797.3L91.8 799.4L89.7 797.3Z" fill="none" stroke="#d03c40" stroke-width="1.1"/>
<path d="M96.0 793.1L98.1 795.2L96.0 797.3L93.9 795.2Z" fill="none" stroke="#d03c40" stroke-width="1.1"/>
<path d="M100.7 791.1L102.8 793.2L100.7 795.3L98.6 793.2Z" fill="none" stroke="#d03c40" stroke-width="1.1"/>
<path d="M106.9 792.1L109.0 794.2L106.9 796.3L104.8 794.2Z" fill="none" stroke="#d03c40" stroke-width="1.1"/>
<path d="M104.8 797.8L106.9 799.9L104.8 802.0L102.7 799.9Z" fill="none" stroke="#d03c40" stroke-width="1.1"/>
<path d="M80.9 798.8L83.0 800.9L80.9 803.0L78.8 800.9Z" fill="none" stroke="#d03c40" stroke-width="1.1"/>
<path d="M77.8 799.9L79.9 802.0L77.8 804.1L75.7 802.0Z" fill="none" stroke="#d03c40" stroke-width="1.1"/>
<path d="M87.2 798.3L89.3 800.4L87.2 802.5L85.1 800.4Z" fill="none" stroke="#d03c40" stroke-width="1.1"/>
<path d="M100.7 800.4L102.8 802.5L100.7 804.6L98.6 802.5Z" fill="none" stroke="#d03c40" stroke-width="1.1"/>
<path d="M73.1 805.6L75.2 807.7L73.1 809.8L71.0 807.7Z" fill="none" stroke="#d03c40" stroke-width="1.1"/>
<path d="M76.2 805.6L78.3 807.7L76.2 809.8L74.1 807.7Z" fill="none" stroke="#d03c40" stroke-width="1.1"/>
<path d="M75.2 808.2L77.3 810.3L75.2 812.4L73.1 810.3Z" fill="none" stroke="#d03c40" stroke-width="1.1"/>
<path d="M78.3 807.7L80.4 809.8L78.3 811.9L76.2 809.8Z" fill="none" stroke="#d03c40" stroke-width="1.1"/>
<path d="M83.5 806.1L85.6 808.2L83.5 810.3L81.4 808.2Z" fill="none" stroke="#d03c40" stroke-width="1.1"/>
<path d="M86.1 807.7L88.2 809.8L86.1 811.9L84.0 809.8Z" fill="none" stroke="#d03c40" stroke-width="1.1"/>
<path d="M83.5 809.7L85.6 811.8L83.5 813.9L81.4 811.8Z" fill="none" stroke="#d03c40" stroke-width="1.1"/>
<path d="M89.2 808.7L91.3 810.8L89.2 812.9L87.1 810.8Z" fill="none" stroke="#d03c40" stroke-width="1.1"/>
<path d="M100.7 805.6L102.8 807.7L100.7 809.8L98.6 807.7Z" fill="none" stroke="#d03c40" stroke-width="1.1"/>
<path d="M103.8 804.6L105.9 806.7L103.8 808.8L101.7 806.7Z" fill="none" stroke="#d03c40" stroke-width="1.1"/>
<path d="M106.9 808.7L109.0 810.8L106.9 812.9L104.8 810.8Z" fill="none" stroke="#d03c40" stroke-width="1.1"/>
<path d="M72.6 810.8L74.7 812.9L72.6 815.0L70.5 812.9Z" fill="none" stroke="#d03c40" stroke-width="1.1"/>
<path d="M78.8 811.8L80.9 813.9L78.8 816.0L76.7 813.9Z" fill="none" stroke="#d03c40" stroke-width="1.1"/>
<path d="M87.2 811.8L89.3 813.9L87.2 816.0L85.1 813.9Z" fill="none" stroke="#d03c40" stroke-width="1.1"/>
<path d="M90.3 812.3L92.4 814.4L90.3 816.5L88.2 814.4Z" fill="none" stroke="#d03c40" stroke-width="1.1"/>
<path d="M101.7 811.8L103.8 813.9L101.7 816.0L99.6 813.9Z" fill="none" stroke="#d03c40" stroke-width="1.1"/>
<path d="M107.9 812.3L110.0 814.4L107.9 816.5L105.8 814.4Z" fill="none" stroke="#d03c40" stroke-width="1.1"/>
<path d="M95.5 802.5L97.6 804.6L95.5 806.7L93.4 804.6Z" fill="none" stroke="#d03c40" stroke-width="1.1"/>
<path d="M98.6 809.2L100.7 811.3L98.6 813.4L96.5 811.3Z" fill="none" stroke="#d03c40" stroke-width="1.1"/>
<path d="M75.0 802.9L77.1 805.0L75.0 807.1L72.9 805.0Z" fill="none" stroke="#d03c40" stroke-width="1.1"/>
<path d="M80.0 803.9L82.1 806.0L80.0 808.1L77.9 806.0Z" fill="none" stroke="#d03c40" stroke-width="1.1"/>
<path d="M86.0 801.9L88.1 804.0L86.0 806.1L83.9 804.0Z" fill="none" stroke="#d03c40" stroke-width="1.1"/>
<path d="M92.0 799.9L94.1 802.0L92.0 804.1L89.9 802.0Z" fill="none" stroke="#d03c40" stroke-width="1.1"/>
<path d="M97.0 796.9L99.1 799.0L97.0 801.1L94.9 799.0Z" fill="none" stroke="#d03c40" stroke-width="1.1"/>
<path d="M73.0 814.4L75.1 816.5L73.0 818.6L70.9 816.5Z" fill="none" stroke="#d03c40" stroke-width="1.1"/>
<path d="M79.0 815.9L81.1 818.0L79.0 820.1L76.9 818.0Z" fill="none" stroke="#d03c40" stroke-width="1.1"/>
<path d="M74.0 805.9L76.1 808.0L74.0 810.1L71.9 808.0Z" fill="none" stroke="#d03c40" stroke-width="1.1"/>
<path d="M76.5 809.4L78.6 811.5L76.5 813.6L74.4 811.5Z" fill="none" stroke="#d03c40" stroke-width="1.1"/>
<path d="M78.0 803.9L80.1 806.0L78.0 808.1L75.9 806.0Z" fill="none" stroke="#d03c40" stroke-width="1.1"/>
<path d="M80.5 807.4L82.6 809.5L80.5 811.6L78.4 809.5Z" fill="none" stroke="#d03c40" stroke-width="1.1"/>
<path d="M82.0 810.4L84.1 812.5L82.0 814.6L79.9 812.5Z" fill="none" stroke="#d03c40" stroke-width="1.1"/>
<path d="M84.5 804.4L86.6 806.5L84.5 808.6L82.4 806.5Z" fill="none" stroke="#d03c40" stroke-width="1.1"/>
<path d="M86.0 813.4L88.1 815.5L86.0 817.6L83.9 815.5Z" fill="none" stroke="#d03c40" stroke-width="1.1"/>
<path d="M88.0 808.9L90.1 811.0L88.0 813.1L85.9 811.0Z" fill="none" stroke="#d03c40" stroke-width="1.1"/>
<path d="M77.0 812.9L79.1 815.0L77.0 817.1L74.9 815.0Z" fill="none" stroke="#d03c40" stroke-width="1.1"/>
<path d="M81.0 814.9L83.1 817.0L81.0 819.1L78.9 817.0Z" fill="none" stroke="#d03c40" stroke-width="1.1"/>
<path d="M85.0 817.4L87.1 819.5L85.0 821.6L82.9 819.5Z" fill="none" stroke="#d03c40" stroke-width="1.1"/>
<path d="M89.0 804.4L91.1 806.5L89.0 808.6L86.9 806.5Z" fill="none" stroke="#d03c40" stroke-width="1.1"/>
<path d="M73.0 810.9L75.1 813.0L73.0 815.1L70.9 813.0Z" fill="none" stroke="#d03c40" stroke-width="1.1"/>
<path d="M90.0 814.9L92.1 817.0L90.0 819.1L87.9 817.0Z" fill="none" stroke="#d03c40" stroke-width="1.1"/>
<path d="M155.8 766.1L157.9 768.2L155.8 770.3L153.7 768.2Z" fill="none" stroke="#d03c40" stroke-width="1.1"/>
<path d="M123.1 770.3L125.2 772.4L123.1 774.5L121.0 772.4Z" fill="none" stroke="#d03c40" stroke-width="1.1"/>
<path d="M138.6 768.7L140.7 770.8L138.6 772.9L136.5 770.8Z" fill="none" stroke="#d03c40" stroke-width="1.1"/>
<path d="M144.9 770.3L147.0 772.4L144.9 774.5L142.8 772.4Z" fill="none" stroke="#d03c40" stroke-width="1.1"/>
<path d="M133.4 773.4L135.5 775.5L133.4 777.6L131.3 775.5Z" fill="none" stroke="#d03c40" stroke-width="1.1"/>
<path d="M118.4 776.5L120.5 778.6L118.4 780.7L116.3 778.6Z" fill="none" stroke="#d03c40" stroke-width="1.1"/>
<path d="M120.5 778.1L122.6 780.2L120.5 782.3L118.4 780.2Z" fill="none" stroke="#d03c40" stroke-width="1.1"/>
<path d="M129.8 777.0L131.9 779.1L129.8 781.2L127.7 779.1Z" fill="none" stroke="#d03c40" stroke-width="1.1"/>
<path d="M137.6 778.1L139.7 780.2L137.6 782.3L135.5 780.2Z" fill="none" stroke="#d03c40" stroke-width="1.1"/>
<path d="M139.2 780.7L141.3 782.8L139.2 784.9L137.1 782.8Z" fill="none" stroke="#d03c40" stroke-width="1.1"/>
<path d="M148.5 778.6L150.6 780.7L148.5 782.8L146.4 780.7Z" fill="none" stroke="#d03c40" stroke-width="1.1"/>
<path d="M149.0 780.7L151.1 782.8L149.0 784.9L146.9 782.8Z" fill="none" stroke="#d03c40" stroke-width="1.1"/>
<path d="M156.3 783.6L158.4 785.7L156.3 787.8L154.2 785.7Z" fill="none" stroke="#d03c40" stroke-width="1.1"/>
<path d="M158.9 777.0L161.0 779.1L158.9 781.2L156.8 779.1Z" fill="none" stroke="#d03c40" stroke-width="1.1"/>
<path d="M116.3 780.7L118.4 782.8L116.3 784.9L114.2 782.8Z" fill="none" stroke="#d03c40" stroke-width="1.1"/>
<path d="M126.2 781.7L128.3 783.8L126.2 785.9L124.1 783.8Z" fill="none" stroke="#d03c40" stroke-width="1.1"/>
<path d="M135.0 782.7L137.1 784.8L135.0 786.9L132.9 784.8Z" fill="none" stroke="#d03c40" stroke-width="1.1"/>
<path d="M113.2 784.8L115.3 786.9L113.2 789.0L111.1 786.9Z" fill="none" stroke="#d03c40" stroke-width="1.1"/>
<path d="M118.4 786.4L120.5 788.5L118.4 790.6L116.3 788.5Z" fill="none" stroke="#d03c40" stroke-width="1.1"/>
<path d="M125.1 785.9L127.2 788.0L125.1 790.1L123.0 788.0Z" fill="none" stroke="#d03c40" stroke-width="1.1"/>
<path d="M135.0 785.3L137.1 787.4L135.0 789.5L132.9 787.4Z" fill="none" stroke="#d03c40" stroke-width="1.1"/>
<path d="M155.8 787.4L157.9 789.5L155.8 791.6L153.7 789.5Z" fill="none" stroke="#d03c40" stroke-width="1.1"/>
<path d="M160.4 784.8L162.5 786.9L160.4 789.0L158.3 786.9Z" fill="none" stroke="#d03c40" stroke-width="1.1"/>
<path d="M112.2 787.9L114.3 790.0L112.2 792.1L110.1 790.0Z" fill="none" stroke="#d03c40" stroke-width="1.1"/>
<path d="M120.5 788.5L122.6 790.6L120.5 792.7L118.4 790.6Z" fill="none" stroke="#d03c40" stroke-width="1.1"/>
<path d="M126.2 787.9L128.3 790.0L126.2 792.1L124.1 790.0Z" fill="none" stroke="#d03c40" stroke-width="1.1"/>
<path d="M111.1 792.1L113.2 794.2L111.1 796.3L109.0 794.2Z" fill="none" stroke="#d03c40" stroke-width="1.1"/>
<path d="M118.4 791.6L120.5 793.7L118.4 795.8L116.3 793.7Z" fill="none" stroke="#d03c40" stroke-width="1.1"/>
<path d="M123.6 791.1L125.7 793.2L123.6 795.3L121.5 793.2Z" fill="none" stroke="#d03c40" stroke-width="1.1"/>
<path d="M127.7 793.1L129.8 795.2L127.7 797.3L125.6 795.2Z" fill="none" stroke="#d03c40" stroke-width="1.1"/>
<path d="M136.6 794.2L138.7 796.3L136.6 798.4L134.5 796.3Z" fill="none" stroke="#d03c40" stroke-width="1.1"/>
<path d="M142.3 791.1L144.4 793.2L142.3 795.3L140.2 793.2Z" fill="none" stroke="#d03c40" stroke-width="1.1"/>
<path d="M152.7 793.1L154.8 795.2L152.7 797.3L150.6 795.2Z" fill="none" stroke="#d03c40" stroke-width="1.1"/>
<path d="M156.8 795.7L158.9 797.8L156.8 799.9L154.7 797.8Z" fill="none" stroke="#d03c40" stroke-width="1.1"/>
<path d="M113.2 796.8L115.3 798.9L113.2 801.0L111.1 798.9Z" fill="none" stroke="#d03c40" stroke-width="1.1"/>
<path d="M119.9 795.7L122.0 797.8L119.9 799.9L117.8 797.8Z" fill="none" stroke="#d03c40" stroke-width="1.1"/>
<path d="M126.7 796.2L128.8 798.3L126.7 800.4L124.6 798.3Z" fill="none" stroke="#d03c40" stroke-width="1.1"/>
<path d="M134.0 797.3L136.1 799.4L134.0 801.5L131.9 799.4Z" fill="none" stroke="#d03c40" stroke-width="1.1"/>
<path d="M141.2 795.7L143.3 797.8L141.2 799.9L139.1 797.8Z" fill="none" stroke="#d03c40" stroke-width="1.1"/>
<path d="M144.3 797.8L146.4 799.9L144.3 802.0L142.2 799.9Z" fill="none" stroke="#d03c40" stroke-width="1.1"/>
<path d="M150.6 798.8L152.7 800.9L150.6 803.0L148.5 800.9Z" fill="none" stroke="#d03c40" stroke-width="1.1"/>
<path d="M153.7 797.3L155.8 799.4L153.7 801.5L151.6 799.4Z" fill="none" stroke="#d03c40" stroke-width="1.1"/>
<path d="M159.9 799.4L162.0 801.5L159.9 803.6L157.8 801.5Z" fill="none" stroke="#d03c40" stroke-width="1.1"/>
<path d="M110.6 802.5L112.7 804.6L110.6 806.7L108.5 804.6Z" fill="none" stroke="#d03c40" stroke-width="1.1"/>
<path d="M115.8 804.0L117.9 806.1L115.8 808.2L113.7 806.1Z" fill="none" stroke="#d03c40" stroke-width="1.1"/>
<path d="M121.5 803.5L123.6 805.6L121.5 807.7L119.4 805.6Z" fill="none" stroke="#d03c40" stroke-width="1.1"/>
<path d="M124.6 805.1L126.7 807.2L124.6 809.3L122.5 807.2Z" fill="none" stroke="#d03c40" stroke-width="1.1"/>
<path d="M139.2 802.5L141.3 804.6L139.2 806.7L137.1 804.6Z" fill="none" stroke="#d03c40" stroke-width="1.1"/>
<path d="M144.3 803.5L146.4 805.6L144.3 807.7L142.2 805.6Z" fill="none" stroke="#d03c40" stroke-width="1.1"/>
<path d="M152.7 804.6L154.8 806.7L152.7 808.8L150.6 806.7Z" fill="none" stroke="#d03c40" stroke-width="1.1"/>
<path d="M153.7 807.7L155.8 809.8L153.7 811.9L151.6 809.8Z" fill="none" stroke="#d03c40" stroke-width="1.1"/>
<path d="M111.1 807.7L113.2 809.8L111.1 811.9L109.0 809.8Z" fill="none" stroke="#d03c40" stroke-width="1.1"/>
<path d="M123.1 807.7L125.2 809.8L123.1 811.9L121.0 809.8Z" fill="none" stroke="#d03c40" stroke-width="1.1"/>
<path d="M142.3 807.7L144.4 809.8L142.3 811.9L140.2 809.8Z" fill="none" stroke="#d03c40" stroke-width="1.1"/>
<path d="M160.4 806.6L162.5 808.7L160.4 810.8L158.3 808.7Z" fill="none" stroke="#d03c40" stroke-width="1.1"/>
<path d="M109.0 810.8L111.1 812.9L109.0 815.0L106.9 812.9Z" fill="none" stroke="#d03c40" stroke-width="1.1"/>
<path d="M120.5 811.8L122.6 813.9L120.5 816.0L118.4 813.9Z" fill="none" stroke="#d03c40" stroke-width="1.1"/>
<path d="M134.0 810.8L136.1 812.9L134.0 815.0L131.9 812.9Z" fill="none" stroke="#d03c40" stroke-width="1.1"/>
<path d="M139.2 811.8L141.3 813.9L139.2 816.0L137.1 813.9Z" fill="none" stroke="#d03c40" stroke-width="1.1"/>
<path d="M151.6 811.3L153.7 813.4L151.6 815.5L149.5 813.4Z" fill="none" stroke="#d03c40" stroke-width="1.1"/>
<path d="M156.8 812.3L158.9 814.4L156.8 816.5L154.7 814.4Z" fill="none" stroke="#d03c40" stroke-width="1.1"/>
<path d="M193.2 764.1L195.3 766.2L193.2 768.3L191.1 766.2Z" fill="none" stroke="#d03c40" stroke-width="1.1"/>
<path d="M163.1 767.2L165.2 769.3L163.1 771.4L161.0 769.3Z" fill="none" stroke="#d03c40" stroke-width="1.1"/>
<path d="M163.6 771.8L165.7 773.9L163.6 776.0L161.5 773.9Z" fill="none" stroke="#d03c40" stroke-width="1.1"/>
<path d="M173.5 770.3L175.6 772.4L173.5 774.5L171.4 772.4Z" fill="none" stroke="#d03c40" stroke-width="1.1"/>
<path d="M177.7 767.2L179.8 769.3L177.7 771.4L175.6 769.3Z" fill="none" stroke="#d03c40" stroke-width="1.1"/>
<path d="M203.6 773.4L205.7 775.5L203.6 777.6L201.5 775.5Z" fill="none" stroke="#d03c40" stroke-width="1.1"/>
<path d="M186.5 776.5L188.6 778.6L186.5 780.7L184.4 778.6Z" fill="none" stroke="#d03c40" stroke-width="1.1"/>
<path d="M189.6 776.5L191.7 778.6L189.6 780.7L187.5 778.6Z" fill="none" stroke="#d03c40" stroke-width="1.1"/>
<path d="M196.3 778.6L198.4 780.7L196.3 782.8L194.2 780.7Z" fill="none" stroke="#d03c40" stroke-width="1.1"/>
<path d="M211.9 781.7L214.0 783.8L211.9 785.9L209.8 783.8Z" fill="none" stroke="#d03c40" stroke-width="1.1"/>
<path d="M162.1 784.8L164.2 786.9L162.1 789.0L160.0 786.9Z" fill="none" stroke="#d03c40" stroke-width="1.1"/>
<path d="M173.5 783.3L175.6 785.4L173.5 787.5L171.4 785.4Z" fill="none" stroke="#d03c40" stroke-width="1.1"/>
<path d="M174.0 786.4L176.1 788.5L174.0 790.6L171.9 788.5Z" fill="none" stroke="#d03c40" stroke-width="1.1"/>
<path d="M176.6 789.5L178.7 791.6L176.6 793.7L174.5 791.6Z" fill="none" stroke="#d03c40" stroke-width="1.1"/>
<path d="M173.5 789.5L175.6 791.6L173.5 793.7L171.4 791.6Z" fill="none" stroke="#d03c40" stroke-width="1.1"/>
<path d="M183.9 784.8L186.0 786.9L183.9 789.0L181.8 786.9Z" fill="none" stroke="#d03c40" stroke-width="1.1"/>
<path d="M191.7 784.8L193.8 786.9L191.7 789.0L189.6 786.9Z" fill="none" stroke="#d03c40" stroke-width="1.1"/>
<path d="M196.3 784.8L198.4 786.9L196.3 789.0L194.2 786.9Z" fill="none" stroke="#d03c40" stroke-width="1.1"/>
<path d="M196.9 786.9L199.0 789.0L196.9 791.1L194.8 789.0Z" fill="none" stroke="#d03c40" stroke-width="1.1"/>
<path d="M203.6 786.4L205.7 788.5L203.6 790.6L201.5 788.5Z" fill="none" stroke="#d03c40" stroke-width="1.1"/>
<path d="M210.9 790.0L213.0 792.1L210.9 794.2L208.8 792.1Z" fill="none" stroke="#d03c40" stroke-width="1.1"/>
<path d="M166.7 790.0L168.8 792.1L166.7 794.2L164.6 792.1Z" fill="none" stroke="#d03c40" stroke-width="1.1"/>
<path d="M170.4 796.2L172.5 798.3L170.4 800.4L168.3 798.3Z" fill="none" stroke="#d03c40" stroke-width="1.1"/>
<path d="M183.4 792.6L185.5 794.7L183.4 796.8L181.3 794.7Z" fill="none" stroke="#d03c40" stroke-width="1.1"/>
<path d="M183.9 795.2L186.0 797.3L183.9 799.4L181.8 797.3Z" fill="none" stroke="#d03c40" stroke-width="1.1"/>
<path d="M190.1 792.6L192.2 794.7L190.1 796.8L188.0 794.7Z" fill="none" stroke="#d03c40" stroke-width="1.1"/>
<path d="M191.7 796.2L193.8 798.3L191.7 800.4L189.6 798.3Z" fill="none" stroke="#d03c40" stroke-width="1.1"/>
<path d="M184.4 797.8L186.5 799.9L184.4 802.0L182.3 799.9Z" fill="none" stroke="#d03c40" stroke-width="1.1"/>
<path d="M161.6 799.4L163.7 801.5L161.6 803.6L159.5 801.5Z" fill="none" stroke="#d03c40" stroke-width="1.1"/>
<path d="M205.7 797.8L207.8 799.9L205.7 802.0L203.6 799.9Z" fill="none" stroke="#d03c40" stroke-width="1.1"/>
<path d="M211.9 799.4L214.0 801.5L211.9 803.6L209.8 801.5Z" fill="none" stroke="#d03c40" stroke-width="1.1"/>
<path d="M164.7 805.6L166.8 807.7L164.7 809.8L162.6 807.7Z" fill="none" stroke="#d03c40" stroke-width="1.1"/>
<path d="M174.0 805.6L176.1 807.7L174.0 809.8L171.9 807.7Z" fill="none" stroke="#d03c40" stroke-width="1.1"/>
<path d="M190.1 804.0L192.2 806.1L190.1 808.2L188.0 806.1Z" fill="none" stroke="#d03c40" stroke-width="1.1"/>
<path d="M194.3 803.5L196.4 805.6L194.3 807.7L192.2 805.6Z" fill="none" stroke="#d03c40" stroke-width="1.1"/>
<path d="M205.7 802.0L207.8 804.1L205.7 806.2L203.6 804.1Z" fill="none" stroke="#d03c40" stroke-width="1.1"/>
<path d="M209.8 805.6L211.9 807.7L209.8 809.8L207.7 807.7Z" fill="none" stroke="#d03c40" stroke-width="1.1"/>
<path d="M193.2 808.2L195.3 810.3L193.2 812.4L191.1 810.3Z" fill="none" stroke="#d03c40" stroke-width="1.1"/>
<path d="M198.4 807.7L200.5 809.8L198.4 811.9L196.3 809.8Z" fill="none" stroke="#d03c40" stroke-width="1.1"/>
<path d="M208.8 810.8L210.9 812.9L208.8 815.0L206.7 812.9Z" fill="none" stroke="#d03c40" stroke-width="1.1"/>
<path d="M163.1 811.8L165.2 813.9L163.1 816.0L161.0 813.9Z" fill="none" stroke="#d03c40" stroke-width="1.1"/>
<path d="M205.7 812.3L207.8 814.4L205.7 816.5L203.6 814.4Z" fill="none" stroke="#d03c40" stroke-width="1.1"/>
<path d="M215.9 775.5L218.0 777.6L215.9 779.7L213.8 777.6Z" fill="none" stroke="#d03c40" stroke-width="1.1"/>
<path d="M224.8 771.8L226.9 773.9L224.8 776.0L222.7 773.9Z" fill="none" stroke="#d03c40" stroke-width="1.1"/>
<path d="M224.8 777.0L226.9 779.1L224.8 781.2L222.7 779.1Z" fill="none" stroke="#d03c40" stroke-width="1.1"/>
<path d="M212.8 781.7L214.9 783.8L212.8 785.9L210.7 783.8Z" fill="none" stroke="#d03c40" stroke-width="1.1"/>
<path d="M220.6 784.8L222.7 786.9L220.6 789.0L218.5 786.9Z" fill="none" stroke="#d03c40" stroke-width="1.1"/>
<path d="M243.5 784.8L245.6 786.9L243.5 789.0L241.4 786.9Z" fill="none" stroke="#d03c40" stroke-width="1.1"/>
<path d="M249.2 788.1L251.3 790.2L249.2 792.3L247.1 790.2Z" fill="none" stroke="#d03c40" stroke-width="1.1"/>
<path d="M216.5 794.2L218.6 796.3L216.5 798.4L214.4 796.3Z" fill="none" stroke="#d03c40" stroke-width="1.1"/>
<path d="M214.4 796.8L216.5 798.9L214.4 801.0L212.3 798.9Z" fill="none" stroke="#d03c40" stroke-width="1.1"/>
<path d="M226.0 792.9L228.1 795.0L226.0 797.1L223.9 795.0Z" fill="none" stroke="#d03c40" stroke-width="1.1"/>
<path d="M227.4 797.5L229.5 799.6L227.4 801.7L225.3 799.6Z" fill="none" stroke="#d03c40" stroke-width="1.1"/>
<path d="M224.2 799.4L226.3 801.5L224.2 803.6L222.1 801.5Z" fill="none" stroke="#d03c40" stroke-width="1.1"/>
<path d="M222.7 802.5L224.8 804.6L222.7 806.7L220.6 804.6Z" fill="none" stroke="#d03c40" stroke-width="1.1"/>
<path d="M211.8 799.4L213.9 801.5L211.8 803.6L209.7 801.5Z" fill="none" stroke="#d03c40" stroke-width="1.1"/>
<path d="M213.9 800.9L216.0 803.0L213.9 805.1L211.8 803.0Z" fill="none" stroke="#d03c40" stroke-width="1.1"/>
<path d="M232.6 805.6L234.7 807.7L232.6 809.8L230.5 807.7Z" fill="none" stroke="#d03c40" stroke-width="1.1"/>
<path d="M249.7 805.6L251.8 807.7L249.7 809.8L247.6 807.7Z" fill="none" stroke="#d03c40" stroke-width="1.1"/>
<path d="M206.1 812.9L208.2 815.0L206.1 817.1L204.0 815.0Z" fill="none" stroke="#d03c40" stroke-width="1.1"/>
<path d="M76.0 816.9L78.1 819.0L76.0 821.1L73.9 819.0Z" fill="none" stroke="#d03c40" stroke-width="1.1"/>
<path d="M72.0 817.9L74.1 820.0L72.0 822.1L69.9 820.0Z" fill="none" stroke="#d03c40" stroke-width="1.1"/>
<path d="M82.0 814.9L84.1 817.0L82.0 819.1L79.9 817.0Z" fill="none" stroke="#d03c40" stroke-width="1.1"/>
<path d="M83.0 818.9L85.1 821.0L83.0 823.1L80.9 821.0Z" fill="none" stroke="#d03c40" stroke-width="1.1"/>
<path d="M87.0 816.9L89.1 819.0L87.0 821.1L84.9 819.0Z" fill="none" stroke="#d03c40" stroke-width="1.1"/>
<path d="M90.0 813.9L92.1 816.0L90.0 818.1L87.9 816.0Z" fill="none" stroke="#d03c40" stroke-width="1.1"/>
<path d="M91.0 815.9L93.1 818.0L91.0 820.1L88.9 818.0Z" fill="none" stroke="#d03c40" stroke-width="1.1"/>
<path d="M98.0 816.9L100.1 819.0L98.0 821.1L95.9 819.0Z" fill="none" stroke="#d03c40" stroke-width="1.1"/>
<path d="M99.0 819.9L101.1 822.0L99.0 824.1L96.9 822.0Z" fill="none" stroke="#d03c40" stroke-width="1.1"/>
<path d="M104.0 814.9L106.1 817.0L104.0 819.1L101.9 817.0Z" fill="none" stroke="#d03c40" stroke-width="1.1"/>
<path d="M110.0 814.9L112.1 817.0L110.0 819.1L107.9 817.0Z" fill="none" stroke="#d03c40" stroke-width="1.1"/>
<path d="M116.0 814.9L118.1 817.0L116.0 819.1L113.9 817.0Z" fill="none" stroke="#d03c40" stroke-width="1.1"/>
<path d="M126.0 815.9L128.1 818.0L126.0 820.1L123.9 818.0Z" fill="none" stroke="#d03c40" stroke-width="1.1"/>
<path d="M133.0 813.9L135.1 816.0L133.0 818.1L130.9 816.0Z" fill="none" stroke="#d03c40" stroke-width="1.1"/>
<path d="M136.0 814.9L138.1 817.0L136.0 819.1L133.9 817.0Z" fill="none" stroke="#d03c40" stroke-width="1.1"/>
<path d="M144.0 813.9L146.1 816.0L144.0 818.1L141.9 816.0Z" fill="none" stroke="#d03c40" stroke-width="1.1"/>
<path d="M144.0 816.9L146.1 819.0L144.0 821.1L141.9 819.0Z" fill="none" stroke="#d03c40" stroke-width="1.1"/>
<path d="M153.0 815.9L155.1 818.0L153.0 820.1L150.9 818.0Z" fill="none" stroke="#d03c40" stroke-width="1.1"/>
<path d="M152.0 818.9L154.1 821.0L152.0 823.1L149.9 821.0Z" fill="none" stroke="#d03c40" stroke-width="1.1"/>
<path d="M157.0 813.9L159.1 816.0L157.0 818.1L154.9 816.0Z" fill="none" stroke="#d03c40" stroke-width="1.1"/>
<path d="M172.0 814.9L174.1 817.0L172.0 819.1L169.9 817.0Z" fill="none" stroke="#d03c40" stroke-width="1.1"/>
<path d="M174.0 812.4L176.1 814.5L174.0 816.6L171.9 814.5Z" fill="none" stroke="#d03c40" stroke-width="1.1"/>
<path d="M195.0 812.4L197.1 814.5L195.0 816.6L192.9 814.5Z" fill="none" stroke="#d03c40" stroke-width="1.1"/>
<path d="M208.0 808.9L210.1 811.0L208.0 813.1L205.9 811.0Z" fill="none" stroke="#d03c40" stroke-width="1.1"/>
<circle cx="140.0" cy="722.4" r="1.65" fill="#1515c4"/>
<circle cx="159.3" cy="729.0" r="1.65" fill="#1515c4"/>
<circle cx="206.5" cy="730.8" r="1.65" fill="#1515c4"/>
<circle cx="176.3" cy="735.4" r="1.65" fill="#1515c4"/>
<circle cx="109.5" cy="730.8" r="1.65" fill="#1515c4"/>
<circle cx="135.8" cy="720.9" r="1.65" fill="#1515c4"/>
<circle cx="129.3" cy="748.6" r="1.65" fill="#1515c4"/>
<circle cx="128.2" cy="759.8" r="1.65" fill="#1515c4"/>
<circle cx="156.3" cy="761.4" r="1.65" fill="#1515c4"/>
<circle cx="174.0" cy="751.7" r="1.65" fill="#1515c4"/>
<circle cx="201.5" cy="759.6" r="1.65" fill="#1515c4"/>
<circle cx="80.9" cy="766.2" r="1.65" fill="#1515c4"/>
<circle cx="84.0" cy="766.2" r="1.65" fill="#1515c4"/>
<circle cx="98.1" cy="775.7" r="1.65" fill="#1515c4"/>
<circle cx="109.0" cy="785.4" r="1.65" fill="#1515c4"/>
<circle cx="93.4" cy="792.1" r="1.65" fill="#1515c4"/>
<circle cx="94.4" cy="802.7" r="1.65" fill="#1515c4"/>
<circle cx="93.4" cy="807.7" r="1.65" fill="#1515c4"/>
<circle cx="97.0" cy="807.7" r="1.65" fill="#1515c4"/>
<circle cx="96.5" cy="812.9" r="1.65" fill="#1515c4"/>
<circle cx="113.7" cy="777.6" r="1.65" fill="#1515c4"/>
<circle cx="118.4" cy="775.5" r="1.65" fill="#1515c4"/>
<circle cx="149.0" cy="775.5" r="1.65" fill="#1515c4"/>
<circle cx="131.7" cy="793.2" r="1.65" fill="#1515c4"/>
<circle cx="124.6" cy="798.3" r="1.65" fill="#1515c4"/>
<circle cx="116.3" cy="798.3" r="1.65" fill="#1515c4"/>
<circle cx="118.4" cy="801.5" r="1.65" fill="#1515c4"/>
<circle cx="121.0" cy="802.5" r="1.65" fill="#1515c4"/>
<circle cx="142.3" cy="796.3" r="1.65" fill="#1515c4"/>
<circle cx="146.4" cy="795.2" r="1.65" fill="#1515c4"/>
<circle cx="134.5" cy="805.1" r="1.65" fill="#1515c4"/>
<circle cx="149.5" cy="806.1" r="1.65" fill="#1515c4"/>
<circle cx="158.9" cy="807.7" r="1.65" fill="#1515c4"/>
<circle cx="129.8" cy="810.8" r="1.65" fill="#1515c4"/>
<circle cx="131.9" cy="810.8" r="1.65" fill="#1515c4"/>
<circle cx="137.1" cy="809.8" r="1.65" fill="#1515c4"/>
<circle cx="139.2" cy="811.3" r="1.65" fill="#1515c4"/>
<circle cx="146.9" cy="810.8" r="1.65" fill="#1515c4"/>
<circle cx="114.2" cy="812.9" r="1.65" fill="#1515c4"/>
<circle cx="162.0" cy="810.8" r="1.65" fill="#1515c4"/>
<circle cx="162.6" cy="793.2" r="1.65" fill="#1515c4"/>
<circle cx="198.9" cy="798.1" r="1.65" fill="#1515c4"/>
<circle cx="174.0" cy="810.8" r="1.65" fill="#1515c4"/>
<circle cx="179.2" cy="810.0" r="1.65" fill="#1515c4"/>
<circle cx="179.7" cy="812.9" r="1.65" fill="#1515c4"/>
<circle cx="194.3" cy="812.9" r="1.65" fill="#1515c4"/>
<circle cx="200.0" cy="810.8" r="1.65" fill="#1515c4"/>
<circle cx="168.8" cy="815.5" r="1.65" fill="#1515c4"/>
<circle cx="221.9" cy="775.5" r="1.65" fill="#1515c4"/>
<circle cx="219.6" cy="803.0" r="1.65" fill="#1515c4"/>
<circle cx="234.6" cy="815.5" r="1.65" fill="#1515c4"/>
<circle cx="92.0" cy="822.4" r="1.65" fill="#1515c4"/>
<circle cx="93.0" cy="823.6" r="1.65" fill="#1515c4"/>
<circle cx="99.0" cy="817.0" r="1.65" fill="#1515c4"/>
<circle cx="131.0" cy="815.6" r="1.65" fill="#1515c4"/>
<circle cx="167.0" cy="819.0" r="1.65" fill="#1515c4"/>
<circle cx="182.0" cy="817.6" r="1.65" fill="#1515c4"/>
<circle cx="187.0" cy="817.6" r="1.65" fill="#1515c4"/>
<circle cx="214.0" cy="819.0" r="1.65" fill="#1515c4"/>
<rect x="183.85" y="21.6" width="63.55" height="24.90" fill="#fff" stroke="#8a8a8a" stroke-width="1.1"/>
<circle cx="190.4" cy="30.2" r="1.3" fill="#1515c4"/>
<path d="M190.4 35.8L192.4 37.8L190.4 39.8L188.4 37.8Z" fill="none" stroke="#c04848" stroke-width="0.8"/>
<text x="196.3" y="32.60">Untreated Group</text>
<text x="196.3" y="40.20">Treated Group</text>
<rect x="173.5" y="244.2" width="64.00" height="24.60" fill="#fff" stroke="#8a8a8a" stroke-width="1.1"/>
<circle cx="179.2" cy="252.9" r="1.3" fill="#1515c4"/>
<path d="M179.2 258.6L181.2 260.6L179.2 262.6L177.2 260.6Z" fill="none" stroke="#c04848" stroke-width="0.8"/>
<text x="186.0" y="255.30">Untreated Group</text>
<text x="186.0" y="263.00">Treated Group</text>
<rect x="191.7" y="459.0" width="63.50" height="24.30" fill="#fff" stroke="#8a8a8a" stroke-width="1.1"/>
<circle cx="197.5" cy="467.3" r="1.3" fill="#1515c4"/>
<path d="M197.5 473.0L199.5 475.0L197.5 477.0L195.5 475.0Z" fill="none" stroke="#c04848" stroke-width="0.8"/>
<text x="203.8" y="469.70">Untreated Group</text>
<text x="203.8" y="477.40">Treated Group</text>
<rect x="191.3" y="666.7" width="63.50" height="24.10" fill="#fff" stroke="#8a8a8a" stroke-width="1.1"/>
<circle cx="197.5" cy="674.4" r="1.3" fill="#1515c4"/>
<path d="M197.5 680.7L199.5 682.7L197.5 684.7L195.5 682.7Z" fill="none" stroke="#c04848" stroke-width="0.8"/>
<text x="203.6" y="676.80">Untreated Group</text>
<text x="203.6" y="685.10">Treated Group</text>
<rect x="436.25" y="21.6" width="75.65" height="24.20" fill="#fff" stroke="#8a8a8a" stroke-width="1.1"/>
<line x1="441.8" y1="29.7" x2="454.4" y2="29.7" stroke="#7676e0" stroke-width="0.9"/>
<line x1="441.8" y1="37.5" x2="454.4" y2="37.5" stroke="#e07a7a" stroke-width="0.9"/>
<text x="460.5" y="32.10">Untreated Group</text>
<text x="460.5" y="39.90">Treated Group</text>
<rect x="432.5" y="243.7" width="76.00" height="24.40" fill="#fff" stroke="#8a8a8a" stroke-width="1.1"/>
<line x1="438.3" y1="251.9" x2="450.8" y2="251.9" stroke="#7676e0" stroke-width="0.9"/>
<line x1="438.3" y1="259.6" x2="450.8" y2="259.6" stroke="#e07a7a" stroke-width="0.9"/>
<text x="456.5" y="254.30">Untreated Group</text>
<text x="456.5" y="262.00">Treated Group</text>
<rect x="436.3" y="457.3" width="75.40" height="24.00" fill="#fff" stroke="#8a8a8a" stroke-width="1.1"/>
<line x1="442.1" y1="465.4" x2="454.6" y2="465.4" stroke="#7676e0" stroke-width="0.9"/>
<line x1="442.1" y1="473.7" x2="454.6" y2="473.7" stroke="#e07a7a" stroke-width="0.9"/>
<text x="460.4" y="467.80">Untreated Group</text>
<text x="460.4" y="476.10">Treated Group</text>
<rect x="436.3" y="666.7" width="75.40" height="23.70" fill="#fff" stroke="#8a8a8a" stroke-width="1.1"/>
<line x1="442.1" y1="674.4" x2="454.6" y2="674.4" stroke="#7676e0" stroke-width="0.9"/>
<line x1="442.1" y1="682.7" x2="454.6" y2="682.7" stroke="#e07a7a" stroke-width="0.9"/>
<text x="460.4" y="676.80">Untreated Group</text>
<text x="460.4" y="685.10">Treated Group</text>
<text x="2.0" y="14.1" style="font-weight:bold;font-size:14px;fill:#000">A</text>
<text x="2.3" y="239.5" style="font-weight:bold;font-size:14px;fill:#000">B</text>
<text x="2.3" y="453.3" style="font-weight:bold;font-size:14px;fill:#000">C</text>
<text x="2.3" y="667.2" style="font-weight:bold;font-size:14px;fill:#000">D</text>
</g>
</svg>
</body></html>
